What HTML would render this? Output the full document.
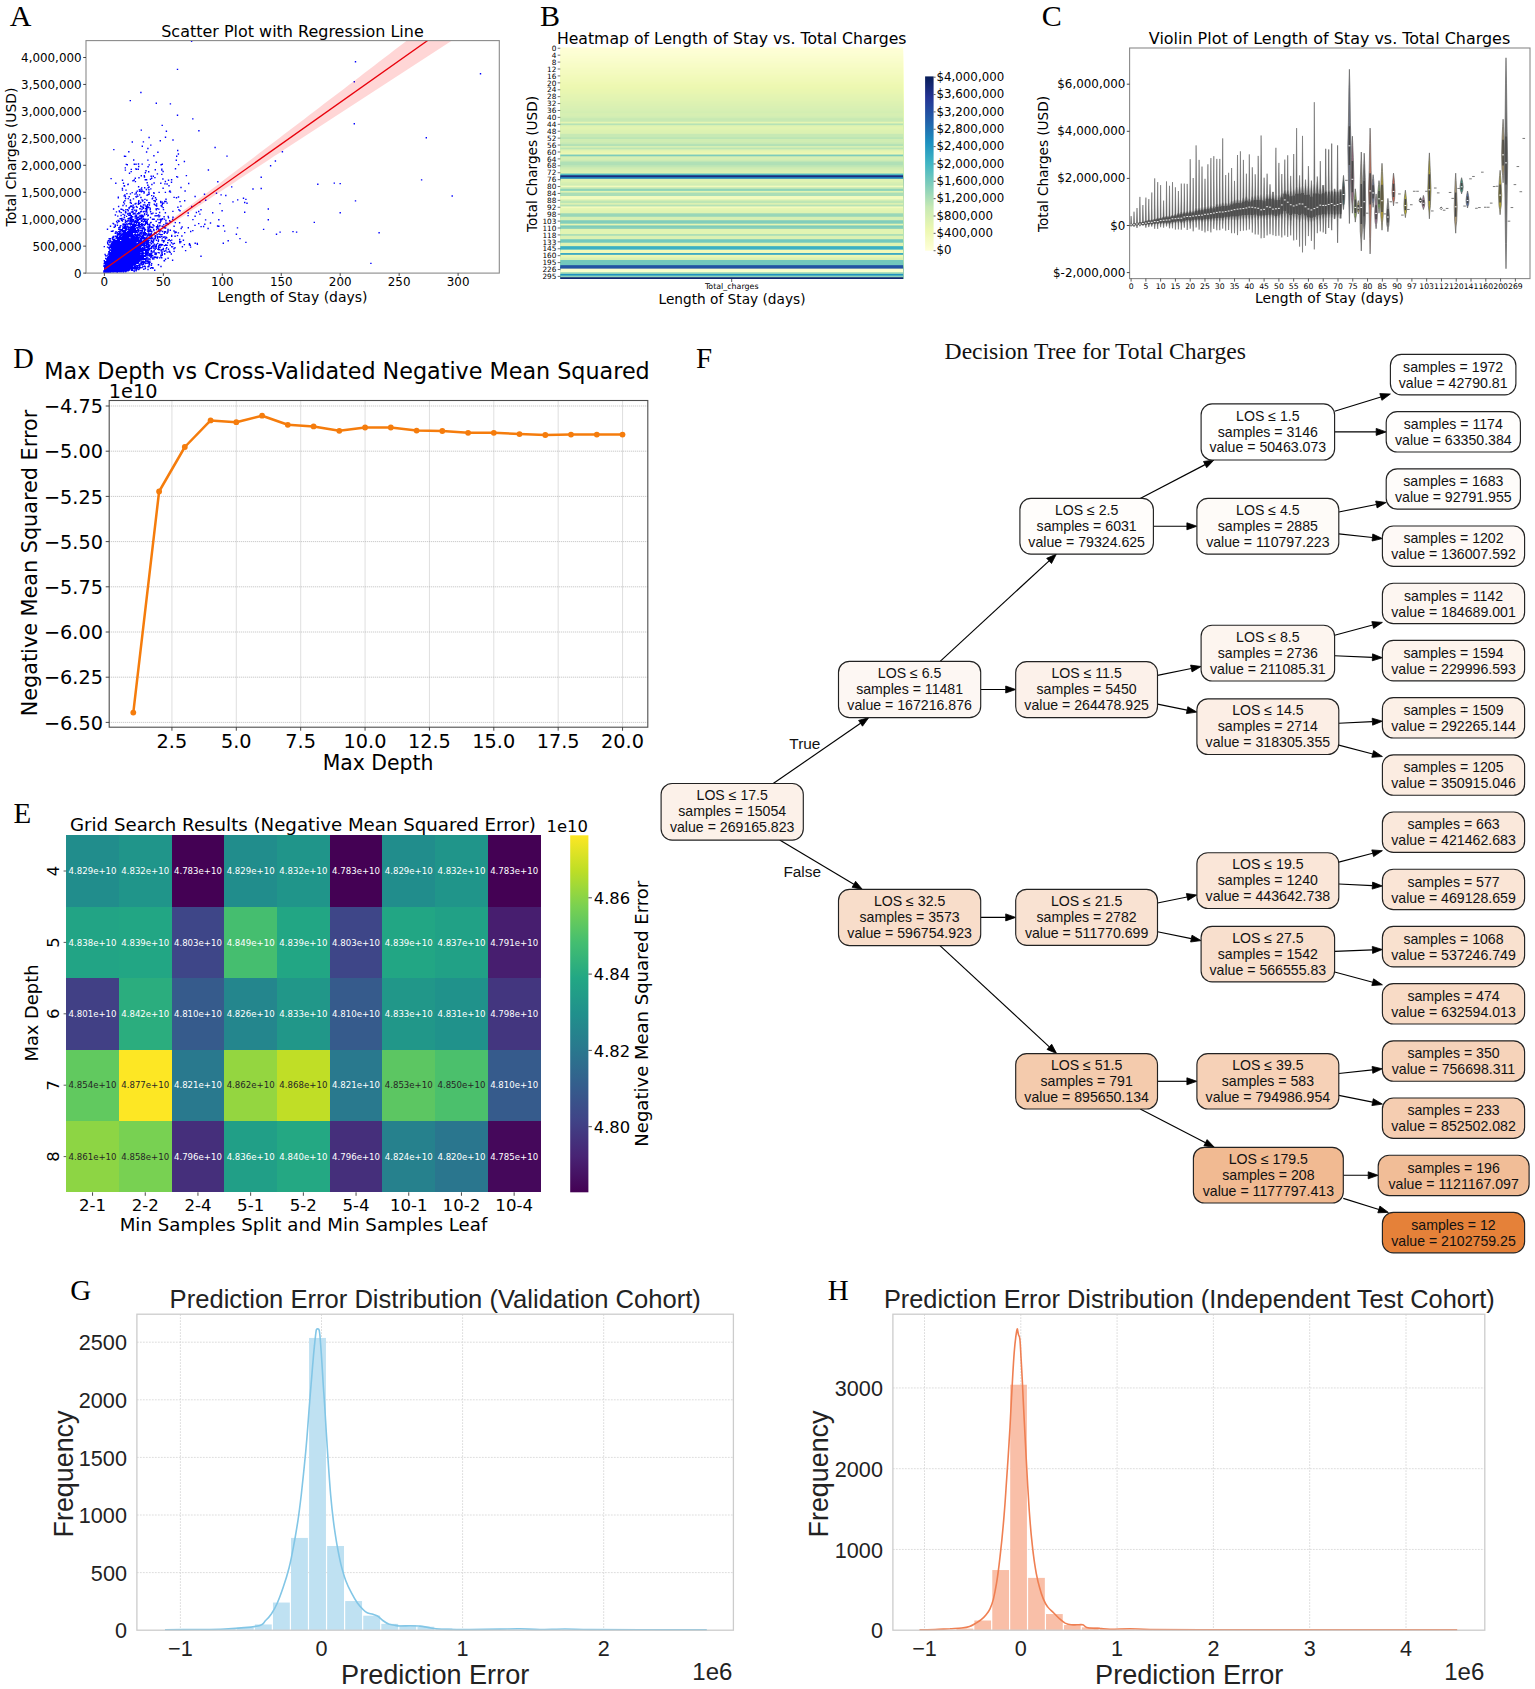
<!DOCTYPE html>
<html lang="en"><head><meta charset="utf-8"><title>Figure</title>
<style>html,body{margin:0;padding:0;background:#fff}svg{display:block}text{white-space:pre}</style></head>
<body><svg width="1535" height="1689" viewBox="0 0 1535 1689">
<rect width="1535" height="1689" fill="#fff"/>
<clipPath id="ca"><rect x="86" y="40.6" width="413.3" height="232.5"/></clipPath>
<g clip-path="url(#ca)">
<path d="M130 219.5h1M130 220.5h2M144 220.5h1M130 221.5h1M135 221.5h2M135 222.5h3M138 223.5h2M146 223.5h1M133 224.5h3M139 224.5h2M132 225.5h4M139 225.5h1M124 226.5h2M131 226.5h5M123 227.5h3M130 227.5h5M124 228.5h2M130 228.5h5M121 229.5h2M129 229.5h7M121 230.5h4M129 230.5h9M122 231.5h4M129 231.5h8M123 232.5h14M143 232.5h2M118 233.5h1M123 233.5h10M143 233.5h3M118 234.5h2M123 234.5h10M138 234.5h1M143 234.5h2M148 234.5h2M123 235.5h11M138 235.5h1M142 235.5h2M149 235.5h2M122 236.5h13M142 236.5h2M116 237.5h13M131 237.5h8M141 237.5h4M117 238.5h12M131 238.5h8M140 238.5h6M117 239.5h22M140 239.5h2M144 239.5h2M113 240.5h7M122 240.5h20M144 240.5h2M113 241.5h33M112 242.5h24M138 242.5h7M112 243.5h24M140 243.5h5M111 244.5h27M140 244.5h5M111 245.5h35M148 245.5h1M110 246.5h31M147 246.5h2M110 247.5h31M147 247.5h2M111 248.5h33M112 249.5h35M112 250.5h35M111 251.5h28M145 251.5h2M109 252.5h30M145 252.5h2M109 253.5h30M145 253.5h2M109 254.5h31M142 254.5h1M145 254.5h2M150 254.5h1M109 255.5h37M108 256.5h38M151 256.5h1M107 257.5h37M107 258.5h38M107 259.5h39M107 260.5h33M105 261.5h33M105 262.5h33M142 262.5h1M144 262.5h1M105 263.5h32M141 263.5h1M105 264.5h28M105 265.5h28M104 266.5h29M104 267.5h33M104 268.5h33M104 269.5h25M132 269.5h1M104 270.5h24M104 271.5h8M116 271.5h3" stroke="#0000ff" stroke-width="1" fill="none" shape-rendering="crispEdges"/>
<path d="M169.9 221.6h1.4M117.6 197.7h1.4M133.5 222.6h1.4M168.3 185.7h1.4M147.6 227.0h1.4M171.9 260.2h1.4M124.7 225.1h1.4M103.3 272.0h1.4M154.0 270.3h1.4M104.1 272.3h1.4M115.0 271.7h1.4M149.7 238.1h1.4M144.7 268.5h1.4M104.6 272.1h1.4M122.5 210.1h1.4M104.7 272.3h1.4M104.7 272.4h1.4M130.5 206.0h1.4M147.6 266.5h1.4M164.9 223.1h1.4M150.5 176.2h1.4M133.5 266.2h1.4M140.0 202.5h1.4M148.3 235.9h1.4M103.5 272.7h1.4M124.8 220.2h1.4M103.3 271.5h1.4M141.6 264.6h1.4M121.8 234.0h1.4M138.7 268.9h1.4M137.0 263.2h1.4M118.7 271.1h1.4M137.1 267.2h1.4M120.5 212.6h1.4M148.8 264.8h1.4M104.9 272.2h1.4M154.4 253.0h1.4M113.3 271.1h1.4M104.1 272.2h1.4M154.3 246.3h1.4M147.0 224.6h1.4M128.5 196.7h1.4M145.9 179.7h1.4M108.4 272.1h1.4M134.6 234.0h1.4M164.2 183.9h1.4M148.2 255.4h1.4M124.6 230.5h1.4M121.8 221.0h1.4M147.1 185.3h1.4M137.0 213.9h1.4M103.4 272.6h1.4M139.0 261.1h1.4M149.5 209.8h1.4M139.3 233.4h1.4M160.0 201.5h1.4M112.4 223.4h1.4M149.7 262.1h1.4M146.5 220.2h1.4M163.1 224.8h1.4M138.0 201.9h1.4M155.7 209.9h1.4M103.4 272.5h1.4M156.6 226.9h1.4M128.1 230.3h1.4M138.6 268.5h1.4M113.0 271.2h1.4M111.8 241.9h1.4M116.5 235.9h1.4M104.1 272.7h1.4M145.2 219.2h1.4M133.4 234.7h1.4M128.0 223.7h1.4M151.0 178.2h1.4M156.9 238.3h1.4M108.3 272.0h1.4M147.4 235.6h1.4M134.4 204.0h1.4M131.2 219.8h1.4M120.4 234.1h1.4M154.4 236.2h1.4M134.6 178.3h1.4M137.7 225.6h1.4M103.4 272.3h1.4M106.3 272.1h1.4M103.4 272.8h1.4M104.7 272.2h1.4M136.9 236.7h1.4M104.6 272.2h1.4M141.5 230.5h1.4M103.5 263.9h1.4M155.7 205.9h1.4M107.1 242.6h1.4M154.8 197.7h1.4M140.2 211.8h1.4M118.7 271.9h1.4M144.3 221.4h1.4M138.9 215.9h1.4M144.0 229.1h1.4M116.5 272.2h1.4M139.5 226.5h1.4M153.5 244.2h1.4M103.9 272.3h1.4M111.8 271.4h1.4M133.5 271.1h1.4M121.0 240.9h1.4M150.1 145.1h1.4M122.9 272.0h1.4M152.0 252.1h1.4M108.4 247.8h1.4M163.8 260.9h1.4M150.4 239.1h1.4M144.7 262.1h1.4M137.7 263.0h1.4M165.3 237.1h1.4M107.5 272.2h1.4M139.1 267.4h1.4M109.5 240.8h1.4M105.9 272.0h1.4M111.8 237.7h1.4M145.8 241.2h1.4M155.6 245.3h1.4M155.4 209.0h1.4M141.4 267.6h1.4M142.7 240.8h1.4M133.6 164.3h1.4M139.4 264.4h1.4M103.4 272.6h1.4M111.5 271.1h1.4M129.6 223.0h1.4M148.2 228.7h1.4M134.5 228.9h1.4M104.0 272.0h1.4M127.2 226.5h1.4M141.1 264.3h1.4M143.9 219.8h1.4M157.7 264.9h1.4M159.0 231.9h1.4M136.2 225.6h1.4M139.2 253.0h1.4M104.9 272.5h1.4M148.9 245.7h1.4M129.7 193.9h1.4M103.7 272.7h1.4M141.7 216.8h1.4M109.4 272.3h1.4M118.7 236.0h1.4M103.6 260.7h1.4M138.3 251.5h1.4M147.4 250.7h1.4M111.8 231.3h1.4M140.2 197.5h1.4M162.6 237.3h1.4M103.5 272.4h1.4M129.6 213.4h1.4M120.4 234.8h1.4M103.9 272.6h1.4M120.9 220.4h1.4M132.9 207.9h1.4M133.5 271.5h1.4M104.8 272.3h1.4M130.6 269.7h1.4M124.8 212.6h1.4M139.3 215.9h1.4M129.3 215.3h1.4M144.2 235.6h1.4M138.1 200.6h1.4M103.5 272.0h1.4M105.0 272.3h1.4M141.2 223.6h1.4M150.1 257.5h1.4M136.9 229.9h1.4M104.0 272.3h1.4M143.5 247.1h1.4M103.8 272.7h1.4M150.9 231.1h1.4M107.2 272.1h1.4M161.8 203.6h1.4M125.2 209.6h1.4M181.2 236.0h1.4M161.0 257.7h1.4M161.2 253.3h1.4M136.6 221.7h1.4M104.8 272.1h1.4M124.2 200.7h1.4M103.2 272.6h1.4M130.6 218.1h1.4M103.5 272.6h1.4M149.9 222.7h1.4M148.8 245.6h1.4M122.5 225.0h1.4M144.6 232.7h1.4M104.1 272.3h1.4M103.2 270.9h1.4M103.9 272.5h1.4M109.9 244.9h1.4M150.6 213.8h1.4M119.8 271.9h1.4M113.3 271.2h1.4M104.5 272.3h1.4M114.7 271.5h1.4M118.8 271.0h1.4M142.7 211.7h1.4M161.4 252.5h1.4M137.1 196.4h1.4M105.0 272.1h1.4M104.5 272.1h1.4M116.9 272.0h1.4M120.0 236.2h1.4M145.9 152.0h1.4M130.0 206.3h1.4M135.3 203.5h1.4M112.3 271.0h1.4M123.6 217.3h1.4M111.2 249.2h1.4M135.7 206.5h1.4M149.3 245.3h1.4M105.0 272.1h1.4M112.1 237.1h1.4M120.1 236.5h1.4M155.6 162.2h1.4M150.8 227.1h1.4M111.5 271.6h1.4M149.0 225.9h1.4M130.6 215.7h1.4M103.7 272.3h1.4M123.3 223.9h1.4M142.7 205.0h1.4M142.8 254.1h1.4M115.5 238.6h1.4M144.2 248.0h1.4M146.5 182.8h1.4M104.0 272.7h1.4M144.5 224.5h1.4M147.3 269.5h1.4M145.1 258.4h1.4M142.7 208.2h1.4M133.0 264.1h1.4M103.3 272.3h1.4M151.2 213.9h1.4M142.4 226.9h1.4M141.7 247.7h1.4M164.2 232.2h1.4M146.5 206.0h1.4M126.4 226.2h1.4M117.4 220.4h1.4M118.6 211.0h1.4M119.4 218.7h1.4M150.7 267.6h1.4M142.6 261.7h1.4M130.5 171.6h1.4M125.9 216.4h1.4M129.9 224.3h1.4M121.6 235.0h1.4M120.1 236.9h1.4M113.5 239.6h1.4M126.1 229.1h1.4M115.3 236.9h1.4M134.2 213.7h1.4M103.9 272.8h1.4M137.8 164.0h1.4M144.1 248.3h1.4M129.4 213.9h1.4M142.2 191.4h1.4M138.8 244.4h1.4M146.9 249.4h1.4M120.4 218.8h1.4M103.8 272.3h1.4M123.8 217.6h1.4M103.9 272.6h1.4M125.3 221.4h1.4M138.8 235.3h1.4M109.8 226.2h1.4M146.4 212.9h1.4M110.9 243.3h1.4M119.8 236.1h1.4M116.5 232.4h1.4M147.0 250.4h1.4M163.5 260.8h1.4M138.7 244.3h1.4M142.4 229.0h1.4M137.7 222.5h1.4M157.1 215.8h1.4M133.6 180.0h1.4M127.6 229.2h1.4M128.9 223.3h1.4M140.3 230.5h1.4M126.8 231.7h1.4M134.3 194.1h1.4M136.7 243.8h1.4M136.8 268.8h1.4M134.8 220.4h1.4M104.0 272.1h1.4M150.6 243.5h1.4M147.3 258.1h1.4M148.9 224.5h1.4M134.2 264.8h1.4M139.3 228.2h1.4M129.8 200.8h1.4M149.2 253.6h1.4M114.6 226.5h1.4M135.8 210.2h1.4M114.6 236.3h1.4M103.6 272.5h1.4M110.6 250.1h1.4M109.3 250.6h1.4M162.7 227.2h1.4M164.7 192.4h1.4M144.2 199.4h1.4M103.9 272.9h1.4M142.4 261.3h1.4M150.4 255.5h1.4M103.3 272.4h1.4M136.0 235.1h1.4M147.3 244.3h1.4M165.4 248.9h1.4M146.2 237.5h1.4M117.0 235.2h1.4M106.3 272.1h1.4M135.8 197.1h1.4M150.5 251.1h1.4M139.9 267.7h1.4M124.7 230.5h1.4M157.5 252.6h1.4M104.9 272.0h1.4M104.4 272.4h1.4M151.0 253.6h1.4M133.0 160.0h1.4M126.4 224.5h1.4M138.3 251.2h1.4M111.8 271.7h1.4M126.6 164.8h1.4M135.9 235.7h1.4M103.4 272.5h1.4M103.3 271.7h1.4M104.6 272.3h1.4M148.1 187.4h1.4M148.2 266.6h1.4M104.6 272.4h1.4M148.5 238.2h1.4M125.3 190.1h1.4M148.4 265.0h1.4M114.7 215.0h1.4M137.6 230.1h1.4M134.3 269.7h1.4M103.7 272.7h1.4M114.1 271.3h1.4M128.0 229.0h1.4M103.3 272.4h1.4M128.6 221.1h1.4M137.6 217.1h1.4M103.5 273.0h1.4M157.2 219.5h1.4M103.3 271.5h1.4M133.9 222.2h1.4M153.5 257.2h1.4M141.3 199.9h1.4M121.2 234.4h1.4M104.1 261.9h1.4M177.2 207.2h1.4M121.6 235.0h1.4M169.7 240.7h1.4M113.0 271.8h1.4M156.9 257.2h1.4M104.8 272.1h1.4M125.6 205.9h1.4M110.9 243.2h1.4M162.8 209.6h1.4M162.4 188.3h1.4M133.6 266.6h1.4M105.0 255.9h1.4M145.3 211.0h1.4M115.3 231.7h1.4M161.9 218.7h1.4M140.4 215.2h1.4M104.9 272.0h1.4M132.3 270.1h1.4M147.4 244.8h1.4M141.0 223.7h1.4M146.0 244.4h1.4M142.2 215.5h1.4M138.9 244.0h1.4M119.3 233.8h1.4M103.7 272.5h1.4M144.9 221.5h1.4M103.3 272.3h1.4M118.9 211.7h1.4M103.5 272.6h1.4M103.3 270.9h1.4M104.2 272.2h1.4M131.0 217.6h1.4M113.3 271.4h1.4M145.8 207.3h1.4M145.2 211.8h1.4M109.2 250.5h1.4M157.0 243.5h1.4M112.4 230.9h1.4M128.1 151.8h1.4M145.4 241.8h1.4M127.7 227.2h1.4M113.9 239.5h1.4M139.0 203.6h1.4M103.8 272.6h1.4M129.8 226.1h1.4M103.8 272.2h1.4M105.1 272.2h1.4M143.8 228.2h1.4M125.9 230.0h1.4M164.7 181.5h1.4M146.3 223.0h1.4M143.5 248.7h1.4M136.4 236.6h1.4M125.3 227.0h1.4M134.7 181.6h1.4M118.7 231.9h1.4M141.2 228.3h1.4M107.6 272.3h1.4M103.9 272.3h1.4M134.1 264.1h1.4M124.6 230.6h1.4M155.4 213.4h1.4M165.3 225.2h1.4M144.8 208.8h1.4M127.4 218.8h1.4M105.2 272.1h1.4M104.0 272.0h1.4M117.9 231.6h1.4M129.3 218.8h1.4M138.1 229.9h1.4M111.9 271.5h1.4M104.7 272.0h1.4M138.9 251.1h1.4M148.7 246.5h1.4M140.3 232.7h1.4M103.5 272.4h1.4M145.7 233.6h1.4M128.6 220.9h1.4M147.7 253.0h1.4M138.9 218.1h1.4M149.9 268.4h1.4M103.5 272.4h1.4M139.1 219.4h1.4M130.8 212.0h1.4M135.3 215.2h1.4M141.9 215.9h1.4M141.9 201.0h1.4M155.5 215.8h1.4M138.0 212.8h1.4M104.5 272.3h1.4M148.1 244.4h1.4M121.8 271.1h1.4M142.8 247.0h1.4M157.1 249.4h1.4M133.4 223.4h1.4M135.1 168.9h1.4M130.1 224.5h1.4M103.8 272.1h1.4M128.5 227.5h1.4M142.5 253.4h1.4M149.6 255.7h1.4M124.5 224.7h1.4M114.2 271.8h1.4M126.4 226.4h1.4M120.6 271.2h1.4M155.6 257.5h1.4M108.3 252.9h1.4M161.0 236.6h1.4M138.3 177.7h1.4M109.9 238.7h1.4M115.6 236.5h1.4M106.5 272.4h1.4M145.7 238.9h1.4M111.7 271.8h1.4M121.0 234.6h1.4M139.0 253.0h1.4M128.4 269.8h1.4M106.1 272.3h1.4M104.1 272.2h1.4M103.9 272.2h1.4M146.6 223.2h1.4M140.7 217.2h1.4M153.3 230.5h1.4M143.9 213.6h1.4M103.8 272.3h1.4M124.6 196.5h1.4M146.0 211.4h1.4M152.4 246.9h1.4M142.6 263.3h1.4M145.8 240.7h1.4M157.8 264.8h1.4M142.3 266.4h1.4M136.8 267.2h1.4M119.8 235.6h1.4M117.9 206.5h1.4M135.8 215.5h1.4M134.5 218.0h1.4M137.2 236.4h1.4M144.2 230.0h1.4M135.3 164.2h1.4M144.0 266.3h1.4M128.9 269.4h1.4M140.3 197.6h1.4M134.8 264.4h1.4M104.0 272.5h1.4M103.5 272.1h1.4M135.8 210.8h1.4M105.1 272.5h1.4M138.3 226.3h1.4M141.0 221.4h1.4M137.1 266.4h1.4M136.5 232.2h1.4M103.3 272.6h1.4M144.9 223.3h1.4M109.2 240.5h1.4M177.7 232.9h1.4M104.0 272.6h1.4M156.0 203.9h1.4M116.9 272.1h1.4M148.9 202.7h1.4M147.5 194.5h1.4M112.9 209.0h1.4M135.5 270.8h1.4M135.6 227.9h1.4M104.9 272.4h1.4M163.1 203.1h1.4M147.0 204.6h1.4M135.4 211.5h1.4M136.5 217.8h1.4M138.1 265.2h1.4M121.7 188.5h1.4M113.3 271.9h1.4M122.8 183.3h1.4M135.9 269.5h1.4M128.3 228.8h1.4M126.2 193.6h1.4M137.9 261.1h1.4M161.5 226.3h1.4M110.4 178.6h1.4M128.5 218.1h1.4M138.9 219.2h1.4M104.6 272.4h1.4M116.7 236.3h1.4M107.2 255.5h1.4M134.4 236.0h1.4M168.9 220.7h1.4M148.3 254.6h1.4M118.1 229.4h1.4M103.5 272.6h1.4M103.7 272.5h1.4M145.2 206.1h1.4M105.2 272.3h1.4M154.1 238.8h1.4M146.0 214.4h1.4M143.5 253.2h1.4M105.3 272.6h1.4M140.2 206.5h1.4M129.8 215.1h1.4M118.7 221.1h1.4M136.9 221.2h1.4M142.6 253.0h1.4M124.7 222.6h1.4M104.5 272.1h1.4M116.7 225.3h1.4M135.5 265.7h1.4M158.4 192.4h1.4M105.3 272.6h1.4M129.6 202.6h1.4M114.6 233.3h1.4M136.4 227.6h1.4M105.3 272.0h1.4M146.0 241.1h1.4M151.0 227.3h1.4M146.2 200.2h1.4M137.6 230.8h1.4M150.5 252.1h1.4M150.4 236.6h1.4M167.8 249.3h1.4M157.9 215.0h1.4M132.8 198.9h1.4M137.9 225.3h1.4M152.1 227.5h1.4M133.6 266.6h1.4M108.5 238.8h1.4M173.7 243.4h1.4M113.4 271.7h1.4M128.6 227.6h1.4M105.2 272.1h1.4M137.6 230.9h1.4M123.9 215.2h1.4M135.1 266.4h1.4M143.5 192.0h1.4M154.6 169.8h1.4M139.1 226.6h1.4M138.1 243.0h1.4M103.6 272.5h1.4M123.7 203.9h1.4M103.4 272.4h1.4M137.8 231.7h1.4M124.0 271.1h1.4M127.4 213.4h1.4M121.3 235.7h1.4M110.9 250.8h1.4M128.2 229.9h1.4M132.3 212.3h1.4M103.9 272.3h1.4M124.9 156.4h1.4M149.3 242.6h1.4M107.6 254.1h1.4M144.8 224.2h1.4M143.1 269.3h1.4M144.9 260.5h1.4M142.7 216.8h1.4M124.7 222.1h1.4M105.3 272.5h1.4M165.3 199.3h1.4M132.8 265.0h1.4M113.3 271.6h1.4M157.2 228.4h1.4M127.5 198.6h1.4M144.0 187.8h1.4M147.6 215.3h1.4M134.3 264.3h1.4M128.4 208.6h1.4M135.3 215.4h1.4M105.7 258.9h1.4M121.1 271.8h1.4M149.4 234.3h1.4M146.2 242.7h1.4M162.9 240.8h1.4M118.7 271.3h1.4M106.3 272.1h1.4M104.7 272.2h1.4M141.8 216.2h1.4M127.2 184.6h1.4M159.1 215.9h1.4M161.8 244.7h1.4M104.5 272.1h1.4M159.1 249.5h1.4M112.9 223.9h1.4M164.7 238.7h1.4M143.9 221.0h1.4M105.7 272.2h1.4M149.0 245.5h1.4M122.5 271.1h1.4M130.9 219.0h1.4M133.6 221.5h1.4M155.8 205.5h1.4M146.6 241.9h1.4M130.7 222.9h1.4M128.5 224.1h1.4M137.5 219.9h1.4M161.9 231.5h1.4M104.1 272.2h1.4M139.9 202.5h1.4M157.8 247.5h1.4M108.7 251.9h1.4M148.6 258.9h1.4M121.2 209.4h1.4M104.1 265.7h1.4M155.7 199.5h1.4M150.4 257.3h1.4M122.4 214.4h1.4M137.7 204.3h1.4M138.0 166.5h1.4M141.6 207.0h1.4M135.8 216.8h1.4M145.8 246.3h1.4M139.1 208.8h1.4M106.2 272.7h1.4M104.7 272.1h1.4M156.0 206.0h1.4M141.6 225.5h1.4M135.8 223.8h1.4M119.4 226.3h1.4M103.7 272.2h1.4M122.3 205.5h1.4M164.0 254.1h1.4M104.7 272.1h1.4M134.7 266.8h1.4M126.3 221.8h1.4M141.7 251.7h1.4M156.5 234.8h1.4M135.2 220.9h1.4M158.1 209.1h1.4M148.4 137.5h1.4M147.6 245.0h1.4M136.7 227.9h1.4M116.7 222.9h1.4M144.7 243.0h1.4M147.3 240.3h1.4M152.3 213.1h1.4M103.3 272.9h1.4M150.7 265.2h1.4M148.7 205.0h1.4M142.5 264.2h1.4M131.1 224.2h1.4M144.2 261.7h1.4M142.8 263.7h1.4M103.8 272.2h1.4M103.7 272.1h1.4M104.4 272.4h1.4M153.0 219.2h1.4M140.6 220.1h1.4M148.5 225.1h1.4M128.1 215.2h1.4M156.6 258.0h1.4M147.3 207.0h1.4M113.3 271.4h1.4M136.8 234.6h1.4M109.5 245.9h1.4M130.9 270.3h1.4M106.9 247.1h1.4M133.2 207.3h1.4M152.5 242.5h1.4M153.4 193.4h1.4M143.5 211.5h1.4M142.5 240.5h1.4M103.7 272.2h1.4M131.6 270.3h1.4M107.7 272.1h1.4M160.2 256.9h1.4M151.6 238.1h1.4M125.9 227.9h1.4M141.3 232.7h1.4M139.4 230.8h1.4M104.6 272.0h1.4M141.5 252.0h1.4M104.7 272.2h1.4M157.7 236.9h1.4M137.8 229.6h1.4M106.2 260.8h1.4M138.7 253.3h1.4M103.3 271.4h1.4M135.6 236.3h1.4M137.5 224.9h1.4M143.3 193.1h1.4M109.3 241.8h1.4M111.0 250.8h1.4M137.5 230.5h1.4M140.4 236.3h1.4M150.9 248.2h1.4M135.6 192.5h1.4M132.0 212.0h1.4M107.2 256.1h1.4M146.9 227.1h1.4M131.8 221.3h1.4M146.6 252.9h1.4M160.5 250.7h1.4M145.4 244.3h1.4M108.3 272.1h1.4M140.3 236.6h1.4M175.8 197.7h1.4M138.9 264.2h1.4M143.1 218.7h1.4M152.0 255.8h1.4M159.4 247.4h1.4M108.1 251.8h1.4M114.5 225.0h1.4M109.9 272.1h1.4M146.5 253.8h1.4M108.6 272.1h1.4M165.1 250.8h1.4M151.0 246.8h1.4M119.4 227.2h1.4M160.5 205.7h1.4M158.1 226.9h1.4M140.6 175.7h1.4M122.3 224.1h1.4M109.3 240.9h1.4M150.1 257.8h1.4M128.6 269.2h1.4M141.1 224.3h1.4M104.1 272.7h1.4M103.5 272.6h1.4M154.8 232.6h1.4M104.0 272.6h1.4M123.0 219.4h1.4M127.2 220.8h1.4M136.8 236.0h1.4M156.4 227.7h1.4M123.5 225.1h1.4M108.1 244.8h1.4M142.2 266.6h1.4M129.3 238.5h1.4M148.6 254.5h1.4M140.7 230.9h1.4M138.9 194.9h1.4M139.1 237.3h1.4M155.8 226.8h1.4M128.3 219.1h1.4M115.8 211.9h1.4M157.0 225.3h1.4M142.2 234.1h1.4M115.5 236.9h1.4M120.2 234.7h1.4M143.0 227.4h1.4M171.0 236.3h1.4M131.5 192.6h1.4M137.8 203.2h1.4M104.1 272.8h1.4M140.0 206.0h1.4M103.4 265.7h1.4M129.7 200.0h1.4M106.4 272.9h1.4M136.9 234.0h1.4M138.6 234.6h1.4M131.2 222.5h1.4M135.6 225.5h1.4M145.9 238.5h1.4M161.3 206.6h1.4M144.8 237.9h1.4M141.7 228.4h1.4M103.7 272.3h1.4M128.9 213.2h1.4M120.4 232.0h1.4M106.3 272.1h1.4M144.6 263.6h1.4M104.4 272.1h1.4M158.8 252.9h1.4M107.0 243.8h1.4M136.7 232.2h1.4M129.8 217.2h1.4M104.4 272.3h1.4M154.8 235.7h1.4M142.3 261.3h1.4M157.2 152.2h1.4M145.7 189.5h1.4M129.9 217.4h1.4M132.4 205.2h1.4M109.5 241.3h1.4M139.9 211.8h1.4M154.8 257.3h1.4M140.1 226.1h1.4M160.2 220.0h1.4M145.9 240.8h1.4M136.8 265.7h1.4M151.2 231.9h1.4M119.4 229.3h1.4M130.6 203.3h1.4M119.1 236.8h1.4M167.2 232.1h1.4M146.6 252.0h1.4M143.4 248.8h1.4M146.3 253.0h1.4M159.5 222.7h1.4M139.1 239.0h1.4M158.3 222.8h1.4M141.0 187.9h1.4M144.7 219.5h1.4M142.5 227.7h1.4M135.6 193.1h1.4M154.3 254.4h1.4M104.1 272.3h1.4M139.0 213.1h1.4M151.8 219.2h1.4M139.2 222.5h1.4M141.3 209.3h1.4M147.4 219.2h1.4M113.1 271.6h1.4M120.4 209.3h1.4M113.3 271.4h1.4M112.9 237.6h1.4M165.7 131.3h1.4M115.1 183.2h1.4M104.9 272.5h1.4M103.2 272.3h1.4M141.5 231.9h1.4M161.2 249.8h1.4M119.0 231.7h1.4M103.4 272.2h1.4M103.9 272.4h1.4M138.9 216.1h1.4M134.0 222.2h1.4M148.3 187.0h1.4M161.1 169.1h1.4M131.0 221.0h1.4M105.3 272.1h1.4M136.3 219.8h1.4M150.1 231.3h1.4M109.1 247.2h1.4M153.4 219.3h1.4M142.7 262.8h1.4M136.4 234.7h1.4M104.1 272.9h1.4M150.5 241.1h1.4M151.6 198.7h1.4M148.4 248.5h1.4M114.8 271.9h1.4M105.3 272.3h1.4M128.0 229.4h1.4M105.1 272.1h1.4M136.6 234.7h1.4M137.7 231.6h1.4M147.0 244.3h1.4M103.4 272.1h1.4M146.6 238.4h1.4M132.4 214.1h1.4M111.5 271.5h1.4M147.7 241.8h1.4M104.8 272.3h1.4M160.2 255.2h1.4M152.1 267.7h1.4M142.7 221.8h1.4M104.0 272.3h1.4M152.1 241.3h1.4M109.3 249.1h1.4M158.3 231.1h1.4M148.7 256.0h1.4M123.4 195.9h1.4M128.6 238.9h1.4M140.3 251.6h1.4M138.1 227.1h1.4M153.6 204.3h1.4M152.3 268.2h1.4M110.7 231.4h1.4M131.8 207.0h1.4M143.6 175.7h1.4M141.2 190.0h1.4M144.9 243.1h1.4M112.8 236.5h1.4M132.9 213.8h1.4M131.5 219.4h1.4M154.6 237.3h1.4M132.9 221.0h1.4M105.3 272.0h1.4M147.2 148.5h1.4M114.7 271.2h1.4M147.2 229.0h1.4M130.7 216.4h1.4M136.4 237.0h1.4M167.8 217.8h1.4M146.4 234.5h1.4M135.9 218.5h1.4M138.1 224.2h1.4M140.5 254.3h1.4M135.8 169.2h1.4M146.5 222.5h1.4M164.0 253.6h1.4M127.4 270.8h1.4M148.5 261.8h1.4M138.2 213.7h1.4M148.1 250.6h1.4M149.5 208.3h1.4M125.6 223.9h1.4M103.4 272.5h1.4M146.1 255.3h1.4M132.3 180.7h1.4M105.3 272.3h1.4M154.5 238.3h1.4M127.0 214.1h1.4M125.0 212.7h1.4M118.2 227.7h1.4M103.6 272.1h1.4M104.9 272.3h1.4M105.3 272.4h1.4M137.6 225.0h1.4M104.9 272.2h1.4M126.2 221.5h1.4M144.2 204.9h1.4M113.1 149.6h1.4M103.4 272.1h1.4M151.8 235.3h1.4M128.4 239.0h1.4M130.7 206.3h1.4M122.3 226.8h1.4M162.7 248.5h1.4M164.0 201.5h1.4M134.3 235.0h1.4M149.7 236.4h1.4M112.4 271.2h1.4M140.2 226.7h1.4M103.9 272.4h1.4M111.5 271.2h1.4M128.6 215.2h1.4M110.1 272.1h1.4M152.2 242.2h1.4M139.0 236.9h1.4M113.9 271.4h1.4M162.8 242.1h1.4M105.6 255.9h1.4M149.9 227.0h1.4M103.7 263.2h1.4M146.4 195.2h1.4M125.2 271.1h1.4M146.0 233.8h1.4M163.4 216.7h1.4M153.0 229.5h1.4M129.5 238.0h1.4M177.9 164.6h1.4M160.1 202.5h1.4M125.1 212.5h1.4M112.1 271.3h1.4M132.1 224.4h1.4M140.1 263.1h1.4M122.3 232.9h1.4M125.6 164.4h1.4M150.8 237.9h1.4M141.5 220.0h1.4M138.6 234.3h1.4M129.2 207.1h1.4M136.4 194.9h1.4M112.4 272.0h1.4M147.4 187.9h1.4M159.4 237.3h1.4M138.3 252.6h1.4M161.1 170.1h1.4M103.3 271.8h1.4M127.4 270.4h1.4M121.3 218.4h1.4M119.1 271.5h1.4M141.3 264.8h1.4M142.7 219.6h1.4M147.3 255.1h1.4M113.5 227.3h1.4M105.0 258.5h1.4M141.6 230.3h1.4M150.0 234.2h1.4M149.3 259.7h1.4M148.1 233.2h1.4M146.9 231.1h1.4M103.7 272.7h1.4M123.9 271.1h1.4M122.7 228.1h1.4M168.8 251.2h1.4M155.5 244.8h1.4M146.2 209.6h1.4M116.3 233.5h1.4M149.9 229.5h1.4M143.9 214.8h1.4M173.3 231.0h1.4M134.7 228.4h1.4M153.3 251.9h1.4M146.0 208.6h1.4M105.1 272.0h1.4M124.9 198.5h1.4M127.0 226.6h1.4M151.0 251.5h1.4M138.3 267.8h1.4M125.8 271.0h1.4M108.4 272.0h1.4M119.0 236.2h1.4M141.1 236.4h1.4M142.2 200.4h1.4M149.3 230.2h1.4M105.0 272.1h1.4M141.0 225.4h1.4M142.2 251.8h1.4M104.7 272.2h1.4M137.8 243.1h1.4M124.8 229.4h1.4M120.1 225.6h1.4M126.9 209.6h1.4M147.7 241.4h1.4M103.6 272.1h1.4M136.3 243.5h1.4M106.9 242.2h1.4M109.7 272.1h1.4M137.6 220.4h1.4M104.9 272.1h1.4M117.6 197.2h1.4M106.2 272.0h1.4M136.9 266.8h1.4M118.9 236.5h1.4M145.1 222.5h1.4M144.8 223.8h1.4M121.8 180.3h1.4M109.7 272.0h1.4M140.7 211.2h1.4M158.8 245.3h1.4M144.7 266.9h1.4M103.5 272.6h1.4M152.2 238.3h1.4M148.2 192.3h1.4M105.0 272.5h1.4M103.4 272.4h1.4M120.0 233.8h1.4M109.1 242.5h1.4M147.5 263.0h1.4M103.9 272.0h1.4M104.5 272.2h1.4M123.0 210.6h1.4M104.1 272.2h1.4M141.1 225.3h1.4M105.0 272.2h1.4M151.0 263.6h1.4M145.7 247.5h1.4M147.0 215.9h1.4M148.0 202.7h1.4M103.3 272.6h1.4M135.6 243.0h1.4M147.3 266.7h1.4M166.5 252.1h1.4M124.9 211.4h1.4M140.5 236.5h1.4M141.0 232.9h1.4M134.5 234.3h1.4M123.0 202.2h1.4M119.4 230.6h1.4M147.4 238.5h1.4M150.4 222.4h1.4M152.3 224.8h1.4M103.7 272.7h1.4M105.0 272.1h1.4M140.7 191.7h1.4M138.3 243.6h1.4M120.4 215.5h1.4M104.4 272.1h1.4M103.6 272.2h1.4M106.8 229.2h1.4M139.5 208.9h1.4M145.1 238.0h1.4M155.9 229.5h1.4M167.0 242.8h1.4M117.9 221.6h1.4M112.7 239.7h1.4M140.7 232.6h1.4M141.2 218.3h1.4M134.4 213.1h1.4M166.4 203.1h1.4M151.2 184.5h1.4M170.6 254.0h1.4M137.9 244.0h1.4M137.5 219.3h1.4M154.6 205.1h1.4M107.1 272.0h1.4M160.3 266.5h1.4M129.5 238.8h1.4M136.3 227.9h1.4M106.2 260.3h1.4M115.9 221.5h1.4M150.5 233.5h1.4M121.4 219.8h1.4M153.3 200.6h1.4M104.9 272.1h1.4M103.9 272.7h1.4M128.2 231.5h1.4M133.5 264.8h1.4M119.2 227.4h1.4M137.6 169.3h1.4M147.4 166.7h1.4M139.4 235.4h1.4M138.6 252.9h1.4M141.0 236.3h1.4M104.9 272.4h1.4M129.4 213.6h1.4M119.9 229.7h1.4M104.5 272.1h1.4M103.2 272.5h1.4M138.7 189.6h1.4M158.3 216.9h1.4M137.9 269.6h1.4M117.1 216.1h1.4M103.5 272.9h1.4M105.3 272.5h1.4M132.1 209.1h1.4M103.7 272.2h1.4M141.3 261.5h1.4M108.4 248.5h1.4M143.5 253.4h1.4M151.0 195.6h1.4M146.5 236.0h1.4M141.6 146.2h1.4M103.9 272.8h1.4M147.7 261.8h1.4M135.3 196.6h1.4M134.4 216.2h1.4M149.4 248.1h1.4M147.3 248.3h1.4M127.4 223.9h1.4M131.3 209.6h1.4M177.8 197.0h1.4M104.8 272.0h1.4M149.6 238.3h1.4M150.8 241.6h1.4M140.3 216.3h1.4M103.6 272.0h1.4M134.7 235.2h1.4M144.1 229.7h1.4M136.7 213.8h1.4M132.0 216.8h1.4M145.9 210.0h1.4M141.5 252.2h1.4M104.5 272.5h1.4M106.0 272.4h1.4M112.1 271.0h1.4M140.7 262.6h1.4M146.1 257.5h1.4M154.5 247.0h1.4M115.3 231.9h1.4M104.4 254.5h1.4M155.5 221.3h1.4M142.7 141.9h1.4M162.4 171.5h1.4M104.1 272.9h1.4M103.4 272.3h1.4M124.7 225.7h1.4M103.3 271.5h1.4M140.3 215.7h1.4M118.8 233.2h1.4M103.9 272.2h1.4M141.1 215.2h1.4M112.1 271.2h1.4M147.6 259.9h1.4M127.5 210.8h1.4M133.5 264.1h1.4M104.1 272.2h1.4M128.2 230.3h1.4M104.6 272.1h1.4M103.4 272.1h1.4M111.2 241.5h1.4M125.7 228.0h1.4M132.2 211.1h1.4M148.8 245.1h1.4M165.3 201.5h1.4M125.0 271.7h1.4M143.7 231.3h1.4M119.1 271.3h1.4M161.1 219.5h1.4M148.2 207.4h1.4M107.6 240.8h1.4M122.1 228.5h1.4M153.4 250.5h1.4M103.3 266.2h1.4M132.8 219.7h1.4M154.2 177.6h1.4M148.4 240.3h1.4M103.3 272.4h1.4M104.8 272.4h1.4M155.5 233.1h1.4M103.3 272.8h1.4M121.2 271.8h1.4M104.0 272.7h1.4M128.4 207.7h1.4M140.1 218.3h1.4M161.1 174.4h1.4M104.9 272.2h1.4M140.6 130.1h1.4M104.0 263.9h1.4M137.8 217.4h1.4M153.2 225.7h1.4M112.1 239.2h1.4M146.0 221.8h1.4M140.4 234.3h1.4M147.3 260.0h1.4M164.7 212.8h1.4M116.8 234.0h1.4M138.9 266.1h1.4M136.5 207.4h1.4M103.5 272.3h1.4M128.3 270.2h1.4M108.3 247.7h1.4M103.6 272.4h1.4M134.1 210.3h1.4M111.5 271.4h1.4M131.6 142.0h1.4M153.3 258.9h1.4M145.8 244.0h1.4M103.4 272.2h1.4M147.3 249.0h1.4M124.7 170.1h1.4M137.2 228.3h1.4M150.4 253.9h1.4M146.2 240.3h1.4M138.2 261.5h1.4M112.9 271.6h1.4M103.6 246.6h1.4M120.0 271.4h1.4M103.6 272.1h1.4M146.3 221.8h1.4M127.0 226.8h1.4M147.7 231.6h1.4M142.7 240.9h1.4M130.6 169.4h1.4M188.0 183.5h1.4M169.8 192.1h1.4M127.5 184.1h1.4M123.8 156.3h1.4M180.3 187.5h1.4M169.2 191.0h1.4M167.8 180.2h1.4M149.8 179.2h1.4M128.8 173.3h1.4M164.8 137.3h1.4M136.6 191.1h1.4M168.8 191.6h1.4M152.6 176.3h1.4M141.5 164.1h1.4M121.8 190.1h1.4M174.8 168.8h1.4M153.1 192.8h1.4M124.6 167.9h1.4M166.4 184.0h1.4M137.9 186.7h1.4M148.5 164.9h1.4M139.7 191.0h1.4M159.6 140.7h1.4M175.6 160.3h1.4M177.7 154.0h1.4M144.7 172.8h1.4M123.5 185.8h1.4M138.8 191.3h1.4M161.6 164.3h1.4M176.0 176.6h1.4M124.2 194.9h1.4M145.3 170.7h1.4M160.4 164.7h1.4M143.8 177.0h1.4M170.9 179.8h1.4M176.0 156.2h1.4M123.8 186.0h1.4M184.4 191.0h1.4M144.6 179.7h1.4M147.2 160.1h1.4M153.4 183.0h1.4M148.2 189.8h1.4M176.9 177.1h1.4M153.2 155.7h1.4M148.0 171.8h1.4M150.1 188.9h1.4M172.3 140.0h1.4M162.2 179.0h1.4M185.7 175.6h1.4M214.4 147.5h1.4M162.5 249.5h1.4M150.7 250.4h1.4M146.0 246.8h1.4M142.8 262.1h1.4M161.5 234.6h1.4M163.6 251.3h1.4M150.7 235.5h1.4M148.7 263.2h1.4M216.9 226.0h1.4M161.6 202.1h1.4M180.5 228.5h1.4M155.6 253.3h1.4M161.3 253.2h1.4M163.7 245.6h1.4M140.2 232.7h1.4M161.3 252.6h1.4M192.2 219.6h1.4M158.1 233.9h1.4M196.6 243.5h1.4M146.0 245.3h1.4M169.5 252.4h1.4M166.0 237.7h1.4M221.4 210.8h1.4M180.1 241.8h1.4M164.9 231.7h1.4M147.3 252.2h1.4M170.8 242.7h1.4M153.0 196.3h1.4M147.5 243.2h1.4M179.3 201.6h1.4M161.4 252.0h1.4M172.2 211.4h1.4M146.3 261.3h1.4M154.6 254.3h1.4M173.4 251.4h1.4M174.6 222.6h1.4M159.1 236.7h1.4M237.0 199.9h1.4M204.1 224.3h1.4M139.3 233.0h1.4M146.1 257.8h1.4M159.1 244.4h1.4M184.0 200.7h1.4M143.9 202.5h1.4M215.8 193.2h1.4M155.7 244.4h1.4M148.6 227.1h1.4M142.4 266.5h1.4M163.9 236.9h1.4M179.0 239.4h1.4M181.4 227.0h1.4M147.5 230.5h1.4M200.3 256.3h1.4M154.3 215.9h1.4M245.2 199.4h1.4M159.3 247.1h1.4M188.7 244.7h1.4M144.9 258.5h1.4M147.4 252.6h1.4M158.1 229.2h1.4M166.2 223.2h1.4M139.3 251.4h1.4M148.5 231.3h1.4M161.5 238.9h1.4M191.0 206.5h1.4M173.4 226.3h1.4M139.2 252.4h1.4M149.7 248.6h1.4M138.9 253.8h1.4M148.5 194.0h1.4M209.8 223.0h1.4M158.0 231.2h1.4M160.2 234.7h1.4M182.7 240.3h1.4M142.4 262.3h1.4M160.4 244.4h1.4M246.3 203.2h1.4M159.1 225.5h1.4M151.9 246.0h1.4M200.3 209.7h1.4M169.7 222.1h1.4M188.8 243.8h1.4M138.9 253.3h1.4M174.5 232.0h1.4M165.1 245.4h1.4M164.9 228.0h1.4M158.2 249.8h1.4M175.5 232.3h1.4M146.1 263.3h1.4M150.7 240.8h1.4M157.9 246.0h1.4M159.2 230.1h1.4M150.9 243.4h1.4M160.4 245.5h1.4M147.4 243.7h1.4M153.2 245.6h1.4M180.2 206.1h1.4M136.8 234.7h1.4M141.3 236.1h1.4M187.5 213.0h1.4M171.0 235.5h1.4M167.3 229.5h1.4M163.8 237.1h1.4M173.3 248.7h1.4M151.0 255.2h1.4M153.2 248.2h1.4M148.5 224.1h1.4M156.7 173.9h1.4M170.8 182.3h1.4M169.6 245.1h1.4M168.4 251.7h1.4M152.0 198.1h1.4M160.4 219.2h1.4M161.6 204.8h1.4M167.5 224.2h1.4M217.1 181.7h1.4M160.2 230.8h1.4M147.2 207.9h1.4M172.0 246.9h1.4M198.0 211.5h1.4M161.3 255.3h1.4M157.9 248.9h1.4M141.3 252.1h1.4M184.9 250.6h1.4M179.3 210.8h1.4M146.3 256.9h1.4M205.0 200.3h1.4M144.8 229.8h1.4M167.4 223.9h1.4M153.3 234.2h1.4M146.0 241.4h1.4M142.4 240.0h1.4M203.8 194.3h1.4M165.1 244.6h1.4M207.4 228.5h1.4M189.9 247.1h1.4M181.7 246.7h1.4M178.2 209.8h1.4M163.8 219.1h1.4M187.4 215.6h1.4M177.0 150.5h1.4M155.4 254.6h1.4M174.3 232.8h1.4M222.6 243.3h1.4M189.6 245.2h1.4M164.8 259.3h1.4M174.4 236.3h1.4M139.3 265.6h1.4M162.7 226.9h1.4M200.4 226.6h1.4M146.3 241.4h1.4M142.8 207.1h1.4M144.0 246.8h1.4M154.6 201.6h1.4M166.4 245.4h1.4M174.3 247.7h1.4M173.4 197.4h1.4M140.3 260.7h1.4M171.0 246.7h1.4M184.0 232.6h1.4M194.3 225.4h1.4M154.2 232.8h1.4M144.8 234.7h1.4M159.3 225.8h1.4M144.0 248.3h1.4M162.5 207.6h1.4M165.2 220.5h1.4M154.2 256.9h1.4M172.3 217.3h1.4M160.1 183.2h1.4M137.9 261.5h1.4M218.1 219.7h1.4M167.4 240.4h1.4M149.8 217.5h1.4M148.6 227.5h1.4M163.7 241.0h1.4M163.6 227.7h1.4M146.2 261.0h1.4M167.4 258.3h1.4M157.8 239.9h1.4M199.2 214.1h1.4M161.4 240.6h1.4M152.2 238.7h1.4M167.5 216.4h1.4M154.5 201.0h1.4M202.9 226.5h1.4M152.0 257.9h1.4M172.3 244.0h1.4M163.9 231.6h1.4M190.0 231.5h1.4M207.7 170.0h1.4M157.7 241.2h1.4M159.3 219.5h1.4M155.6 246.8h1.4M179.0 241.3h1.4M179.2 242.8h1.4M150.9 243.9h1.4M199.0 202.4h1.4M145.9 244.3h1.4M232.3 201.9h1.4M151.0 236.5h1.4M155.8 240.3h1.4M194.5 243.2h1.4M143.6 225.3h1.4M140.3 189.1h1.4M198.2 130.7h1.4M198.0 223.6h1.4M195.7 212.5h1.4M139.0 252.1h1.4M141.3 253.4h1.4M154.5 249.3h1.4M136.7 243.8h1.4M161.6 254.6h1.4M150.7 233.9h1.4M166.4 233.2h1.4M172.0 219.2h1.4M187.6 227.8h1.4M153.0 239.9h1.4M194.4 196.5h1.4M148.6 249.2h1.4M167.3 230.7h1.4M176.8 235.6h1.4M180.2 241.9h1.4M165.2 220.7h1.4M163.6 233.3h1.4M158.9 212.5h1.4M171.0 240.1h1.4M159.0 257.9h1.4M155.5 248.4h1.4M140.3 246.6h1.4M183.7 244.6h1.4M236.8 227.9h1.4M183.7 161.5h1.4M168.6 239.8h1.4M146.0 259.0h1.4M156.8 208.6h1.4M152.1 259.1h1.4M212.0 212.7h1.4M156.6 236.8h1.4M196.7 244.4h1.4M178.9 222.8h1.4M140.4 236.2h1.4M142.5 224.5h1.4M149.9 211.7h1.4M148.7 230.9h1.4M204.9 219.9h1.4M156.9 226.6h1.4M153.0 240.7h1.4M192.1 230.6h1.4M169.6 230.2h1.4M159.2 234.4h1.4M140.4 253.7h1.4M160.1 221.3h1.4M219.3 203.6h1.4M166.0 247.6h1.4M194.4 216.2h1.4M151.9 246.5h1.4M153.3 251.5h1.4M176.8 69.4h1.4M140.2 92.5h1.4M129.6 100.6h1.4M155.6 103.3h1.4M169.7 103.9h1.4M176.8 115.2h1.4M192.1 118.9h1.4M161.5 125.4h1.4M354.8 61.8h1.4M353.6 81.8h1.4M479.8 73.7h1.4M353.6 123.8h1.4M425.6 137.8h1.4M226.3 156.1h1.4M281.7 151.8h1.4M274.7 161.0h1.4M269.9 165.8h1.4M420.9 179.9h1.4M317.1 184.2h1.4M333.6 183.1h1.4M339.5 183.6h1.4M451.5 196.0h1.4M354.8 200.9h1.4M260.5 177.2h1.4M260.5 188.5h1.4M252.3 189.0h1.4M242.8 198.2h1.4M244.0 202.5h1.4M267.6 209.0h1.4M244.0 212.2h1.4M339.5 212.7h1.4M267.6 219.7h1.4M313.6 222.4h1.4M262.9 229.4h1.4M279.4 232.1h1.4M275.8 234.3h1.4M292.3 231.6h1.4M295.9 232.1h1.4M378.4 232.7h1.4M370.2 263.4h1.4M235.7 234.3h1.4M239.3 238.6h1.4M245.2 242.4h1.4M227.5 240.8h1.4M218.1 226.2h1.4M222.8 225.7h1.4M224.0 231.1h1.4M231.0 186.9h1.4M220.4 194.9h1.4M225.1 195.5h1.4M190.9 41.3h1.4" stroke="#0000ff" stroke-width="1.4" fill="none"/>
<polygon points="104.4,268.2 109.4,264.9 114.4,261.5 119.4,258.1 124.4,254.5 129.4,250.8 134.4,247.1 139.4,243.4 144.4,239.7 149.4,236.0 154.4,232.2 159.4,228.5 164.4,224.8 169.4,221.0 174.4,217.3 179.4,213.5 184.4,209.8 189.4,206.0 194.4,202.3 199.4,198.5 204.4,194.7 209.4,190.9 214.4,187.2 219.4,183.4 224.4,179.6 229.4,175.8 234.4,172.1 239.4,168.3 244.4,164.5 249.4,160.7 254.4,156.9 259.4,153.1 264.4,149.3 269.4,145.5 274.4,141.7 279.4,137.9 284.4,134.1 289.4,130.3 294.4,126.5 299.4,122.7 304.4,118.9 309.4,115.1 314.4,111.3 319.4,107.4 324.4,103.6 329.4,99.8 334.4,96.0 339.4,92.2 344.4,88.4 349.4,84.5 354.4,80.7 359.4,76.9 364.4,73.1 369.4,69.2 374.4,65.4 379.4,61.6 384.4,57.8 389.4,53.9 394.4,50.1 399.4,46.3 404.4,42.4 409.4,38.6 414.4,34.8 419.4,30.9 424.4,27.1 429.4,23.2 434.4,19.4 439.4,15.6 444.4,11.7 449.4,7.9 454.4,4.0 459.4,0.2 464.4,-3.7 469.4,-7.5 474.4,-11.3 479.4,-15.2 484.4,-19.0 489.4,-22.9 494.4,-26.7 499.4,-30.6 499.4,10.1 494.4,13.3 489.4,16.5 484.4,19.7 479.4,23.0 474.4,26.2 469.4,29.4 464.4,32.7 459.4,35.9 454.4,39.1 449.4,42.3 444.4,45.6 439.4,48.8 434.4,52.0 429.4,55.3 424.4,58.5 419.4,61.8 414.4,65.0 409.4,68.2 404.4,71.5 399.4,74.7 394.4,78.0 389.4,81.2 384.4,84.4 379.4,87.7 374.4,90.9 369.4,94.2 364.4,97.4 359.4,100.7 354.4,103.9 349.4,107.2 344.4,110.4 339.4,113.7 334.4,117.0 329.4,120.2 324.4,123.5 319.4,126.7 314.4,130.0 309.4,133.3 304.4,136.5 299.4,139.8 294.4,143.1 289.4,146.3 284.4,149.6 279.4,152.9 274.4,156.1 269.4,159.4 264.4,162.7 259.4,166.0 254.4,169.3 249.4,172.5 244.4,175.8 239.4,179.1 234.4,182.4 229.4,185.7 224.4,189.0 219.4,192.3 214.4,195.6 209.4,198.9 204.4,202.2 199.4,205.5 194.4,208.8 189.4,212.1 184.4,215.4 179.4,218.7 174.4,222.1 169.4,225.4 164.4,228.7 159.4,232.1 154.4,235.4 149.4,238.8 144.4,242.1 139.4,245.5 134.4,248.8 129.4,252.2 124.4,255.6 119.4,259.1 114.4,262.8 109.4,266.5 104.4,270.2" fill="#ff0000" fill-opacity="0.16"/>
<line x1="104.4" y1="269.2" x2="434.4" y2="35.72" stroke="#e8000b" stroke-width="1.3"/>
</g>
<rect x="86" y="40.6" width="413.3" height="232.5" fill="none" stroke="#8a8a8a" stroke-width="1.1"/>
<line x1="83.2" y1="273.1" x2="86" y2="273.1" stroke="#333" stroke-width="0.9"/>
<text transform="translate(81.6 277.9)" font-family='"DejaVu Sans","Liberation Sans",sans-serif' font-size="11.9" text-anchor="end">0</text>
<line x1="83.2" y1="246.15" x2="86" y2="246.15" stroke="#333" stroke-width="0.9"/>
<text transform="translate(81.6 250.95)" font-family='"DejaVu Sans","Liberation Sans",sans-serif' font-size="11.9" text-anchor="end">500,000</text>
<line x1="83.2" y1="219.2" x2="86" y2="219.2" stroke="#333" stroke-width="0.9"/>
<text transform="translate(81.6 224)" font-family='"DejaVu Sans","Liberation Sans",sans-serif' font-size="11.9" text-anchor="end">1,000,000</text>
<line x1="83.2" y1="192.25" x2="86" y2="192.25" stroke="#333" stroke-width="0.9"/>
<text transform="translate(81.6 197.05)" font-family='"DejaVu Sans","Liberation Sans",sans-serif' font-size="11.9" text-anchor="end">1,500,000</text>
<line x1="83.2" y1="165.3" x2="86" y2="165.3" stroke="#333" stroke-width="0.9"/>
<text transform="translate(81.6 170.1)" font-family='"DejaVu Sans","Liberation Sans",sans-serif' font-size="11.9" text-anchor="end">2,000,000</text>
<line x1="83.2" y1="138.35" x2="86" y2="138.35" stroke="#333" stroke-width="0.9"/>
<text transform="translate(81.6 143.15)" font-family='"DejaVu Sans","Liberation Sans",sans-serif' font-size="11.9" text-anchor="end">2,500,000</text>
<line x1="83.2" y1="111.4" x2="86" y2="111.4" stroke="#333" stroke-width="0.9"/>
<text transform="translate(81.6 116.2)" font-family='"DejaVu Sans","Liberation Sans",sans-serif' font-size="11.9" text-anchor="end">3,000,000</text>
<line x1="83.2" y1="84.45" x2="86" y2="84.45" stroke="#333" stroke-width="0.9"/>
<text transform="translate(81.6 89.25)" font-family='"DejaVu Sans","Liberation Sans",sans-serif' font-size="11.9" text-anchor="end">3,500,000</text>
<line x1="83.2" y1="57.5" x2="86" y2="57.5" stroke="#333" stroke-width="0.9"/>
<text transform="translate(81.6 62.3)" font-family='"DejaVu Sans","Liberation Sans",sans-serif' font-size="11.9" text-anchor="end">4,000,000</text>
<line x1="104.4" y1="273.1" x2="104.4" y2="275.9" stroke="#333" stroke-width="0.9"/>
<text transform="translate(104.4 286.1)" font-family='"DejaVu Sans","Liberation Sans",sans-serif' font-size="11.9" text-anchor="middle">0</text>
<line x1="163.35" y1="273.1" x2="163.35" y2="275.9" stroke="#333" stroke-width="0.9"/>
<text transform="translate(163.35 286.1)" font-family='"DejaVu Sans","Liberation Sans",sans-serif' font-size="11.9" text-anchor="middle">50</text>
<line x1="222.3" y1="273.1" x2="222.3" y2="275.9" stroke="#333" stroke-width="0.9"/>
<text transform="translate(222.3 286.1)" font-family='"DejaVu Sans","Liberation Sans",sans-serif' font-size="11.9" text-anchor="middle">100</text>
<line x1="281.25" y1="273.1" x2="281.25" y2="275.9" stroke="#333" stroke-width="0.9"/>
<text transform="translate(281.25 286.1)" font-family='"DejaVu Sans","Liberation Sans",sans-serif' font-size="11.9" text-anchor="middle">150</text>
<line x1="340.2" y1="273.1" x2="340.2" y2="275.9" stroke="#333" stroke-width="0.9"/>
<text transform="translate(340.2 286.1)" font-family='"DejaVu Sans","Liberation Sans",sans-serif' font-size="11.9" text-anchor="middle">200</text>
<line x1="399.15" y1="273.1" x2="399.15" y2="275.9" stroke="#333" stroke-width="0.9"/>
<text transform="translate(399.15 286.1)" font-family='"DejaVu Sans","Liberation Sans",sans-serif' font-size="11.9" text-anchor="middle">250</text>
<line x1="458.1" y1="273.1" x2="458.1" y2="275.9" stroke="#333" stroke-width="0.9"/>
<text transform="translate(458.1 286.1)" font-family='"DejaVu Sans","Liberation Sans",sans-serif' font-size="11.9" text-anchor="middle">300</text>
<text transform="translate(292.5 36.9)" font-family='"DejaVu Sans","Liberation Sans",sans-serif' font-size="15.97" text-anchor="middle">Scatter Plot with Regression Line</text>
<text transform="translate(292.5 301.6)" font-family='"DejaVu Sans","Liberation Sans",sans-serif' font-size="13.97" text-anchor="middle">Length of Stay (days)</text>
<text transform="translate(16 157) rotate(-90)" font-family='"DejaVu Sans","Liberation Sans",sans-serif' font-size="13.9" text-anchor="middle">Total Charges (USD)</text>
<text transform="translate(9.8 25.9)" font-family='"Liberation Serif",serif' font-size="30">A</text>
<rect x="560.3" y="47.4" width="342.8" height="231.6" fill="#feffd8"/>
<rect x="560.3" y="49.13" width="342.8" height="229.87" fill="#fefed6"/>
<rect x="560.3" y="50.86" width="342.8" height="228.14" fill="#fdfed4"/>
<rect x="560.3" y="52.59" width="342.8" height="226.41" fill="#fcfed3"/>
<rect x="560.3" y="54.31" width="342.8" height="224.69" fill="#fbfed1"/>
<rect x="560.3" y="56.04" width="342.8" height="222.96" fill="#fbfdcf"/>
<rect x="560.3" y="57.77" width="342.8" height="221.23" fill="#fafdcd"/>
<rect x="560.3" y="59.5" width="342.8" height="219.5" fill="#f9fdcc"/>
<rect x="560.3" y="61.23" width="342.8" height="217.77" fill="#f8fcca"/>
<rect x="560.3" y="62.96" width="342.8" height="216.04" fill="#f7fcc8"/>
<rect x="560.3" y="64.68" width="342.8" height="214.32" fill="#f7fcc6"/>
<rect x="560.3" y="66.41" width="342.8" height="212.59" fill="#f6fbc5"/>
<rect x="560.3" y="68.14" width="342.8" height="210.86" fill="#f5fbc3"/>
<rect x="560.3" y="69.87" width="342.8" height="209.13" fill="#f4fbc1"/>
<rect x="560.3" y="71.6" width="342.8" height="207.4" fill="#f4fbc0"/>
<rect x="560.3" y="73.33" width="342.8" height="205.67" fill="#f3fabe"/>
<rect x="560.3" y="75.05" width="342.8" height="203.95" fill="#f2fabc"/>
<rect x="560.3" y="76.78" width="342.8" height="202.22" fill="#f1faba"/>
<rect x="560.3" y="78.51" width="342.8" height="200.49" fill="#f0f9b9"/>
<rect x="560.3" y="80.24" width="342.8" height="198.76" fill="#f0f9b7"/>
<rect x="560.3" y="81.97" width="342.8" height="197.03" fill="#eff9b5"/>
<rect x="560.3" y="83.7" width="342.8" height="195.3" fill="#eef8b3"/>
<rect x="560.3" y="85.42" width="342.8" height="193.58" fill="#edf8b2"/>
<rect x="560.3" y="87.15" width="342.8" height="191.85" fill="#ecf8b1"/>
<rect x="560.3" y="88.88" width="342.8" height="190.12" fill="#eaf7b1"/>
<rect x="560.3" y="90.61" width="342.8" height="188.39" fill="#e9f6b1"/>
<rect x="560.3" y="92.34" width="342.8" height="186.66" fill="#e7f6b1"/>
<rect x="560.3" y="94.07" width="342.8" height="184.93" fill="#e5f5b2"/>
<rect x="560.3" y="95.79" width="342.8" height="183.21" fill="#e4f4b2"/>
<rect x="560.3" y="97.52" width="342.8" height="181.48" fill="#e2f4b2"/>
<rect x="560.3" y="99.25" width="342.8" height="179.75" fill="#e1f3b2"/>
<rect x="560.3" y="100.98" width="342.8" height="178.02" fill="#dff2b2"/>
<rect x="560.3" y="102.71" width="342.8" height="176.29" fill="#ddf2b2"/>
<rect x="560.3" y="104.44" width="342.8" height="174.56" fill="#dcf1b2"/>
<rect x="560.3" y="106.16" width="342.8" height="172.84" fill="#daf0b3"/>
<rect x="560.3" y="107.89" width="342.8" height="171.11" fill="#d8f0b3"/>
<rect x="560.3" y="109.62" width="342.8" height="169.38" fill="#d6efb3"/>
<rect x="560.3" y="111.35" width="342.8" height="167.65" fill="#d3eeb3"/>
<rect x="560.3" y="113.08" width="342.8" height="165.92" fill="#d6efb3"/>
<rect x="560.3" y="114.81" width="342.8" height="164.19" fill="#d6efb3"/>
<rect x="560.3" y="116.53" width="342.8" height="162.47" fill="#d0edb3"/>
<rect x="560.3" y="118.26" width="342.8" height="160.74" fill="#c7e9b4"/>
<rect x="560.3" y="119.99" width="342.8" height="159.01" fill="#c7e9b4"/>
<rect x="560.3" y="121.72" width="342.8" height="157.28" fill="#e5f5b2"/>
<rect x="560.3" y="123.45" width="342.8" height="155.55" fill="#b6e2b6"/>
<rect x="560.3" y="125.18" width="342.8" height="153.82" fill="#dff3b2"/>
<rect x="560.3" y="126.9" width="342.8" height="152.1" fill="#e2f4b2"/>
<rect x="560.3" y="128.63" width="342.8" height="150.37" fill="#dff3b2"/>
<rect x="560.3" y="130.36" width="342.8" height="148.64" fill="#dcf1b2"/>
<rect x="560.3" y="132.09" width="342.8" height="146.91" fill="#dcf1b2"/>
<rect x="560.3" y="133.82" width="342.8" height="145.18" fill="#c7e9b4"/>
<rect x="560.3" y="135.55" width="342.8" height="143.45" fill="#c7e9b4"/>
<rect x="560.3" y="137.27" width="342.8" height="141.73" fill="#bbe5b5"/>
<rect x="560.3" y="139" width="342.8" height="140" fill="#d0edb3"/>
<rect x="560.3" y="140.73" width="342.8" height="138.27" fill="#d0edb3"/>
<rect x="560.3" y="142.46" width="342.8" height="136.54" fill="#c7e9b4"/>
<rect x="560.3" y="144.19" width="342.8" height="134.81" fill="#b0e0b6"/>
<rect x="560.3" y="145.92" width="342.8" height="133.08" fill="#d6efb3"/>
<rect x="560.3" y="147.64" width="342.8" height="131.36" fill="#bbe5b5"/>
<rect x="560.3" y="149.37" width="342.8" height="129.63" fill="#dff3b2"/>
<rect x="560.3" y="151.1" width="342.8" height="127.9" fill="#e8f6b1"/>
<rect x="560.3" y="152.83" width="342.8" height="126.17" fill="#eef8b3"/>
<rect x="560.3" y="154.56" width="342.8" height="124.44" fill="#7dccbb"/>
<rect x="560.3" y="156.29" width="342.8" height="122.71" fill="#d6efb3"/>
<rect x="560.3" y="158.01" width="342.8" height="120.99" fill="#d6efb3"/>
<rect x="560.3" y="159.74" width="342.8" height="119.26" fill="#cdebb4"/>
<rect x="560.3" y="161.47" width="342.8" height="117.53" fill="#b0e0b6"/>
<rect x="560.3" y="163.2" width="342.8" height="115.8" fill="#b0e0b6"/>
<rect x="560.3" y="164.93" width="342.8" height="114.07" fill="#bbe5b5"/>
<rect x="560.3" y="166.66" width="342.8" height="112.34" fill="#caeab4"/>
<rect x="560.3" y="168.39" width="342.8" height="110.61" fill="#d3eeb3"/>
<rect x="560.3" y="170.11" width="342.8" height="108.89" fill="#d9f0b3"/>
<rect x="560.3" y="171.84" width="342.8" height="107.16" fill="#dff3b2"/>
<rect x="560.3" y="173.57" width="342.8" height="105.43" fill="#50bcc2"/>
<rect x="560.3" y="175.3" width="342.8" height="103.7" fill="#1b2c7e"/>
<rect x="560.3" y="177.03" width="342.8" height="101.97" fill="#1e83b9"/>
<rect x="560.3" y="178.76" width="342.8" height="100.24" fill="#dff3b2"/>
<rect x="560.3" y="180.48" width="342.8" height="98.52" fill="#dff3b2"/>
<rect x="560.3" y="182.21" width="342.8" height="96.79" fill="#d6efb3"/>
<rect x="560.3" y="183.94" width="342.8" height="95.06" fill="#d0edb3"/>
<rect x="560.3" y="185.67" width="342.8" height="93.33" fill="#f2fabc"/>
<rect x="560.3" y="187.4" width="342.8" height="91.6" fill="#bbe5b5"/>
<rect x="560.3" y="189.13" width="342.8" height="89.87" fill="#88d0ba"/>
<rect x="560.3" y="190.85" width="342.8" height="88.15" fill="#dff3b2"/>
<rect x="560.3" y="192.58" width="342.8" height="86.42" fill="#aadeb7"/>
<rect x="560.3" y="194.31" width="342.8" height="84.69" fill="#aadeb7"/>
<rect x="560.3" y="196.04" width="342.8" height="82.96" fill="#f3fbbf"/>
<rect x="560.3" y="197.77" width="342.8" height="81.23" fill="#f3fbbf"/>
<rect x="560.3" y="199.5" width="342.8" height="79.5" fill="#d0edb3"/>
<rect x="560.3" y="201.22" width="342.8" height="77.78" fill="#bbe5b5"/>
<rect x="560.3" y="202.95" width="342.8" height="76.05" fill="#dcf1b2"/>
<rect x="560.3" y="204.68" width="342.8" height="74.32" fill="#b6e2b6"/>
<rect x="560.3" y="206.41" width="342.8" height="72.59" fill="#f2fabc"/>
<rect x="560.3" y="208.14" width="342.8" height="70.86" fill="#e5f5b2"/>
<rect x="560.3" y="209.87" width="342.8" height="69.13" fill="#e2f4b2"/>
<rect x="560.3" y="211.59" width="342.8" height="67.41" fill="#dff3b2"/>
<rect x="560.3" y="213.32" width="342.8" height="65.68" fill="#99d7b8"/>
<rect x="560.3" y="215.05" width="342.8" height="63.95" fill="#99d7b8"/>
<rect x="560.3" y="216.78" width="342.8" height="62.22" fill="#d6efb3"/>
<rect x="560.3" y="218.51" width="342.8" height="60.49" fill="#d6efb3"/>
<rect x="560.3" y="220.24" width="342.8" height="58.76" fill="#82cebb"/>
<rect x="560.3" y="221.96" width="342.8" height="57.04" fill="#82cebb"/>
<rect x="560.3" y="223.69" width="342.8" height="55.31" fill="#e5f5b2"/>
<rect x="560.3" y="225.42" width="342.8" height="53.58" fill="#7dccbb"/>
<rect x="560.3" y="227.15" width="342.8" height="51.85" fill="#88d0ba"/>
<rect x="560.3" y="228.88" width="342.8" height="50.12" fill="#e2f4b2"/>
<rect x="560.3" y="230.61" width="342.8" height="48.39" fill="#e2f4b2"/>
<rect x="560.3" y="232.33" width="342.8" height="46.67" fill="#e2f4b2"/>
<rect x="560.3" y="234.06" width="342.8" height="44.94" fill="#aadeb7"/>
<rect x="560.3" y="235.79" width="342.8" height="43.21" fill="#dcf1b2"/>
<rect x="560.3" y="237.52" width="342.8" height="41.48" fill="#dcf1b2"/>
<rect x="560.3" y="239.25" width="342.8" height="39.75" fill="#73c8bd"/>
<rect x="560.3" y="240.98" width="342.8" height="38.02" fill="#73c8bd"/>
<rect x="560.3" y="242.7" width="342.8" height="36.3" fill="#dff3b2"/>
<rect x="560.3" y="244.43" width="342.8" height="34.57" fill="#dff3b2"/>
<rect x="560.3" y="246.16" width="342.8" height="32.84" fill="#3bb0c3"/>
<rect x="560.3" y="247.89" width="342.8" height="31.11" fill="#3bb0c3"/>
<rect x="560.3" y="249.62" width="342.8" height="29.38" fill="#f1f9b9"/>
<rect x="560.3" y="251.35" width="342.8" height="27.65" fill="#f1f9b9"/>
<rect x="560.3" y="253.07" width="342.8" height="25.93" fill="#30a4c2"/>
<rect x="560.3" y="254.8" width="342.8" height="24.2" fill="#eef8b3"/>
<rect x="560.3" y="256.53" width="342.8" height="22.47" fill="#e2f4b2"/>
<rect x="560.3" y="258.26" width="342.8" height="20.74" fill="#d6efb3"/>
<rect x="560.3" y="259.99" width="342.8" height="19.01" fill="#73c8bd"/>
<rect x="560.3" y="261.72" width="342.8" height="17.28" fill="#73c8bd"/>
<rect x="560.3" y="263.44" width="342.8" height="15.56" fill="#73c8bd"/>
<rect x="560.3" y="265.17" width="342.8" height="13.83" fill="#2354a3"/>
<rect x="560.3" y="266.9" width="342.8" height="12.1" fill="#2354a3"/>
<rect x="560.3" y="268.63" width="342.8" height="10.37" fill="#f9fdcc"/>
<rect x="560.3" y="270.36" width="342.8" height="8.64" fill="#f9fdcc"/>
<rect x="560.3" y="272.09" width="342.8" height="6.91" fill="#aadeb7"/>
<rect x="560.3" y="273.81" width="342.8" height="5.19" fill="#1e92c0"/>
<rect x="560.3" y="275.54" width="342.8" height="3.46" fill="#8dd3ba"/>
<rect x="560.3" y="277.27" width="342.8" height="1.73" fill="#142670"/>
<line x1="557.7" y1="48.26" x2="560.3" y2="48.26" stroke="#333" stroke-width="0.7"/>
<text transform="translate(556.4 50.96)" font-family='"DejaVu Sans","Liberation Sans",sans-serif' font-size="7.3" text-anchor="end">0</text>
<line x1="557.7" y1="55.18" x2="560.3" y2="55.18" stroke="#333" stroke-width="0.7"/>
<text transform="translate(556.4 57.88)" font-family='"DejaVu Sans","Liberation Sans",sans-serif' font-size="7.3" text-anchor="end">4</text>
<line x1="557.7" y1="62.09" x2="560.3" y2="62.09" stroke="#333" stroke-width="0.7"/>
<text transform="translate(556.4 64.79)" font-family='"DejaVu Sans","Liberation Sans",sans-serif' font-size="7.3" text-anchor="end">8</text>
<line x1="557.7" y1="69" x2="560.3" y2="69" stroke="#333" stroke-width="0.7"/>
<text transform="translate(556.4 71.7)" font-family='"DejaVu Sans","Liberation Sans",sans-serif' font-size="7.3" text-anchor="end">12</text>
<line x1="557.7" y1="75.92" x2="560.3" y2="75.92" stroke="#333" stroke-width="0.7"/>
<text transform="translate(556.4 78.62)" font-family='"DejaVu Sans","Liberation Sans",sans-serif' font-size="7.3" text-anchor="end">16</text>
<line x1="557.7" y1="82.83" x2="560.3" y2="82.83" stroke="#333" stroke-width="0.7"/>
<text transform="translate(556.4 85.53)" font-family='"DejaVu Sans","Liberation Sans",sans-serif' font-size="7.3" text-anchor="end">20</text>
<line x1="557.7" y1="89.74" x2="560.3" y2="89.74" stroke="#333" stroke-width="0.7"/>
<text transform="translate(556.4 92.44)" font-family='"DejaVu Sans","Liberation Sans",sans-serif' font-size="7.3" text-anchor="end">24</text>
<line x1="557.7" y1="96.66" x2="560.3" y2="96.66" stroke="#333" stroke-width="0.7"/>
<text transform="translate(556.4 99.36)" font-family='"DejaVu Sans","Liberation Sans",sans-serif' font-size="7.3" text-anchor="end">28</text>
<line x1="557.7" y1="103.57" x2="560.3" y2="103.57" stroke="#333" stroke-width="0.7"/>
<text transform="translate(556.4 106.27)" font-family='"DejaVu Sans","Liberation Sans",sans-serif' font-size="7.3" text-anchor="end">32</text>
<line x1="557.7" y1="110.49" x2="560.3" y2="110.49" stroke="#333" stroke-width="0.7"/>
<text transform="translate(556.4 113.19)" font-family='"DejaVu Sans","Liberation Sans",sans-serif' font-size="7.3" text-anchor="end">36</text>
<line x1="557.7" y1="117.4" x2="560.3" y2="117.4" stroke="#333" stroke-width="0.7"/>
<text transform="translate(556.4 120.1)" font-family='"DejaVu Sans","Liberation Sans",sans-serif' font-size="7.3" text-anchor="end">40</text>
<line x1="557.7" y1="124.31" x2="560.3" y2="124.31" stroke="#333" stroke-width="0.7"/>
<text transform="translate(556.4 127.01)" font-family='"DejaVu Sans","Liberation Sans",sans-serif' font-size="7.3" text-anchor="end">44</text>
<line x1="557.7" y1="131.23" x2="560.3" y2="131.23" stroke="#333" stroke-width="0.7"/>
<text transform="translate(556.4 133.93)" font-family='"DejaVu Sans","Liberation Sans",sans-serif' font-size="7.3" text-anchor="end">48</text>
<line x1="557.7" y1="138.14" x2="560.3" y2="138.14" stroke="#333" stroke-width="0.7"/>
<text transform="translate(556.4 140.84)" font-family='"DejaVu Sans","Liberation Sans",sans-serif' font-size="7.3" text-anchor="end">52</text>
<line x1="557.7" y1="145.05" x2="560.3" y2="145.05" stroke="#333" stroke-width="0.7"/>
<text transform="translate(556.4 147.75)" font-family='"DejaVu Sans","Liberation Sans",sans-serif' font-size="7.3" text-anchor="end">56</text>
<line x1="557.7" y1="151.97" x2="560.3" y2="151.97" stroke="#333" stroke-width="0.7"/>
<text transform="translate(556.4 154.67)" font-family='"DejaVu Sans","Liberation Sans",sans-serif' font-size="7.3" text-anchor="end">60</text>
<line x1="557.7" y1="158.88" x2="560.3" y2="158.88" stroke="#333" stroke-width="0.7"/>
<text transform="translate(556.4 161.58)" font-family='"DejaVu Sans","Liberation Sans",sans-serif' font-size="7.3" text-anchor="end">64</text>
<line x1="557.7" y1="165.79" x2="560.3" y2="165.79" stroke="#333" stroke-width="0.7"/>
<text transform="translate(556.4 168.49)" font-family='"DejaVu Sans","Liberation Sans",sans-serif' font-size="7.3" text-anchor="end">68</text>
<line x1="557.7" y1="172.71" x2="560.3" y2="172.71" stroke="#333" stroke-width="0.7"/>
<text transform="translate(556.4 175.41)" font-family='"DejaVu Sans","Liberation Sans",sans-serif' font-size="7.3" text-anchor="end">72</text>
<line x1="557.7" y1="179.62" x2="560.3" y2="179.62" stroke="#333" stroke-width="0.7"/>
<text transform="translate(556.4 182.32)" font-family='"DejaVu Sans","Liberation Sans",sans-serif' font-size="7.3" text-anchor="end">76</text>
<line x1="557.7" y1="186.53" x2="560.3" y2="186.53" stroke="#333" stroke-width="0.7"/>
<text transform="translate(556.4 189.23)" font-family='"DejaVu Sans","Liberation Sans",sans-serif' font-size="7.3" text-anchor="end">80</text>
<line x1="557.7" y1="193.45" x2="560.3" y2="193.45" stroke="#333" stroke-width="0.7"/>
<text transform="translate(556.4 196.15)" font-family='"DejaVu Sans","Liberation Sans",sans-serif' font-size="7.3" text-anchor="end">84</text>
<line x1="557.7" y1="200.36" x2="560.3" y2="200.36" stroke="#333" stroke-width="0.7"/>
<text transform="translate(556.4 203.06)" font-family='"DejaVu Sans","Liberation Sans",sans-serif' font-size="7.3" text-anchor="end">88</text>
<line x1="557.7" y1="207.27" x2="560.3" y2="207.27" stroke="#333" stroke-width="0.7"/>
<text transform="translate(556.4 209.97)" font-family='"DejaVu Sans","Liberation Sans",sans-serif' font-size="7.3" text-anchor="end">92</text>
<line x1="557.7" y1="214.19" x2="560.3" y2="214.19" stroke="#333" stroke-width="0.7"/>
<text transform="translate(556.4 216.89)" font-family='"DejaVu Sans","Liberation Sans",sans-serif' font-size="7.3" text-anchor="end">98</text>
<line x1="557.7" y1="221.1" x2="560.3" y2="221.1" stroke="#333" stroke-width="0.7"/>
<text transform="translate(556.4 223.8)" font-family='"DejaVu Sans","Liberation Sans",sans-serif' font-size="7.3" text-anchor="end">103</text>
<line x1="557.7" y1="228.01" x2="560.3" y2="228.01" stroke="#333" stroke-width="0.7"/>
<text transform="translate(556.4 230.71)" font-family='"DejaVu Sans","Liberation Sans",sans-serif' font-size="7.3" text-anchor="end">110</text>
<line x1="557.7" y1="234.93" x2="560.3" y2="234.93" stroke="#333" stroke-width="0.7"/>
<text transform="translate(556.4 237.63)" font-family='"DejaVu Sans","Liberation Sans",sans-serif' font-size="7.3" text-anchor="end">118</text>
<line x1="557.7" y1="241.84" x2="560.3" y2="241.84" stroke="#333" stroke-width="0.7"/>
<text transform="translate(556.4 244.54)" font-family='"DejaVu Sans","Liberation Sans",sans-serif' font-size="7.3" text-anchor="end">133</text>
<line x1="557.7" y1="248.75" x2="560.3" y2="248.75" stroke="#333" stroke-width="0.7"/>
<text transform="translate(556.4 251.45)" font-family='"DejaVu Sans","Liberation Sans",sans-serif' font-size="7.3" text-anchor="end">145</text>
<line x1="557.7" y1="255.67" x2="560.3" y2="255.67" stroke="#333" stroke-width="0.7"/>
<text transform="translate(556.4 258.37)" font-family='"DejaVu Sans","Liberation Sans",sans-serif' font-size="7.3" text-anchor="end">160</text>
<line x1="557.7" y1="262.58" x2="560.3" y2="262.58" stroke="#333" stroke-width="0.7"/>
<text transform="translate(556.4 265.28)" font-family='"DejaVu Sans","Liberation Sans",sans-serif' font-size="7.3" text-anchor="end">195</text>
<line x1="557.7" y1="269.49" x2="560.3" y2="269.49" stroke="#333" stroke-width="0.7"/>
<text transform="translate(556.4 272.19)" font-family='"DejaVu Sans","Liberation Sans",sans-serif' font-size="7.3" text-anchor="end">226</text>
<line x1="557.7" y1="276.41" x2="560.3" y2="276.41" stroke="#333" stroke-width="0.7"/>
<text transform="translate(556.4 279.11)" font-family='"DejaVu Sans","Liberation Sans",sans-serif' font-size="7.3" text-anchor="end">295</text>
<text transform="translate(731.7 43.7)" font-family='"DejaVu Sans","Liberation Sans",sans-serif' font-size="15.68" text-anchor="middle">Heatmap of Length of Stay vs. Total Charges</text>
<text transform="translate(537 164) rotate(-90)" font-family='"DejaVu Sans","Liberation Sans",sans-serif' font-size="13.6" text-anchor="middle">Total Charges (USD)</text>
<line x1="731.7" y1="279" x2="731.7" y2="282" stroke="#333" stroke-width="0.8"/>
<text transform="translate(731.7 288.8)" font-family='"DejaVu Sans","Liberation Sans",sans-serif' font-size="7.9" text-anchor="middle">Total_charges</text>
<text transform="translate(732 303.6)" font-family='"DejaVu Sans","Liberation Sans",sans-serif' font-size="13.69" text-anchor="middle">Length of Stay (days)</text>
<linearGradient id="gb" x1="0" y1="1" x2="0" y2="0"><stop offset="0" stop-color="#ffffd9"/><stop offset="0.12" stop-color="#edf8b1"/><stop offset="0.25" stop-color="#c7e9b4"/><stop offset="0.38" stop-color="#7fcdbb"/><stop offset="0.5" stop-color="#41b6c4"/><stop offset="0.62" stop-color="#1d91c0"/><stop offset="0.75" stop-color="#225ea8"/><stop offset="0.88" stop-color="#253494"/><stop offset="1" stop-color="#081d58"/></linearGradient>
<rect x="925.1" y="76.4" width="8.5" height="174.3" fill="url(#gb)"/>
<line x1="933.6" y1="250.7" x2="935.6" y2="250.7" stroke="#333" stroke-width="0.8"/>
<text transform="translate(936.6 254.3)" font-family='"DejaVu Sans","Liberation Sans",sans-serif' font-size="11.8">$0</text>
<line x1="933.6" y1="233.35" x2="935.6" y2="233.35" stroke="#333" stroke-width="0.8"/>
<text transform="translate(936.6 236.95)" font-family='"DejaVu Sans","Liberation Sans",sans-serif' font-size="11.8">$400,000</text>
<line x1="933.6" y1="216" x2="935.6" y2="216" stroke="#333" stroke-width="0.8"/>
<text transform="translate(936.6 219.6)" font-family='"DejaVu Sans","Liberation Sans",sans-serif' font-size="11.8">$800,000</text>
<line x1="933.6" y1="198.65" x2="935.6" y2="198.65" stroke="#333" stroke-width="0.8"/>
<text transform="translate(936.6 202.25)" font-family='"DejaVu Sans","Liberation Sans",sans-serif' font-size="11.8">$1,200,000</text>
<line x1="933.6" y1="181.3" x2="935.6" y2="181.3" stroke="#333" stroke-width="0.8"/>
<text transform="translate(936.6 184.9)" font-family='"DejaVu Sans","Liberation Sans",sans-serif' font-size="11.8">$1,600,000</text>
<line x1="933.6" y1="163.95" x2="935.6" y2="163.95" stroke="#333" stroke-width="0.8"/>
<text transform="translate(936.6 167.55)" font-family='"DejaVu Sans","Liberation Sans",sans-serif' font-size="11.8">$2,000,000</text>
<line x1="933.6" y1="146.6" x2="935.6" y2="146.6" stroke="#333" stroke-width="0.8"/>
<text transform="translate(936.6 150.2)" font-family='"DejaVu Sans","Liberation Sans",sans-serif' font-size="11.8">$2,400,000</text>
<line x1="933.6" y1="129.25" x2="935.6" y2="129.25" stroke="#333" stroke-width="0.8"/>
<text transform="translate(936.6 132.85)" font-family='"DejaVu Sans","Liberation Sans",sans-serif' font-size="11.8">$2,800,000</text>
<line x1="933.6" y1="111.9" x2="935.6" y2="111.9" stroke="#333" stroke-width="0.8"/>
<text transform="translate(936.6 115.5)" font-family='"DejaVu Sans","Liberation Sans",sans-serif' font-size="11.8">$3,200,000</text>
<line x1="933.6" y1="94.55" x2="935.6" y2="94.55" stroke="#333" stroke-width="0.8"/>
<text transform="translate(936.6 98.15)" font-family='"DejaVu Sans","Liberation Sans",sans-serif' font-size="11.8">$3,600,000</text>
<line x1="933.6" y1="77.2" x2="935.6" y2="77.2" stroke="#333" stroke-width="0.8"/>
<text transform="translate(936.6 80.8)" font-family='"DejaVu Sans","Liberation Sans",sans-serif' font-size="11.8">$4,000,000</text>
<text transform="translate(540.1 25.9)" font-family='"Liberation Serif",serif' font-size="30">B</text>
<rect x="1129.6" y="48" width="400.4" height="230.6" fill="#fff"/>
<clipPath id="cc"><rect x="1129.6" y="48" width="400.4" height="230.6"/></clipPath><g clip-path="url(#cc)">
<polygon points="1131.1,216.1 1131.6,224.0 1132.3,224.4 1132.7,224.8 1132.2,225.4 1131.5,226.1 1131.1,226.5 1131.1,226.5 1130.6,226.1 1130.0,225.4 1129.5,224.8 1129.9,224.4 1130.6,224.0 1131.1,216.1" fill="#565656" stroke="#5f5f5f" stroke-width="0.55"/>
<line x1="1131.08" y1="224.31" x2="1131.08" y2="225.55" stroke="#4e4e4e" stroke-width="2.6"/>
<polygon points="1134.0,211.7 1134.5,223.2 1135.2,224.1 1135.6,224.7 1135.1,225.3 1134.5,225.9 1134.0,226.8 1134.0,226.8 1133.6,225.9 1132.9,225.3 1132.4,224.7 1132.8,224.1 1133.6,223.2 1134.0,211.7" fill="#565656" stroke="#5f5f5f" stroke-width="0.55"/>
<line x1="1134.03" y1="223.83" x2="1134.03" y2="225.4" stroke="#4e4e4e" stroke-width="2.6"/>
<polygon points="1137.0,208.0 1137.5,222.5 1138.2,223.3 1138.6,224.0 1138.1,224.9 1137.4,225.8 1137.0,228.0 1137.0,228.0 1136.5,225.8 1135.9,224.9 1135.4,224.0 1135.8,223.3 1136.5,222.5 1137.0,208.0" fill="#565656" stroke="#5f5f5f" stroke-width="0.55"/>
<line x1="1136.99" y1="223.1" x2="1136.99" y2="225.05" stroke="#4e4e4e" stroke-width="2.6"/>
<polygon points="1139.9,196.9 1140.4,221.8 1141.1,223.1 1141.5,224.1 1141.0,224.8 1140.4,225.5 1139.9,226.3 1139.9,226.3 1139.5,225.5 1138.9,224.8 1138.3,224.1 1138.7,223.1 1139.5,221.8 1139.9,196.9" fill="#565656" stroke="#5f5f5f" stroke-width="0.55"/>
<line x1="1139.95" y1="222.74" x2="1139.95" y2="224.96" stroke="#4e4e4e" stroke-width="2.6"/>
<polygon points="1142.9,205.0 1143.4,221.3 1144.1,222.5 1144.5,223.5 1144.0,224.4 1143.4,225.4 1142.9,224.8 1142.9,224.8 1142.4,225.4 1141.8,224.4 1141.3,223.5 1141.7,222.5 1142.4,221.3 1142.9,205.0" fill="#565656" stroke="#5f5f5f" stroke-width="0.55"/>
<line x1="1142.9" y1="222.16" x2="1142.9" y2="224.6" stroke="#4e4e4e" stroke-width="2.6"/>
<polygon points="1145.9,197.6 1146.3,220.2 1147.1,221.8 1147.5,223.1 1146.9,224.2 1146.3,225.2 1145.9,227.7 1145.9,227.7 1145.4,225.2 1144.8,224.2 1144.3,223.1 1144.7,221.8 1145.4,220.2 1145.9,197.6" fill="#565656" stroke="#5f5f5f" stroke-width="0.55"/>
<line x1="1145.86" y1="221.38" x2="1145.86" y2="224.39" stroke="#4e4e4e" stroke-width="2.6"/>
<polygon points="1148.8,199.1 1149.3,219.5 1150.0,221.1 1150.4,222.4 1149.9,223.7 1149.3,225.1 1148.8,227.1 1148.8,227.1 1148.4,225.1 1147.7,223.7 1147.2,222.4 1147.6,221.1 1148.3,219.5 1148.8,199.1" fill="#565656" stroke="#5f5f5f" stroke-width="0.55"/>
<line x1="1148.81" y1="220.63" x2="1148.81" y2="224.02" stroke="#4e4e4e" stroke-width="2.6"/>
<polygon points="1151.8,192.5 1152.2,219.2 1153.0,220.9 1153.4,222.3 1152.9,223.6 1152.2,224.9 1151.8,226.6 1151.8,226.6 1151.3,224.9 1150.7,223.6 1150.2,222.3 1150.6,220.9 1151.3,219.2 1151.8,192.5" fill="#565656" stroke="#5f5f5f" stroke-width="0.55"/>
<line x1="1151.77" y1="220.47" x2="1151.77" y2="223.87" stroke="#4e4e4e" stroke-width="2.6"/>
<polygon points="1154.7,178.4 1155.2,218.5 1155.9,220.2 1156.3,221.6 1155.8,223.1 1155.2,224.6 1154.7,228.8 1154.7,228.8 1154.3,224.6 1153.6,223.1 1153.1,221.6 1153.5,220.2 1154.2,218.5 1154.7,178.4" fill="#565656" stroke="#5f5f5f" stroke-width="0.55"/>
<line x1="1154.73" y1="219.75" x2="1154.73" y2="223.41" stroke="#4e4e4e" stroke-width="2.6"/>
<polygon points="1157.7,182.1 1158.2,217.3 1158.9,219.7 1159.3,221.6 1158.8,222.9 1158.1,224.3 1157.7,228.9 1157.7,228.9 1157.2,224.3 1156.6,222.9 1156.1,221.6 1156.5,219.7 1157.2,217.3 1157.7,182.1" fill="#565656" stroke="#5f5f5f" stroke-width="0.55"/>
<line x1="1157.68" y1="219.01" x2="1157.68" y2="223.21" stroke="#4e4e4e" stroke-width="2.6"/>
<polygon points="1160.6,185.1 1161.1,217.3 1161.8,219.1 1162.2,220.6 1161.7,222.4 1161.1,224.2 1160.6,227.2 1160.6,227.2 1160.2,224.2 1159.6,222.4 1159.0,220.6 1159.4,219.1 1160.2,217.3 1160.6,185.1" fill="#565656" stroke="#5f5f5f" stroke-width="0.55"/>
<line x1="1160.64" y1="218.63" x2="1160.64" y2="222.8" stroke="#4e4e4e" stroke-width="2.6"/>
<polygon points="1163.6,200.6 1164.1,216.2 1164.8,218.4 1165.2,220.3 1164.7,222.2 1164.1,224.1 1163.6,227.7 1163.6,227.7 1163.1,224.1 1162.5,222.2 1162.0,220.3 1162.4,218.4 1163.1,216.2 1163.6,200.6" fill="#565656" stroke="#5f5f5f" stroke-width="0.55"/>
<line x1="1163.59" y1="217.83" x2="1163.59" y2="222.54" stroke="#4e4e4e" stroke-width="2.6"/>
<polygon points="1166.5,181.4 1167.0,215.6 1167.8,218.1 1168.1,220.1 1167.6,222.2 1167.0,224.3 1166.5,226.5 1166.5,226.5 1166.1,224.3 1165.5,222.2 1165.0,220.1 1165.3,218.1 1166.1,215.6 1166.5,181.4" fill="#565656" stroke="#5f5f5f" stroke-width="0.55"/>
<line x1="1166.55" y1="217.41" x2="1166.55" y2="222.59" stroke="#4e4e4e" stroke-width="2.6"/>
<polygon points="1169.5,185.8 1170.0,215.3 1170.7,217.8 1171.1,219.9 1170.6,222.1 1170.0,224.2 1169.5,228.3 1169.5,228.3 1169.0,224.2 1168.4,222.1 1167.9,219.9 1168.3,217.8 1169.0,215.3 1169.5,185.8" fill="#565656" stroke="#5f5f5f" stroke-width="0.55"/>
<line x1="1169.51" y1="217.15" x2="1169.51" y2="222.5" stroke="#4e4e4e" stroke-width="2.6"/>
<polygon points="1172.5,182.1 1172.9,214.7 1173.7,216.9 1174.1,218.8 1173.5,221.4 1172.9,224.1 1172.5,228.3 1172.5,228.3 1172.0,224.1 1171.4,221.4 1170.9,218.8 1171.3,216.9 1172.0,214.7 1172.5,182.1" fill="#565656" stroke="#5f5f5f" stroke-width="0.55"/>
<line x1="1172.46" y1="216.32" x2="1172.46" y2="221.96" stroke="#4e4e4e" stroke-width="2.6"/>
<polygon points="1175.4,187.3 1175.9,213.8 1176.6,216.5 1177.0,218.7 1176.5,221.0 1175.9,223.3 1175.4,229.6 1175.4,229.6 1175.0,223.3 1174.3,221.0 1173.8,218.7 1174.2,216.5 1174.9,213.8 1175.4,187.3" fill="#565656" stroke="#5f5f5f" stroke-width="0.55"/>
<line x1="1175.42" y1="215.79" x2="1175.42" y2="221.46" stroke="#4e4e4e" stroke-width="2.6"/>
<polygon points="1178.4,191.0 1178.9,212.6 1179.6,215.7 1180.0,218.3 1179.5,220.6 1178.8,223.0 1178.4,229.4 1178.4,229.4 1177.9,223.0 1177.3,220.6 1176.8,218.3 1177.2,215.7 1177.9,212.6 1178.4,191.0" fill="#565656" stroke="#5f5f5f" stroke-width="0.55"/>
<line x1="1178.37" y1="214.86" x2="1178.37" y2="221.1" stroke="#4e4e4e" stroke-width="2.6"/>
<polygon points="1181.3,183.6 1181.8,211.6 1182.5,215.2 1182.9,218.2 1182.4,220.9 1181.8,223.5 1181.3,229.7 1181.3,229.7 1180.9,223.5 1180.2,220.9 1179.7,218.2 1180.1,215.2 1180.8,211.6 1181.3,183.6" fill="#565656" stroke="#5f5f5f" stroke-width="0.55"/>
<line x1="1181.33" y1="214.24" x2="1181.33" y2="221.41" stroke="#4e4e4e" stroke-width="2.6"/>
<polygon points="1184.3,183.6 1184.8,211.2 1185.5,214.4 1185.9,217.0 1185.4,220.2 1184.7,223.4 1184.3,227.7 1184.3,227.7 1183.8,223.4 1183.2,220.2 1182.7,217.0 1183.1,214.4 1183.8,211.2 1184.3,183.6" fill="#565656" stroke="#5f5f5f" stroke-width="0.55"/>
<line x1="1184.29" y1="213.54" x2="1184.29" y2="220.84" stroke="#4e4e4e" stroke-width="2.6"/>
<polygon points="1187.2,183.9 1187.7,211.1 1188.4,214.0 1188.8,216.5 1188.3,219.5 1187.7,222.4 1187.2,230.0 1187.2,230.0 1186.8,222.4 1186.2,219.5 1185.6,216.5 1186.0,214.0 1186.8,211.1 1187.2,183.9" fill="#565656" stroke="#5f5f5f" stroke-width="0.55"/>
<line x1="1187.24" y1="213.24" x2="1187.24" y2="220.05" stroke="#4e4e4e" stroke-width="2.6"/>
<polygon points="1190.2,159.2 1190.7,209.9 1191.4,213.6 1191.8,216.6 1191.3,219.9 1190.7,223.3 1190.2,228.7 1190.2,228.7 1189.7,223.3 1189.1,219.9 1188.6,216.6 1189.0,213.6 1189.7,209.9 1190.2,159.2" fill="#565656" stroke="#5f5f5f" stroke-width="0.55"/>
<line x1="1190.2" y1="212.6" x2="1190.2" y2="220.6" stroke="#4e4e4e" stroke-width="2.6"/>
<polygon points="1193.2,178.0 1193.6,210.4 1194.4,213.5 1194.8,216.0 1194.2,219.2 1193.6,222.4 1193.2,231.3 1193.2,231.3 1192.7,222.4 1192.1,219.2 1191.6,216.0 1192.0,213.5 1192.7,210.4 1193.2,178.0" fill="#565656" stroke="#5f5f5f" stroke-width="0.55"/>
<line x1="1193.15" y1="212.66" x2="1193.15" y2="219.87" stroke="#4e4e4e" stroke-width="2.6"/>
<polygon points="1196.1,145.4 1196.6,207.8 1197.3,212.2 1197.7,215.7 1197.2,218.9 1196.6,222.1 1196.1,227.5 1196.1,227.5 1195.7,222.1 1195.0,218.9 1194.5,215.7 1194.9,212.2 1195.6,207.8 1196.1,145.4" fill="#565656" stroke="#5f5f5f" stroke-width="0.55"/>
<line x1="1196.11" y1="210.98" x2="1196.11" y2="219.56" stroke="#4e4e4e" stroke-width="2.6"/>
<polygon points="1199.1,159.9 1199.5,207.3 1200.3,211.7 1200.7,215.3 1200.2,218.5 1199.5,221.7 1199.1,229.7 1199.1,229.7 1198.6,221.7 1198.0,218.5 1197.5,215.3 1197.9,211.7 1198.6,207.3 1199.1,159.9" fill="#565656" stroke="#5f5f5f" stroke-width="0.55"/>
<line x1="1199.07" y1="210.51" x2="1199.07" y2="219.17" stroke="#4e4e4e" stroke-width="2.6"/>
<polygon points="1202.0,166.6 1202.5,206.9 1203.2,211.4 1203.6,215.2 1203.1,219.0 1202.5,222.9 1202.0,230.9 1202.0,230.9 1201.6,222.9 1200.9,219.0 1200.4,215.2 1200.8,211.4 1201.5,206.9 1202.0,166.6" fill="#565656" stroke="#5f5f5f" stroke-width="0.55"/>
<line x1="1202.02" y1="210.18" x2="1202.02" y2="219.78" stroke="#4e4e4e" stroke-width="2.6"/>
<polygon points="1205.0,178.8 1205.5,206.4 1206.2,210.8 1206.6,214.3 1206.1,218.2 1205.4,222.1 1205.0,232.4 1205.0,232.4 1204.5,222.1 1203.9,218.2 1203.4,214.3 1203.8,210.8 1204.5,206.4 1205.0,178.8" fill="#565656" stroke="#5f5f5f" stroke-width="0.55"/>
<line x1="1204.98" y1="209.59" x2="1204.98" y2="218.99" stroke="#4e4e4e" stroke-width="2.6"/>
<polygon points="1207.9,164.3 1208.4,205.9 1209.1,210.4 1209.5,214.1 1209.0,218.1 1208.4,222.1 1207.9,231.1 1207.9,231.1 1207.5,222.1 1206.8,218.1 1206.3,214.1 1206.7,210.4 1207.5,205.9 1207.9,164.3" fill="#565656" stroke="#5f5f5f" stroke-width="0.55"/>
<line x1="1207.93" y1="209.2" x2="1207.93" y2="218.91" stroke="#4e4e4e" stroke-width="2.6"/>
<polygon points="1210.9,158.1 1211.4,204.9 1212.1,209.7 1212.5,213.6 1212.0,217.9 1211.3,222.1 1210.9,232.4 1210.9,232.4 1210.4,222.1 1209.8,217.9 1209.3,213.6 1209.7,209.7 1210.4,204.9 1210.9,158.1" fill="#565656" stroke="#5f5f5f" stroke-width="0.55"/>
<line x1="1210.89" y1="208.38" x2="1210.89" y2="218.73" stroke="#4e4e4e" stroke-width="2.6"/>
<polygon points="1213.8,156.2 1214.3,205.5 1215.0,209.7 1215.4,213.1 1214.9,217.4 1214.3,221.7 1213.8,228.9 1213.8,228.9 1213.4,221.7 1212.8,217.4 1212.2,213.1 1212.6,209.7 1213.4,205.5 1213.8,156.2" fill="#565656" stroke="#5f5f5f" stroke-width="0.55"/>
<line x1="1213.85" y1="208.52" x2="1213.85" y2="218.22" stroke="#4e4e4e" stroke-width="2.6"/>
<polygon points="1216.8,158.9 1217.3,203.3 1218.0,208.3 1218.4,212.4 1217.9,217.0 1217.3,221.6 1216.8,230.3 1216.8,230.3 1216.3,221.6 1215.7,217.0 1215.2,212.4 1215.6,208.3 1216.3,203.3 1216.8,158.9" fill="#565656" stroke="#5f5f5f" stroke-width="0.55"/>
<line x1="1216.8" y1="206.97" x2="1216.8" y2="217.93" stroke="#4e4e4e" stroke-width="2.6"/>
<polygon points="1219.8,158.9 1220.2,203.1 1221.0,208.0 1221.4,212.0 1220.8,216.8 1220.2,221.6 1219.8,230.2 1219.8,230.2 1219.3,221.6 1218.7,216.8 1218.2,212.0 1218.6,208.0 1219.3,203.1 1219.8,158.9" fill="#565656" stroke="#5f5f5f" stroke-width="0.55"/>
<line x1="1219.76" y1="206.68" x2="1219.76" y2="217.74" stroke="#4e4e4e" stroke-width="2.6"/>
<polygon points="1222.7,138.4 1223.2,202.1 1223.9,207.6 1224.3,212.0 1223.8,216.8 1223.2,221.5 1222.7,228.6 1222.7,228.6 1222.3,221.5 1221.6,216.8 1221.1,212.0 1221.5,207.6 1222.2,202.1 1222.7,138.4" fill="#565656" stroke="#5f5f5f" stroke-width="0.55"/>
<line x1="1222.71" y1="206.09" x2="1222.71" y2="217.71" stroke="#4e4e4e" stroke-width="2.6"/>
<polygon points="1225.7,175.0 1226.1,202.3 1226.9,207.4 1227.3,211.6 1226.8,215.9 1226.1,220.1 1225.7,230.7 1225.7,230.7 1225.2,220.1 1224.6,215.9 1224.1,211.6 1224.5,207.4 1225.2,202.3 1225.7,175.0" fill="#565656" stroke="#5f5f5f" stroke-width="0.55"/>
<line x1="1225.67" y1="206.02" x2="1225.67" y2="216.71" stroke="#4e4e4e" stroke-width="2.6"/>
<polygon points="1228.6,172.8 1229.1,202.4 1229.8,207.2 1230.2,211.0 1229.7,215.7 1229.1,220.4 1228.6,230.0 1228.6,230.0 1228.2,220.4 1227.5,215.7 1227.0,211.0 1227.4,207.2 1228.1,202.4 1228.6,172.8" fill="#565656" stroke="#5f5f5f" stroke-width="0.55"/>
<line x1="1228.63" y1="205.86" x2="1228.63" y2="216.65" stroke="#4e4e4e" stroke-width="2.6"/>
<polygon points="1231.6,168.0 1232.1,200.7 1232.8,206.0 1233.2,210.3 1232.7,215.3 1232.0,220.4 1231.6,233.2 1231.6,233.2 1231.1,220.4 1230.5,215.3 1230.0,210.3 1230.4,206.0 1231.1,200.7 1231.6,168.0" fill="#565656" stroke="#5f5f5f" stroke-width="0.55"/>
<line x1="1231.58" y1="204.57" x2="1231.58" y2="216.35" stroke="#4e4e4e" stroke-width="2.6"/>
<polygon points="1234.5,180.9 1235.0,199.5 1235.7,205.1 1236.1,209.7 1235.6,215.2 1235.0,220.8 1234.5,233.2 1234.5,233.2 1234.1,220.8 1233.5,215.2 1232.9,209.7 1233.3,205.1 1234.1,199.5 1234.5,180.9" fill="#565656" stroke="#5f5f5f" stroke-width="0.55"/>
<line x1="1234.54" y1="203.54" x2="1234.54" y2="216.34" stroke="#4e4e4e" stroke-width="2.6"/>
<polygon points="1237.5,155.0 1238.0,198.9 1238.7,204.5 1239.1,209.2 1238.6,215.1 1238.0,221.0 1237.5,235.1 1237.5,235.1 1237.0,221.0 1236.4,215.1 1235.9,209.2 1236.3,204.5 1237.0,198.9 1237.5,155.0" fill="#565656" stroke="#5f5f5f" stroke-width="0.55"/>
<line x1="1237.49" y1="202.99" x2="1237.49" y2="216.27" stroke="#4e4e4e" stroke-width="2.6"/>
<polygon points="1240.4,151.3 1240.9,199.4 1241.6,204.6 1242.0,208.9 1241.5,214.4 1240.9,219.9 1240.4,231.1 1240.4,231.1 1240.0,219.9 1239.4,214.4 1238.8,208.9 1239.2,204.6 1240.0,199.4 1240.4,151.3" fill="#565656" stroke="#5f5f5f" stroke-width="0.55"/>
<line x1="1240.45" y1="203.22" x2="1240.45" y2="215.47" stroke="#4e4e4e" stroke-width="2.6"/>
<polygon points="1243.4,159.9 1243.9,197.2 1244.6,203.5 1245.0,208.6 1244.5,214.0 1243.9,219.4 1243.4,230.7 1243.4,230.7 1242.9,219.4 1242.3,214.0 1241.8,208.6 1242.2,203.5 1242.9,197.2 1243.4,159.9" fill="#565656" stroke="#5f5f5f" stroke-width="0.55"/>
<line x1="1243.41" y1="201.75" x2="1243.41" y2="215.09" stroke="#4e4e4e" stroke-width="2.6"/>
<polygon points="1246.4,173.7 1246.8,196.1 1247.6,202.6 1248.0,208.0 1247.4,213.8 1246.8,219.6 1246.4,230.3 1246.4,230.3 1245.9,219.6 1245.3,213.8 1244.8,208.0 1245.2,202.6 1245.9,196.1 1246.4,173.7" fill="#565656" stroke="#5f5f5f" stroke-width="0.55"/>
<line x1="1246.36" y1="200.85" x2="1246.36" y2="214.93" stroke="#4e4e4e" stroke-width="2.6"/>
<polygon points="1249.3,154.4 1249.8,198.1 1250.5,203.0 1250.9,207.1 1250.4,213.4 1249.8,219.7 1249.3,229.5 1249.3,229.5 1248.9,219.7 1248.2,213.4 1247.7,207.1 1248.1,203.0 1248.8,198.1 1249.3,154.4" fill="#565656" stroke="#5f5f5f" stroke-width="0.55"/>
<line x1="1249.32" y1="201.69" x2="1249.32" y2="214.66" stroke="#4e4e4e" stroke-width="2.6"/>
<polygon points="1252.3,167.3 1252.8,195.9 1253.5,202.1 1253.9,207.3 1253.4,213.7 1252.7,220.2 1252.3,232.6 1252.3,232.6 1251.8,220.2 1251.2,213.7 1250.7,207.3 1251.1,202.1 1251.8,195.9 1252.3,167.3" fill="#565656" stroke="#5f5f5f" stroke-width="0.55"/>
<line x1="1252.27" y1="200.42" x2="1252.27" y2="215" stroke="#4e4e4e" stroke-width="2.6"/>
<polygon points="1255.2,174.3 1255.7,195.0 1256.4,202.0 1256.8,207.8 1256.3,213.3 1255.7,218.8 1255.2,234.4 1255.2,234.4 1254.8,218.8 1254.1,213.3 1253.6,207.8 1254.0,202.0 1254.8,195.0 1255.2,174.3" fill="#565656" stroke="#5f5f5f" stroke-width="0.55"/>
<line x1="1255.23" y1="200.11" x2="1255.23" y2="214.41" stroke="#4e4e4e" stroke-width="2.6"/>
<polygon points="1258.2,155.9 1258.7,194.4 1259.4,202.0 1259.8,208.3 1259.3,214.4 1258.6,220.5 1258.2,234.6 1258.2,234.6 1257.7,220.5 1257.1,214.4 1256.6,208.3 1257.0,202.0 1257.7,194.4 1258.2,155.9" fill="#565656" stroke="#5f5f5f" stroke-width="0.55"/>
<line x1="1258.19" y1="199.94" x2="1258.19" y2="215.6" stroke="#4e4e4e" stroke-width="2.6"/>
<polygon points="1261.1,135.5 1261.6,193.9 1262.3,202.7 1262.7,209.8 1262.2,214.5 1261.6,219.1 1261.1,238.3 1261.1,238.3 1260.7,219.1 1260.1,214.5 1259.5,209.8 1259.9,202.7 1260.7,193.9 1261.1,135.5" fill="#565656" stroke="#5f5f5f" stroke-width="0.55"/>
<line x1="1261.14" y1="200.27" x2="1261.14" y2="215.39" stroke="#4e4e4e" stroke-width="2.6"/>
<polygon points="1264.1,177.7 1264.6,195.9 1265.3,203.3 1265.7,209.3 1265.2,214.3 1264.6,219.2 1264.1,238.0 1264.1,238.0 1263.6,219.2 1263.0,214.3 1262.5,209.3 1262.9,203.3 1263.6,195.9 1264.1,177.7" fill="#565656" stroke="#5f5f5f" stroke-width="0.55"/>
<line x1="1264.1" y1="201.27" x2="1264.1" y2="215.25" stroke="#4e4e4e" stroke-width="2.6"/>
<polygon points="1267.1,173.7 1267.5,193.4 1268.3,200.7 1268.7,206.8 1268.1,213.6 1267.5,220.4 1267.1,235.4 1267.1,235.4 1266.6,220.4 1266.0,213.6 1265.5,206.8 1265.9,200.7 1266.6,193.4 1267.1,173.7" fill="#565656" stroke="#5f5f5f" stroke-width="0.55"/>
<line x1="1267.05" y1="198.73" x2="1267.05" y2="214.93" stroke="#4e4e4e" stroke-width="2.6"/>
<polygon points="1270.0,184.3 1270.5,193.4 1271.2,201.0 1271.6,207.2 1271.1,213.3 1270.5,219.3 1270.0,234.2 1270.0,234.2 1269.6,219.3 1268.9,213.3 1268.4,207.2 1268.8,201.0 1269.5,193.4 1270.0,184.3" fill="#565656" stroke="#5f5f5f" stroke-width="0.55"/>
<line x1="1270.01" y1="198.95" x2="1270.01" y2="214.47" stroke="#4e4e4e" stroke-width="2.6"/>
<polygon points="1273.0,192.5 1273.4,191.9 1274.2,201.4 1274.6,209.1 1274.1,213.6 1273.4,218.1 1273.0,235.2 1273.0,235.2 1272.5,218.1 1271.9,213.6 1271.4,209.1 1271.8,201.4 1272.5,191.9 1273.0,192.5" fill="#565656" stroke="#5f5f5f" stroke-width="0.55"/>
<line x1="1272.97" y1="198.79" x2="1272.97" y2="214.51" stroke="#4e4e4e" stroke-width="2.6"/>
<polygon points="1275.9,147.8 1276.4,194.6 1277.1,202.4 1277.5,208.8 1277.0,214.8 1276.4,220.9 1275.9,236.1 1275.9,236.1 1275.5,220.9 1274.8,214.8 1274.3,208.8 1274.7,202.4 1275.4,194.6 1275.9,147.8" fill="#565656" stroke="#5f5f5f" stroke-width="0.55"/>
<line x1="1275.92" y1="200.25" x2="1275.92" y2="216.03" stroke="#4e4e4e" stroke-width="2.6"/>
<polygon points="1278.9,162.9 1279.4,194.4 1280.1,202.1 1280.5,208.4 1280.0,213.5 1279.3,218.6 1278.9,235.7 1278.9,235.7 1278.4,218.6 1277.8,213.5 1277.3,208.4 1277.7,202.1 1278.4,194.4 1278.9,162.9" fill="#565656" stroke="#5f5f5f" stroke-width="0.55"/>
<line x1="1278.88" y1="199.97" x2="1278.88" y2="214.5" stroke="#4e4e4e" stroke-width="2.6"/>
<polygon points="1281.8,174.0 1282.3,192.5 1283.0,199.3 1283.4,205.0 1282.9,212.3 1282.3,219.7 1281.8,237.4 1281.8,237.4 1281.4,219.7 1280.7,212.3 1280.2,205.0 1280.6,199.3 1281.4,192.5 1281.8,174.0" fill="#565656" stroke="#5f5f5f" stroke-width="0.55"/>
<line x1="1281.83" y1="197.45" x2="1281.83" y2="213.8" stroke="#4e4e4e" stroke-width="2.6"/>
<polygon points="1284.8,159.6 1285.3,189.7 1286.0,195.3 1286.4,199.9 1285.9,209.2 1285.2,218.5 1284.8,235.4 1284.8,235.4 1284.3,218.5 1283.7,209.2 1283.2,199.9 1283.6,195.3 1284.3,189.7 1284.8,159.6" fill="#565656" stroke="#5f5f5f" stroke-width="0.55"/>
<line x1="1284.79" y1="193.81" x2="1284.79" y2="211.1" stroke="#4e4e4e" stroke-width="2.6"/>
<polygon points="1287.7,155.3 1288.2,189.2 1288.9,196.4 1289.3,202.2 1288.8,211.6 1288.2,221.1 1287.7,236.9 1287.7,236.9 1287.3,221.1 1286.7,211.6 1286.1,202.2 1286.5,196.4 1287.3,189.2 1287.7,155.3" fill="#565656" stroke="#5f5f5f" stroke-width="0.55"/>
<line x1="1287.75" y1="194.42" x2="1287.75" y2="213.53" stroke="#4e4e4e" stroke-width="2.6"/>
<polygon points="1290.7,175.9 1291.2,190.4 1291.9,198.3 1292.3,204.7 1291.8,213.2 1291.2,221.7 1290.7,235.4 1290.7,235.4 1290.2,221.7 1289.6,213.2 1289.1,204.7 1289.5,198.3 1290.2,190.4 1290.7,175.9" fill="#565656" stroke="#5f5f5f" stroke-width="0.55"/>
<line x1="1290.7" y1="196.15" x2="1290.7" y2="214.91" stroke="#4e4e4e" stroke-width="2.6"/>
<polygon points="1293.7,154.0 1294.1,189.1 1294.9,198.4 1295.3,206.0 1294.7,212.5 1294.1,219.0 1293.7,240.4 1293.7,240.4 1293.2,219.0 1292.6,212.5 1292.1,206.0 1292.5,198.4 1293.2,189.1 1293.7,154.0" fill="#565656" stroke="#5f5f5f" stroke-width="0.55"/>
<line x1="1293.66" y1="195.86" x2="1293.66" y2="213.78" stroke="#4e4e4e" stroke-width="2.6"/>
<polygon points="1296.6,128.1 1297.1,186.4 1297.8,196.7 1298.2,205.1 1297.7,212.6 1297.1,220.2 1296.6,239.8 1296.6,239.8 1296.2,220.2 1295.5,212.6 1295.0,205.1 1295.4,196.7 1296.1,186.4 1296.6,128.1" fill="#565656" stroke="#5f5f5f" stroke-width="0.55"/>
<line x1="1296.61" y1="193.86" x2="1296.61" y2="214.12" stroke="#4e4e4e" stroke-width="2.6"/>
<polygon points="1299.6,175.4 1300.0,186.8 1300.8,196.2 1301.2,203.9 1300.7,213.2 1300.0,222.5 1299.6,246.6 1299.6,246.6 1299.1,222.5 1298.5,213.2 1298.0,203.9 1298.4,196.2 1299.1,186.8 1299.6,175.4" fill="#565656" stroke="#5f5f5f" stroke-width="0.55"/>
<line x1="1299.57" y1="193.67" x2="1299.57" y2="215.08" stroke="#4e4e4e" stroke-width="2.6"/>
<polygon points="1302.5,135.9 1303.0,185.7 1303.7,195.8 1304.1,204.0 1303.6,212.2 1303.0,220.4 1302.5,252.4 1302.5,252.4 1302.1,220.4 1301.4,212.2 1300.9,204.0 1301.3,195.8 1302.0,185.7 1302.5,135.9" fill="#565656" stroke="#5f5f5f" stroke-width="0.55"/>
<line x1="1302.53" y1="193.04" x2="1302.53" y2="213.87" stroke="#4e4e4e" stroke-width="2.6"/>
<polygon points="1305.5,179.6 1306.0,187.3 1306.7,198.0 1307.1,206.8 1306.6,213.9 1305.9,221.0 1305.5,245.7 1305.5,245.7 1305.0,221.0 1304.4,213.9 1303.9,206.8 1304.3,198.0 1305.0,187.3 1305.5,179.6" fill="#565656" stroke="#5f5f5f" stroke-width="0.55"/>
<line x1="1305.48" y1="195.08" x2="1305.48" y2="215.32" stroke="#4e4e4e" stroke-width="2.6"/>
<polygon points="1308.4,166.1 1308.9,185.2 1309.6,198.3 1310.0,209.0 1309.5,215.9 1308.9,222.9 1308.4,236.1 1308.4,236.1 1308.0,222.9 1307.4,215.9 1306.8,209.0 1307.2,198.3 1308.0,185.2 1308.4,166.1" fill="#565656" stroke="#5f5f5f" stroke-width="0.55"/>
<line x1="1308.44" y1="194.73" x2="1308.44" y2="217.32" stroke="#4e4e4e" stroke-width="2.6"/>
<polygon points="1311.4,180.6 1311.9,187.9 1312.6,200.0 1313.0,209.9 1312.5,216.4 1311.9,222.8 1311.4,240.9 1311.4,240.9 1310.9,222.8 1310.3,216.4 1309.8,209.9 1310.2,200.0 1310.9,187.9 1311.4,180.6" fill="#565656" stroke="#5f5f5f" stroke-width="0.55"/>
<line x1="1311.39" y1="196.74" x2="1311.39" y2="217.65" stroke="#4e4e4e" stroke-width="2.6"/>
<polygon points="1314.3,102.2 1314.8,183.5 1315.5,197.3 1315.9,208.6 1315.4,215.3 1314.8,222.1 1314.3,249.4 1314.3,249.4 1313.9,222.1 1313.3,215.3 1312.8,208.6 1313.1,197.3 1313.9,183.5 1314.3,102.2" fill="#565656" stroke="#5f5f5f" stroke-width="0.55"/>
<line x1="1314.35" y1="193.56" x2="1314.35" y2="216.68" stroke="#4e4e4e" stroke-width="2.6"/>
<polygon points="1317.3,176.5 1317.8,184.3 1318.5,196.9 1318.9,207.3 1318.4,214.0 1317.8,220.6 1317.3,233.2 1317.3,233.2 1316.8,220.6 1316.2,214.0 1315.7,207.3 1316.1,196.9 1316.8,184.3 1317.3,176.5" fill="#565656" stroke="#5f5f5f" stroke-width="0.55"/>
<line x1="1317.31" y1="193.5" x2="1317.31" y2="215.3" stroke="#4e4e4e" stroke-width="2.6"/>
<polygon points="1320.3,161.1 1320.7,187.0 1321.5,197.0 1321.9,205.2 1321.3,213.2 1320.7,221.3 1320.3,231.4 1320.3,231.4 1319.8,221.3 1319.2,213.2 1318.7,205.2 1319.1,197.0 1319.8,187.0 1320.3,161.1" fill="#565656" stroke="#5f5f5f" stroke-width="0.55"/>
<line x1="1320.26" y1="194.25" x2="1320.26" y2="214.84" stroke="#4e4e4e" stroke-width="2.6"/>
<polygon points="1323.2,188.0 1323.7,185.1 1324.4,196.3 1324.8,205.4 1324.3,212.5 1323.7,219.6 1323.2,232.4 1323.2,232.4 1322.8,219.6 1322.1,212.5 1321.6,205.4 1322.0,196.3 1322.7,185.1 1323.2,188.0" fill="#565656" stroke="#5f5f5f" stroke-width="0.55"/>
<line x1="1323.22" y1="193.26" x2="1323.22" y2="213.94" stroke="#4e4e4e" stroke-width="2.6"/>
<polygon points="1325.7,148.8 1326.2,189.5 1326.9,198.2 1327.2,205.3 1326.8,211.8 1326.2,218.4 1325.7,233.9 1325.7,233.9 1325.3,218.4 1324.7,211.8 1324.2,205.3 1324.6,198.2 1325.3,189.5 1325.7,148.8" fill="#5a5a5a" stroke="#636363" stroke-width="0.7"/>
<line x1="1325.74" y1="191.87" x2="1325.74" y2="214.45" stroke="#474747" stroke-width="1.5"/>
<polygon points="1328.7,149.5 1329.2,189.5 1329.8,197.7 1330.2,204.4 1329.7,211.4 1329.1,218.4 1328.7,228.0 1328.7,228.0 1328.3,218.4 1327.7,211.4 1327.2,204.4 1327.6,197.7 1328.3,189.5 1328.7,149.5" fill="#5a5a5a" stroke="#636363" stroke-width="0.7"/>
<line x1="1328.7" y1="191.74" x2="1328.7" y2="214.19" stroke="#474747" stroke-width="1.5"/>
<polygon points="1331.7,143.6 1332.1,189.5 1332.8,197.2 1333.2,203.6 1332.7,211.0 1332.1,218.4 1331.7,230.2 1331.7,230.2 1331.2,218.4 1330.6,211.0 1330.2,203.6 1330.5,197.2 1331.2,189.5 1331.7,143.6" fill="#5a5a5a" stroke="#636363" stroke-width="0.7"/>
<line x1="1331.66" y1="191.61" x2="1331.66" y2="213.92" stroke="#474747" stroke-width="1.5"/>
<polygon points="1334.6,188.8 1335.0,189.5 1335.7,198.2 1336.0,205.3 1335.6,211.8 1335.0,218.4 1334.6,219.1 1334.6,219.1 1334.2,218.4 1333.7,211.8 1333.2,205.3 1333.6,198.2 1334.2,189.5 1334.6,188.8" fill="#5a5a5a" stroke="#636363" stroke-width="0.7"/>
<line x1="1334.62" y1="191.87" x2="1334.62" y2="214.45" stroke="#474747" stroke-width="1.5"/>
<polygon points="1337.6,145.4 1338.0,189.5 1338.7,197.7 1339.1,204.4 1338.6,211.4 1338.0,218.4 1337.6,242.8 1337.6,242.8 1337.2,218.4 1336.6,211.4 1336.1,204.4 1336.5,197.7 1337.1,189.5 1337.6,145.4" fill="#5a5a5a" stroke="#636363" stroke-width="0.7"/>
<line x1="1337.58" y1="191.74" x2="1337.58" y2="214.19" stroke="#474747" stroke-width="1.5"/>
<polygon points="1340.5,196.2 1341.0,189.5 1341.6,197.2 1341.9,203.6 1341.5,211.0 1340.9,218.4 1340.5,215.4 1340.5,215.4 1340.1,218.4 1339.6,211.0 1339.1,203.6 1339.5,197.2 1340.1,189.5 1340.5,196.2" fill="#5a5a5a" stroke="#636363" stroke-width="0.7"/>
<line x1="1340.54" y1="191.61" x2="1340.54" y2="213.92" stroke="#474747" stroke-width="1.5"/>
<polygon points="1343.5,175.4 1343.9,179.5 1344.4,185.0 1344.9,194.5 1344.5,202.7 1343.9,205.4 1343.5,209.5 1343.5,209.5 1343.1,205.4 1342.6,202.7 1342.1,194.5 1342.6,185.0 1343.1,179.5 1343.5,175.4" fill="#3f5a5c" stroke="#636363" stroke-width="0.7"/>
<line x1="1343.5" y1="186.4" x2="1343.5" y2="200.22" stroke="#474747" stroke-width="1.5"/>
<polygon points="1349.4,69.3 1349.9,87.8 1350.4,122.9 1351.0,145.8 1350.5,173.2 1349.9,205.0 1349.4,223.5 1349.4,223.5 1348.9,205.0 1348.3,173.2 1347.8,145.8 1348.4,122.9 1348.9,87.8 1349.4,69.3" fill="#6b7182" stroke="#636363" stroke-width="0.7"/>
<line x1="1349.42" y1="126.33" x2="1349.42" y2="165" stroke="#474747" stroke-width="1.5"/>
<polygon points="1352.4,136.2 1352.8,145.4 1353.3,157.8 1353.9,179.3 1353.4,197.8 1352.8,203.9 1352.4,213.2 1352.4,213.2 1351.9,203.9 1351.4,197.8 1350.9,179.3 1351.5,157.8 1351.9,145.4 1352.4,136.2" fill="#8a6377" stroke="#636363" stroke-width="0.7"/>
<line x1="1352.38" y1="160.99" x2="1352.38" y2="192.24" stroke="#474747" stroke-width="1.5"/>
<polygon points="1355.3,188.8 1355.8,192.8 1356.2,198.1 1356.7,207.4 1356.3,215.4 1355.8,218.1 1355.3,222.1 1355.3,222.1 1354.9,218.1 1354.4,215.4 1353.9,207.4 1354.5,198.1 1354.9,192.8 1355.3,188.8" fill="#7d9a4a" stroke="#636363" stroke-width="0.7"/>
<line x1="1355.34" y1="199.48" x2="1355.34" y2="213" stroke="#474747" stroke-width="1.5"/>
<polygon points="1358.3,200.6 1358.7,202.2 1359.1,204.3 1359.6,208.1 1359.2,211.3 1358.7,212.3 1358.3,213.9 1358.3,213.9 1357.9,212.3 1357.4,211.3 1357.0,208.1 1357.5,204.3 1357.9,202.2 1358.3,200.6" fill="#b0a060" stroke="#636363" stroke-width="0.7"/>
<line x1="1358.3" y1="204.89" x2="1358.3" y2="210.3" stroke="#474747" stroke-width="1.5"/>
<polygon points="1361.3,152.0 1361.7,163.9 1362.2,179.7 1362.8,207.4 1362.3,231.1 1361.7,239.1 1361.3,250.9 1361.3,250.9 1360.8,239.1 1360.2,231.1 1359.8,207.4 1360.3,179.7 1360.8,163.9 1361.3,152.0" fill="#8b8577" stroke="#636363" stroke-width="0.7"/>
<line x1="1361.26" y1="183.89" x2="1361.26" y2="224.03" stroke="#474747" stroke-width="1.5"/>
<polygon points="1364.2,153.2 1364.7,163.6 1365.2,177.5 1365.7,201.7 1365.2,222.5 1364.7,229.4 1364.2,239.8 1364.2,239.8 1363.8,229.4 1363.2,222.5 1362.7,201.7 1363.3,177.5 1363.8,163.6 1364.2,153.2" fill="#5f5f5f" stroke="#636363" stroke-width="0.7"/>
<line x1="1364.22" y1="181.11" x2="1364.22" y2="216.27" stroke="#474747" stroke-width="1.5"/>
<polygon points="1370.1,128.1 1370.6,143.2 1371.1,170.3 1371.7,191.0 1371.2,210.2 1370.6,238.8 1370.1,253.9 1370.1,253.9 1369.7,238.8 1369.1,210.2 1368.5,191.0 1369.2,170.3 1369.7,143.2 1370.1,128.1" fill="#c9735a" stroke="#636363" stroke-width="0.7"/>
<line x1="1370.15" y1="173.36" x2="1370.15" y2="204.45" stroke="#474747" stroke-width="1.5"/>
<polygon points="1373.1,174.7 1373.6,178.6 1374.0,183.8 1374.6,192.9 1374.1,200.7 1373.6,203.4 1373.1,207.3 1373.1,207.3 1372.7,203.4 1372.1,200.7 1371.6,192.9 1372.2,183.8 1372.7,178.6 1373.1,174.7" fill="#6a7590" stroke="#636363" stroke-width="0.7"/>
<line x1="1373.11" y1="185.18" x2="1373.11" y2="198.4" stroke="#474747" stroke-width="1.5"/>
<polygon points="1376.1,193.9 1376.5,198.1 1376.9,203.7 1377.5,213.4 1377.0,221.8 1376.5,224.5 1376.1,228.7 1376.1,228.7 1375.6,224.5 1375.1,221.8 1374.7,213.4 1375.2,203.7 1375.6,198.1 1376.1,193.9" fill="#9a7290" stroke="#636363" stroke-width="0.7"/>
<line x1="1376.07" y1="205.14" x2="1376.07" y2="219.26" stroke="#474747" stroke-width="1.5"/>
<polygon points="1379.0,180.6 1379.5,184.5 1380.0,189.7 1380.5,198.9 1380.0,206.7 1379.5,209.3 1379.0,213.2 1379.0,213.2 1378.6,209.3 1378.0,206.7 1377.5,198.9 1378.1,189.7 1378.6,184.5 1379.0,180.6" fill="#6f9a55" stroke="#636363" stroke-width="0.7"/>
<line x1="1379.03" y1="191.1" x2="1379.03" y2="204.32" stroke="#474747" stroke-width="1.5"/>
<polygon points="1382.0,163.3 1382.5,171.3 1383.0,182.0 1383.6,200.8 1383.1,216.8 1382.5,222.2 1382.0,230.2 1382.0,230.2 1381.5,222.2 1380.9,216.8 1380.4,200.8 1381.0,182.0 1381.5,171.3 1382.0,163.3" fill="#b5a030" stroke="#636363" stroke-width="0.7"/>
<line x1="1381.99" y1="184.84" x2="1381.99" y2="212" stroke="#474747" stroke-width="1.5"/>
<polygon points="1387.9,198.4 1388.4,202.4 1388.8,207.7 1389.4,217.0 1388.9,225.0 1388.4,227.7 1387.9,231.7 1387.9,231.7 1387.5,227.7 1386.9,225.0 1386.4,217.0 1387.0,207.7 1387.5,202.4 1387.9,198.4" fill="#777" stroke="#636363" stroke-width="0.7"/>
<line x1="1387.91" y1="209.1" x2="1387.91" y2="222.62" stroke="#474747" stroke-width="1.5"/>
<polygon points="1393.5,173.2 1394.0,177.1 1394.5,182.3 1395.0,191.5 1394.6,199.3 1394.0,201.9 1393.5,205.8 1393.5,205.8 1393.1,201.9 1392.5,199.3 1392.0,191.5 1392.6,182.3 1393.1,177.1 1393.5,173.2" fill="#c4614f" stroke="#636363" stroke-width="0.7"/>
<line x1="1393.53" y1="183.7" x2="1393.53" y2="196.92" stroke="#474747" stroke-width="1.5"/>
<polygon points="1405.4,190.2 1405.8,193.5 1406.3,197.9 1406.9,205.6 1406.4,212.1 1405.8,214.3 1405.4,217.6 1405.4,217.6 1404.9,214.3 1404.4,212.1 1403.9,205.6 1404.4,197.9 1404.9,193.5 1405.4,190.2" fill="#bdb32a" stroke="#636363" stroke-width="0.7"/>
<line x1="1405.37" y1="199.05" x2="1405.37" y2="210.17" stroke="#474747" stroke-width="1.5"/>
<polygon points="1420.5,197.6 1420.9,198.3 1421.3,199.1 1421.9,200.5 1421.4,201.8 1420.9,202.2 1420.5,202.8 1420.5,202.8 1420.1,202.2 1419.5,201.8 1419.1,200.5 1419.6,199.1 1420.1,198.3 1420.5,197.6" fill="#444" stroke="#636363" stroke-width="0.7"/>
<line x1="1420.47" y1="199.31" x2="1420.47" y2="201.41" stroke="#474747" stroke-width="1.5"/>
<polygon points="1423.4,195.4 1423.9,197.1 1424.3,199.4 1424.8,203.3 1424.4,206.7 1423.9,207.8 1423.4,209.5 1423.4,209.5 1423.0,207.8 1422.5,206.7 1422.0,203.3 1422.6,199.4 1423.0,197.1 1423.4,195.4" fill="#a97a98" stroke="#636363" stroke-width="0.7"/>
<line x1="1423.43" y1="199.95" x2="1423.43" y2="205.65" stroke="#474747" stroke-width="1.5"/>
<polygon points="1429.4,152.9 1429.8,160.8 1430.3,171.4 1431.0,189.8 1430.4,205.6 1429.8,210.9 1429.4,218.8 1429.4,218.8 1428.9,210.9 1428.3,205.6 1427.8,189.8 1428.4,171.4 1428.9,160.8 1429.4,152.9" fill="#a89c2c" stroke="#636363" stroke-width="0.7"/>
<line x1="1429.35" y1="174.15" x2="1429.35" y2="200.89" stroke="#474747" stroke-width="1.5"/>
<polygon points="1441.2,207.0 1441.6,207.3 1441.9,207.7 1442.4,208.5 1442.0,209.1 1441.6,209.3 1441.2,209.6 1441.2,209.6 1440.8,209.3 1440.4,209.1 1440.0,208.5 1440.4,207.7 1440.8,207.3 1441.2,207.0" fill="#444" stroke="#636363" stroke-width="0.7"/>
<line x1="1441.19" y1="207.82" x2="1441.19" y2="208.9" stroke="#474747" stroke-width="1.5"/>
<polygon points="1455.7,173.2 1456.1,180.4 1456.6,190.0 1457.2,206.8 1456.7,221.2 1456.1,226.0 1455.7,233.2 1455.7,233.2 1455.2,226.0 1454.7,221.2 1454.2,206.8 1454.8,190.0 1455.2,180.4 1455.7,173.2" fill="#b09a72" stroke="#636363" stroke-width="0.7"/>
<line x1="1455.7" y1="192.52" x2="1455.7" y2="216.86" stroke="#474747" stroke-width="1.5"/>
<polygon points="1461.6,177.7 1462.1,179.6 1462.6,182.2 1463.2,186.8 1462.7,190.7 1462.1,192.0 1461.6,193.9 1461.6,193.9 1461.1,192.0 1460.5,190.7 1460.0,186.8 1460.6,182.2 1461.1,179.6 1461.6,177.7" fill="#3f8a7a" stroke="#636363" stroke-width="0.7"/>
<line x1="1461.62" y1="182.9" x2="1461.62" y2="189.51" stroke="#474747" stroke-width="1.5"/>
<polygon points="1467.5,191.0 1468.0,193.0 1468.5,195.7 1469.0,200.5 1468.6,204.6 1468.0,206.0 1467.5,208.0 1467.5,208.0 1467.1,206.0 1466.5,204.6 1466.0,200.5 1466.6,195.7 1467.1,193.0 1467.5,191.0" fill="#4f6aa0" stroke="#636363" stroke-width="0.7"/>
<line x1="1467.54" y1="196.46" x2="1467.54" y2="203.37" stroke="#474747" stroke-width="1.5"/>
<polygon points="1500.1,170.3 1500.6,175.6 1501.1,182.7 1501.7,195.1 1501.2,205.8 1500.6,209.3 1500.1,214.7 1500.1,214.7 1499.6,209.3 1499.0,205.8 1498.5,195.1 1499.1,182.7 1499.6,175.6 1500.1,170.3" fill="#b8a828" stroke="#636363" stroke-width="0.7"/>
<line x1="1500.1" y1="184.55" x2="1500.1" y2="202.58" stroke="#474747" stroke-width="1.5"/>
<polygon points="1503.1,119.2 1503.5,126.8 1504.0,137.0 1504.6,154.8 1504.1,170.1 1503.5,175.2 1503.1,182.8 1503.1,182.8 1502.6,175.2 1502.0,170.1 1501.6,154.8 1502.1,137.0 1502.6,126.8 1503.1,119.2" fill="#a89468" stroke="#636363" stroke-width="0.7"/>
<line x1="1503.06" y1="139.68" x2="1503.06" y2="165.52" stroke="#474747" stroke-width="1.5"/>
<polygon points="1506.0,57.8 1506.5,83.1 1507.1,131.8 1507.7,162.9 1507.2,193.9 1506.5,243.4 1506.0,268.7 1506.0,268.7 1505.5,243.4 1504.9,193.9 1504.3,162.9 1505.0,131.8 1505.5,83.1 1506.0,57.8" fill="#6e6e6e" stroke="#636363" stroke-width="0.7"/>
<line x1="1506.02" y1="136.43" x2="1506.02" y2="184.61" stroke="#474747" stroke-width="1.5"/>
<line x1="1345.16" y1="180.32" x2="1347.76" y2="180.32" stroke="#6a6a6a" stroke-width="0.9"/>
<line x1="1365.88" y1="213.18" x2="1368.48" y2="213.18" stroke="#6a6a6a" stroke-width="0.9"/>
<line x1="1383.65" y1="213.92" x2="1386.25" y2="213.92" stroke="#6a6a6a" stroke-width="0.9"/>
<line x1="1389.57" y1="201.78" x2="1392.17" y2="201.78" stroke="#6a6a6a" stroke-width="0.9"/>
<line x1="1395.49" y1="202.82" x2="1398.09" y2="202.82" stroke="#6a6a6a" stroke-width="0.9"/>
<line x1="1398.15" y1="193.94" x2="1400.75" y2="193.94" stroke="#6a6a6a" stroke-width="0.9"/>
<line x1="1401.11" y1="215.1" x2="1403.71" y2="215.1" stroke="#6a6a6a" stroke-width="0.9"/>
<line x1="1407.03" y1="209.48" x2="1409.63" y2="209.48" stroke="#6a6a6a" stroke-width="0.9"/>
<line x1="1409.99" y1="204.74" x2="1412.59" y2="204.74" stroke="#6a6a6a" stroke-width="0.9"/>
<line x1="1412.95" y1="191.27" x2="1415.55" y2="191.27" stroke="#6a6a6a" stroke-width="0.9"/>
<line x1="1416.21" y1="191.27" x2="1418.81" y2="191.27" stroke="#6a6a6a" stroke-width="0.9"/>
<line x1="1425.09" y1="191.27" x2="1427.69" y2="191.27" stroke="#6a6a6a" stroke-width="0.9"/>
<line x1="1431.01" y1="210.96" x2="1433.61" y2="210.96" stroke="#6a6a6a" stroke-width="0.9"/>
<line x1="1433.97" y1="188.02" x2="1436.57" y2="188.02" stroke="#6a6a6a" stroke-width="0.9"/>
<line x1="1436.93" y1="192.9" x2="1439.53" y2="192.9" stroke="#6a6a6a" stroke-width="0.9"/>
<line x1="1442.85" y1="210.22" x2="1445.45" y2="210.22" stroke="#6a6a6a" stroke-width="0.9"/>
<line x1="1445.81" y1="208.44" x2="1448.41" y2="208.44" stroke="#6a6a6a" stroke-width="0.9"/>
<line x1="1448.77" y1="192.46" x2="1451.37" y2="192.46" stroke="#6a6a6a" stroke-width="0.9"/>
<line x1="1451.44" y1="198.38" x2="1454.04" y2="198.38" stroke="#6a6a6a" stroke-width="0.9"/>
<line x1="1457.36" y1="188.46" x2="1459.96" y2="188.46" stroke="#6a6a6a" stroke-width="0.9"/>
<line x1="1463.28" y1="206.07" x2="1465.88" y2="206.07" stroke="#6a6a6a" stroke-width="0.9"/>
<line x1="1469.2" y1="178.84" x2="1471.8" y2="178.84" stroke="#6a6a6a" stroke-width="0.9"/>
<line x1="1472.16" y1="176.47" x2="1474.76" y2="176.47" stroke="#6a6a6a" stroke-width="0.9"/>
<line x1="1475.12" y1="208.29" x2="1477.72" y2="208.29" stroke="#6a6a6a" stroke-width="0.9"/>
<line x1="1478.08" y1="207.55" x2="1480.68" y2="207.55" stroke="#6a6a6a" stroke-width="0.9"/>
<line x1="1481.04" y1="172.18" x2="1483.64" y2="172.18" stroke="#6a6a6a" stroke-width="0.9"/>
<line x1="1484" y1="207.26" x2="1486.6" y2="207.26" stroke="#6a6a6a" stroke-width="0.9"/>
<line x1="1486.96" y1="207.26" x2="1489.56" y2="207.26" stroke="#6a6a6a" stroke-width="0.9"/>
<line x1="1489.92" y1="203.11" x2="1492.52" y2="203.11" stroke="#6a6a6a" stroke-width="0.9"/>
<line x1="1492.88" y1="186.54" x2="1495.48" y2="186.54" stroke="#6a6a6a" stroke-width="0.9"/>
<line x1="1495.84" y1="186.24" x2="1498.44" y2="186.24" stroke="#6a6a6a" stroke-width="0.9"/>
<line x1="1507.68" y1="221.17" x2="1510.28" y2="221.17" stroke="#6a6a6a" stroke-width="0.9"/>
<line x1="1510.64" y1="207.55" x2="1513.24" y2="207.55" stroke="#6a6a6a" stroke-width="0.9"/>
<line x1="1513.61" y1="184.61" x2="1516.21" y2="184.61" stroke="#6a6a6a" stroke-width="0.9"/>
<line x1="1516.57" y1="166.55" x2="1519.17" y2="166.55" stroke="#6a6a6a" stroke-width="0.9"/>
<line x1="1519.53" y1="191.72" x2="1522.13" y2="191.72" stroke="#6a6a6a" stroke-width="0.9"/>
<line x1="1522.49" y1="138.43" x2="1525.09" y2="138.43" stroke="#6a6a6a" stroke-width="0.9"/>
<line x1="1130.18" y1="224.79" x2="1131.98" y2="224.79" stroke="#f2f2f2" stroke-width="1"/>
<line x1="1133.13" y1="224.72" x2="1134.93" y2="224.72" stroke="#f2f2f2" stroke-width="1"/>
<line x1="1136.09" y1="223.98" x2="1137.89" y2="223.98" stroke="#f2f2f2" stroke-width="1"/>
<line x1="1139.05" y1="224.08" x2="1140.85" y2="224.08" stroke="#f2f2f2" stroke-width="1"/>
<line x1="1142" y1="223.48" x2="1143.8" y2="223.48" stroke="#f2f2f2" stroke-width="1"/>
<line x1="1144.96" y1="223.1" x2="1146.76" y2="223.1" stroke="#f2f2f2" stroke-width="1"/>
<line x1="1147.91" y1="222.36" x2="1149.71" y2="222.36" stroke="#f2f2f2" stroke-width="1"/>
<line x1="1150.87" y1="222.31" x2="1152.67" y2="222.31" stroke="#f2f2f2" stroke-width="1"/>
<line x1="1153.83" y1="221.61" x2="1155.63" y2="221.61" stroke="#f2f2f2" stroke-width="1"/>
<line x1="1156.78" y1="221.63" x2="1158.58" y2="221.63" stroke="#f2f2f2" stroke-width="1"/>
<line x1="1159.74" y1="220.62" x2="1161.54" y2="220.62" stroke="#f2f2f2" stroke-width="1"/>
<line x1="1162.69" y1="220.26" x2="1164.49" y2="220.26" stroke="#f2f2f2" stroke-width="1"/>
<line x1="1165.65" y1="220.06" x2="1167.45" y2="220.06" stroke="#f2f2f2" stroke-width="1"/>
<line x1="1168.61" y1="219.93" x2="1170.41" y2="219.93" stroke="#f2f2f2" stroke-width="1"/>
<line x1="1171.56" y1="218.8" x2="1173.36" y2="218.8" stroke="#f2f2f2" stroke-width="1"/>
<line x1="1174.52" y1="218.72" x2="1176.32" y2="218.72" stroke="#f2f2f2" stroke-width="1"/>
<line x1="1177.47" y1="218.28" x2="1179.27" y2="218.28" stroke="#f2f2f2" stroke-width="1"/>
<line x1="1180.43" y1="218.2" x2="1182.23" y2="218.2" stroke="#f2f2f2" stroke-width="1"/>
<line x1="1183.39" y1="217.01" x2="1185.19" y2="217.01" stroke="#f2f2f2" stroke-width="1"/>
<line x1="1186.34" y1="216.48" x2="1188.14" y2="216.48" stroke="#f2f2f2" stroke-width="1"/>
<line x1="1189.3" y1="216.63" x2="1191.1" y2="216.63" stroke="#f2f2f2" stroke-width="1"/>
<line x1="1192.25" y1="216.04" x2="1194.05" y2="216.04" stroke="#f2f2f2" stroke-width="1"/>
<line x1="1195.21" y1="215.73" x2="1197.01" y2="215.73" stroke="#f2f2f2" stroke-width="1"/>
<line x1="1198.17" y1="215.33" x2="1199.97" y2="215.33" stroke="#f2f2f2" stroke-width="1"/>
<line x1="1201.12" y1="215.16" x2="1202.92" y2="215.16" stroke="#f2f2f2" stroke-width="1"/>
<line x1="1204.08" y1="214.33" x2="1205.88" y2="214.33" stroke="#f2f2f2" stroke-width="1"/>
<line x1="1207.03" y1="214.12" x2="1208.83" y2="214.12" stroke="#f2f2f2" stroke-width="1"/>
<line x1="1209.99" y1="213.64" x2="1211.79" y2="213.64" stroke="#f2f2f2" stroke-width="1"/>
<line x1="1212.95" y1="213.06" x2="1214.75" y2="213.06" stroke="#f2f2f2" stroke-width="1"/>
<line x1="1215.9" y1="212.41" x2="1217.7" y2="212.41" stroke="#f2f2f2" stroke-width="1"/>
<line x1="1218.86" y1="212.01" x2="1220.66" y2="212.01" stroke="#f2f2f2" stroke-width="1"/>
<line x1="1221.81" y1="212.03" x2="1223.61" y2="212.03" stroke="#f2f2f2" stroke-width="1"/>
<line x1="1224.77" y1="211.59" x2="1226.57" y2="211.59" stroke="#f2f2f2" stroke-width="1"/>
<line x1="1227.73" y1="211.04" x2="1229.53" y2="211.04" stroke="#f2f2f2" stroke-width="1"/>
<line x1="1230.68" y1="210.33" x2="1232.48" y2="210.33" stroke="#f2f2f2" stroke-width="1"/>
<line x1="1233.64" y1="209.68" x2="1235.44" y2="209.68" stroke="#f2f2f2" stroke-width="1"/>
<line x1="1236.59" y1="209.15" x2="1238.39" y2="209.15" stroke="#f2f2f2" stroke-width="1"/>
<line x1="1239.55" y1="208.87" x2="1241.35" y2="208.87" stroke="#f2f2f2" stroke-width="1"/>
<line x1="1242.51" y1="208.56" x2="1244.31" y2="208.56" stroke="#f2f2f2" stroke-width="1"/>
<line x1="1245.46" y1="207.95" x2="1247.26" y2="207.95" stroke="#f2f2f2" stroke-width="1"/>
<line x1="1248.42" y1="207.11" x2="1250.22" y2="207.11" stroke="#f2f2f2" stroke-width="1"/>
<line x1="1251.37" y1="207.26" x2="1253.17" y2="207.26" stroke="#f2f2f2" stroke-width="1"/>
<line x1="1254.33" y1="207.81" x2="1256.13" y2="207.81" stroke="#f2f2f2" stroke-width="1"/>
<line x1="1257.29" y1="208.27" x2="1259.09" y2="208.27" stroke="#f2f2f2" stroke-width="1"/>
<line x1="1260.24" y1="209.85" x2="1262.04" y2="209.85" stroke="#f2f2f2" stroke-width="1"/>
<line x1="1263.2" y1="209.33" x2="1265" y2="209.33" stroke="#f2f2f2" stroke-width="1"/>
<line x1="1266.15" y1="206.76" x2="1267.95" y2="206.76" stroke="#f2f2f2" stroke-width="1"/>
<line x1="1269.11" y1="207.21" x2="1270.91" y2="207.21" stroke="#f2f2f2" stroke-width="1"/>
<line x1="1272.07" y1="209.15" x2="1273.87" y2="209.15" stroke="#f2f2f2" stroke-width="1"/>
<line x1="1275.02" y1="208.8" x2="1276.82" y2="208.8" stroke="#f2f2f2" stroke-width="1"/>
<line x1="1277.98" y1="208.38" x2="1279.78" y2="208.38" stroke="#f2f2f2" stroke-width="1"/>
<line x1="1280.93" y1="204.95" x2="1282.73" y2="204.95" stroke="#f2f2f2" stroke-width="1"/>
<line x1="1283.89" y1="199.94" x2="1285.69" y2="199.94" stroke="#f2f2f2" stroke-width="1"/>
<line x1="1286.85" y1="202.2" x2="1288.65" y2="202.2" stroke="#f2f2f2" stroke-width="1"/>
<line x1="1289.8" y1="204.74" x2="1291.6" y2="204.74" stroke="#f2f2f2" stroke-width="1"/>
<line x1="1292.76" y1="205.95" x2="1294.56" y2="205.95" stroke="#f2f2f2" stroke-width="1"/>
<line x1="1295.71" y1="205.07" x2="1297.51" y2="205.07" stroke="#f2f2f2" stroke-width="1"/>
<line x1="1298.67" y1="203.91" x2="1300.47" y2="203.91" stroke="#f2f2f2" stroke-width="1"/>
<line x1="1301.63" y1="204.02" x2="1303.43" y2="204.02" stroke="#f2f2f2" stroke-width="1"/>
<line x1="1304.58" y1="206.79" x2="1306.38" y2="206.79" stroke="#f2f2f2" stroke-width="1"/>
<line x1="1307.54" y1="208.96" x2="1309.34" y2="208.96" stroke="#f2f2f2" stroke-width="1"/>
<line x1="1310.49" y1="209.95" x2="1312.29" y2="209.95" stroke="#f2f2f2" stroke-width="1"/>
<line x1="1313.45" y1="208.6" x2="1315.25" y2="208.6" stroke="#f2f2f2" stroke-width="1"/>
<line x1="1316.41" y1="207.28" x2="1318.21" y2="207.28" stroke="#f2f2f2" stroke-width="1"/>
<line x1="1319.36" y1="205.15" x2="1321.16" y2="205.15" stroke="#f2f2f2" stroke-width="1"/>
<line x1="1322.32" y1="205.44" x2="1324.12" y2="205.44" stroke="#f2f2f2" stroke-width="1"/>
<line x1="1324.84" y1="205.33" x2="1326.64" y2="205.33" stroke="#f2f2f2" stroke-width="1"/>
<line x1="1327.8" y1="204.45" x2="1329.6" y2="204.45" stroke="#f2f2f2" stroke-width="1"/>
<line x1="1330.76" y1="203.56" x2="1332.56" y2="203.56" stroke="#f2f2f2" stroke-width="1"/>
<line x1="1333.72" y1="205.33" x2="1335.52" y2="205.33" stroke="#f2f2f2" stroke-width="1"/>
<line x1="1336.68" y1="204.45" x2="1338.48" y2="204.45" stroke="#f2f2f2" stroke-width="1"/>
<line x1="1339.64" y1="203.56" x2="1341.44" y2="203.56" stroke="#f2f2f2" stroke-width="1"/>
<line x1="1342.6" y1="194.5" x2="1344.4" y2="194.5" stroke="#f2f2f2" stroke-width="1"/>
<line x1="1348.52" y1="145.83" x2="1350.32" y2="145.83" stroke="#f2f2f2" stroke-width="1"/>
<line x1="1351.48" y1="179.31" x2="1353.28" y2="179.31" stroke="#f2f2f2" stroke-width="1"/>
<line x1="1354.44" y1="207.41" x2="1356.24" y2="207.41" stroke="#f2f2f2" stroke-width="1"/>
<line x1="1357.4" y1="208.06" x2="1359.2" y2="208.06" stroke="#f2f2f2" stroke-width="1"/>
<line x1="1360.36" y1="207.42" x2="1362.16" y2="207.42" stroke="#f2f2f2" stroke-width="1"/>
<line x1="1363.32" y1="201.72" x2="1365.12" y2="201.72" stroke="#f2f2f2" stroke-width="1"/>
<line x1="1369.25" y1="190.98" x2="1371.05" y2="190.98" stroke="#f2f2f2" stroke-width="1"/>
<line x1="1372.21" y1="192.93" x2="1374.01" y2="192.93" stroke="#f2f2f2" stroke-width="1"/>
<line x1="1375.17" y1="213.42" x2="1376.97" y2="213.42" stroke="#f2f2f2" stroke-width="1"/>
<line x1="1378.13" y1="198.85" x2="1379.93" y2="198.85" stroke="#f2f2f2" stroke-width="1"/>
<line x1="1381.09" y1="200.76" x2="1382.89" y2="200.76" stroke="#f2f2f2" stroke-width="1"/>
<line x1="1387.01" y1="217.03" x2="1388.81" y2="217.03" stroke="#f2f2f2" stroke-width="1"/>
<line x1="1392.63" y1="191.45" x2="1394.43" y2="191.45" stroke="#f2f2f2" stroke-width="1"/>
<line x1="1404.47" y1="205.57" x2="1406.27" y2="205.57" stroke="#f2f2f2" stroke-width="1"/>
<line x1="1419.57" y1="200.54" x2="1421.37" y2="200.54" stroke="#f2f2f2" stroke-width="1"/>
<line x1="1422.53" y1="203.29" x2="1424.33" y2="203.29" stroke="#f2f2f2" stroke-width="1"/>
<line x1="1428.45" y1="189.82" x2="1430.25" y2="189.82" stroke="#f2f2f2" stroke-width="1"/>
<line x1="1440.29" y1="208.45" x2="1442.09" y2="208.45" stroke="#f2f2f2" stroke-width="1"/>
<line x1="1454.8" y1="206.79" x2="1456.6" y2="206.79" stroke="#f2f2f2" stroke-width="1"/>
<line x1="1460.72" y1="186.77" x2="1462.52" y2="186.77" stroke="#f2f2f2" stroke-width="1"/>
<line x1="1466.64" y1="200.51" x2="1468.44" y2="200.51" stroke="#f2f2f2" stroke-width="1"/>
<line x1="1499.2" y1="195.12" x2="1501" y2="195.12" stroke="#f2f2f2" stroke-width="1"/>
<line x1="1502.16" y1="154.83" x2="1503.96" y2="154.83" stroke="#f2f2f2" stroke-width="1"/>
<line x1="1505.12" y1="162.85" x2="1506.92" y2="162.85" stroke="#f2f2f2" stroke-width="1"/>
</g>
<rect x="1129.6" y="48" width="400.4" height="230.6" fill="none" stroke="#8a8a8a" stroke-width="1.1"/>
<line x1="1126.8" y1="272.6" x2="1129.6" y2="272.6" stroke="#333" stroke-width="0.9"/>
<text transform="translate(1125.4 276.6)" font-family='"DejaVu Sans","Liberation Sans",sans-serif' font-size="11.9" text-anchor="end">$-2,000,000</text>
<line x1="1126.8" y1="225.5" x2="1129.6" y2="225.5" stroke="#333" stroke-width="0.9"/>
<text transform="translate(1125.4 229.5)" font-family='"DejaVu Sans","Liberation Sans",sans-serif' font-size="11.9" text-anchor="end">$0</text>
<line x1="1126.8" y1="178.4" x2="1129.6" y2="178.4" stroke="#333" stroke-width="0.9"/>
<text transform="translate(1125.4 182.4)" font-family='"DejaVu Sans","Liberation Sans",sans-serif' font-size="11.9" text-anchor="end">$2,000,000</text>
<line x1="1126.8" y1="131.3" x2="1129.6" y2="131.3" stroke="#333" stroke-width="0.9"/>
<text transform="translate(1125.4 135.3)" font-family='"DejaVu Sans","Liberation Sans",sans-serif' font-size="11.9" text-anchor="end">$4,000,000</text>
<line x1="1126.8" y1="84.2" x2="1129.6" y2="84.2" stroke="#333" stroke-width="0.9"/>
<text transform="translate(1125.4 88.2)" font-family='"DejaVu Sans","Liberation Sans",sans-serif' font-size="11.9" text-anchor="end">$6,000,000</text>
<line x1="1131.08" y1="278.6" x2="1131.08" y2="281.6" stroke="#333" stroke-width="0.8"/>
<text transform="translate(1131.08 288.6)" font-family='"DejaVu Sans","Liberation Sans",sans-serif' font-size="7.7" text-anchor="middle">0</text>
<line x1="1145.86" y1="278.6" x2="1145.86" y2="281.6" stroke="#333" stroke-width="0.8"/>
<text transform="translate(1145.86 288.6)" font-family='"DejaVu Sans","Liberation Sans",sans-serif' font-size="7.7" text-anchor="middle">5</text>
<line x1="1160.64" y1="278.6" x2="1160.64" y2="281.6" stroke="#333" stroke-width="0.8"/>
<text transform="translate(1160.64 288.6)" font-family='"DejaVu Sans","Liberation Sans",sans-serif' font-size="7.7" text-anchor="middle">10</text>
<line x1="1175.42" y1="278.6" x2="1175.42" y2="281.6" stroke="#333" stroke-width="0.8"/>
<text transform="translate(1175.42 288.6)" font-family='"DejaVu Sans","Liberation Sans",sans-serif' font-size="7.7" text-anchor="middle">15</text>
<line x1="1190.2" y1="278.6" x2="1190.2" y2="281.6" stroke="#333" stroke-width="0.8"/>
<text transform="translate(1190.2 288.6)" font-family='"DejaVu Sans","Liberation Sans",sans-serif' font-size="7.7" text-anchor="middle">20</text>
<line x1="1204.98" y1="278.6" x2="1204.98" y2="281.6" stroke="#333" stroke-width="0.8"/>
<text transform="translate(1204.98 288.6)" font-family='"DejaVu Sans","Liberation Sans",sans-serif' font-size="7.7" text-anchor="middle">25</text>
<line x1="1219.76" y1="278.6" x2="1219.76" y2="281.6" stroke="#333" stroke-width="0.8"/>
<text transform="translate(1219.76 288.6)" font-family='"DejaVu Sans","Liberation Sans",sans-serif' font-size="7.7" text-anchor="middle">30</text>
<line x1="1234.54" y1="278.6" x2="1234.54" y2="281.6" stroke="#333" stroke-width="0.8"/>
<text transform="translate(1234.54 288.6)" font-family='"DejaVu Sans","Liberation Sans",sans-serif' font-size="7.7" text-anchor="middle">35</text>
<line x1="1249.32" y1="278.6" x2="1249.32" y2="281.6" stroke="#333" stroke-width="0.8"/>
<text transform="translate(1249.32 288.6)" font-family='"DejaVu Sans","Liberation Sans",sans-serif' font-size="7.7" text-anchor="middle">40</text>
<line x1="1264.1" y1="278.6" x2="1264.1" y2="281.6" stroke="#333" stroke-width="0.8"/>
<text transform="translate(1264.1 288.6)" font-family='"DejaVu Sans","Liberation Sans",sans-serif' font-size="7.7" text-anchor="middle">45</text>
<line x1="1278.88" y1="278.6" x2="1278.88" y2="281.6" stroke="#333" stroke-width="0.8"/>
<text transform="translate(1278.88 288.6)" font-family='"DejaVu Sans","Liberation Sans",sans-serif' font-size="7.7" text-anchor="middle">50</text>
<line x1="1293.66" y1="278.6" x2="1293.66" y2="281.6" stroke="#333" stroke-width="0.8"/>
<text transform="translate(1293.66 288.6)" font-family='"DejaVu Sans","Liberation Sans",sans-serif' font-size="7.7" text-anchor="middle">55</text>
<line x1="1308.44" y1="278.6" x2="1308.44" y2="281.6" stroke="#333" stroke-width="0.8"/>
<text transform="translate(1308.44 288.6)" font-family='"DejaVu Sans","Liberation Sans",sans-serif' font-size="7.7" text-anchor="middle">60</text>
<line x1="1323.22" y1="278.6" x2="1323.22" y2="281.6" stroke="#333" stroke-width="0.8"/>
<text transform="translate(1323.22 288.6)" font-family='"DejaVu Sans","Liberation Sans",sans-serif' font-size="7.7" text-anchor="middle">65</text>
<line x1="1338" y1="278.6" x2="1338" y2="281.6" stroke="#333" stroke-width="0.8"/>
<text transform="translate(1338 288.6)" font-family='"DejaVu Sans","Liberation Sans",sans-serif' font-size="7.7" text-anchor="middle">70</text>
<line x1="1352.78" y1="278.6" x2="1352.78" y2="281.6" stroke="#333" stroke-width="0.8"/>
<text transform="translate(1352.78 288.6)" font-family='"DejaVu Sans","Liberation Sans",sans-serif' font-size="7.7" text-anchor="middle">75</text>
<line x1="1367.56" y1="278.6" x2="1367.56" y2="281.6" stroke="#333" stroke-width="0.8"/>
<text transform="translate(1367.56 288.6)" font-family='"DejaVu Sans","Liberation Sans",sans-serif' font-size="7.7" text-anchor="middle">80</text>
<line x1="1382.34" y1="278.6" x2="1382.34" y2="281.6" stroke="#333" stroke-width="0.8"/>
<text transform="translate(1382.34 288.6)" font-family='"DejaVu Sans","Liberation Sans",sans-serif' font-size="7.7" text-anchor="middle">85</text>
<line x1="1397.12" y1="278.6" x2="1397.12" y2="281.6" stroke="#333" stroke-width="0.8"/>
<text transform="translate(1397.12 288.6)" font-family='"DejaVu Sans","Liberation Sans",sans-serif' font-size="7.7" text-anchor="middle">90</text>
<line x1="1411.9" y1="278.6" x2="1411.9" y2="281.6" stroke="#333" stroke-width="0.8"/>
<text transform="translate(1411.9 288.6)" font-family='"DejaVu Sans","Liberation Sans",sans-serif' font-size="7.7" text-anchor="middle">97</text>
<line x1="1426.68" y1="278.6" x2="1426.68" y2="281.6" stroke="#333" stroke-width="0.8"/>
<text transform="translate(1426.68 288.6)" font-family='"DejaVu Sans","Liberation Sans",sans-serif' font-size="7.7" text-anchor="middle">103</text>
<line x1="1441.46" y1="278.6" x2="1441.46" y2="281.6" stroke="#333" stroke-width="0.8"/>
<text transform="translate(1441.46 288.6)" font-family='"DejaVu Sans","Liberation Sans",sans-serif' font-size="7.7" text-anchor="middle">112</text>
<line x1="1456.24" y1="278.6" x2="1456.24" y2="281.6" stroke="#333" stroke-width="0.8"/>
<text transform="translate(1456.24 288.6)" font-family='"DejaVu Sans","Liberation Sans",sans-serif' font-size="7.7" text-anchor="middle">120</text>
<line x1="1471.02" y1="278.6" x2="1471.02" y2="281.6" stroke="#333" stroke-width="0.8"/>
<text transform="translate(1471.02 288.6)" font-family='"DejaVu Sans","Liberation Sans",sans-serif' font-size="7.7" text-anchor="middle">141</text>
<line x1="1485.8" y1="278.6" x2="1485.8" y2="281.6" stroke="#333" stroke-width="0.8"/>
<text transform="translate(1485.8 288.6)" font-family='"DejaVu Sans","Liberation Sans",sans-serif' font-size="7.7" text-anchor="middle">160</text>
<line x1="1500.58" y1="278.6" x2="1500.58" y2="281.6" stroke="#333" stroke-width="0.8"/>
<text transform="translate(1500.58 288.6)" font-family='"DejaVu Sans","Liberation Sans",sans-serif' font-size="7.7" text-anchor="middle">200</text>
<line x1="1515.36" y1="278.6" x2="1515.36" y2="281.6" stroke="#333" stroke-width="0.8"/>
<text transform="translate(1515.36 288.6)" font-family='"DejaVu Sans","Liberation Sans",sans-serif' font-size="7.7" text-anchor="middle">269</text>
<text transform="translate(1329.5 43.7)" font-family='"DejaVu Sans","Liberation Sans",sans-serif' font-size="15.96" text-anchor="middle">Violin Plot of Length of Stay vs. Total Charges</text>
<text transform="translate(1329.5 302.6)" font-family='"DejaVu Sans","Liberation Sans",sans-serif' font-size="13.87" text-anchor="middle">Length of Stay (days)</text>
<text transform="translate(1047.6 164) rotate(-90)" font-family='"DejaVu Sans","Liberation Sans",sans-serif' font-size="13.6" text-anchor="middle">Total Charges (USD)</text>
<text transform="translate(1041.7 25.9)" font-family='"Liberation Serif",serif' font-size="30">C</text>
<rect x="109.2" y="400.5" width="538.6" height="326.7" fill="#fff"/>
<line x1="109.2" y1="406" x2="647.8" y2="406" stroke="#b8b8b8" stroke-width="0.9" stroke-dasharray="1 1"/>
<line x1="109.2" y1="451.2" x2="647.8" y2="451.2" stroke="#b8b8b8" stroke-width="0.9" stroke-dasharray="1 1"/>
<line x1="109.2" y1="496.4" x2="647.8" y2="496.4" stroke="#b8b8b8" stroke-width="0.9" stroke-dasharray="1 1"/>
<line x1="109.2" y1="541.6" x2="647.8" y2="541.6" stroke="#b8b8b8" stroke-width="0.9" stroke-dasharray="1 1"/>
<line x1="109.2" y1="586.8" x2="647.8" y2="586.8" stroke="#b8b8b8" stroke-width="0.9" stroke-dasharray="1 1"/>
<line x1="109.2" y1="632" x2="647.8" y2="632" stroke="#b8b8b8" stroke-width="0.9" stroke-dasharray="1 1"/>
<line x1="109.2" y1="677.2" x2="647.8" y2="677.2" stroke="#b8b8b8" stroke-width="0.9" stroke-dasharray="1 1"/>
<line x1="109.2" y1="722.4" x2="647.8" y2="722.4" stroke="#b8b8b8" stroke-width="0.9" stroke-dasharray="1 1"/>
<line x1="171.93" y1="400.5" x2="171.93" y2="727.2" stroke="#b8b8b8" stroke-width="0.9" stroke-dasharray="1 1"/>
<line x1="236.3" y1="400.5" x2="236.3" y2="727.2" stroke="#b8b8b8" stroke-width="0.9" stroke-dasharray="1 1"/>
<line x1="300.68" y1="400.5" x2="300.68" y2="727.2" stroke="#b8b8b8" stroke-width="0.9" stroke-dasharray="1 1"/>
<line x1="365.05" y1="400.5" x2="365.05" y2="727.2" stroke="#b8b8b8" stroke-width="0.9" stroke-dasharray="1 1"/>
<line x1="429.43" y1="400.5" x2="429.43" y2="727.2" stroke="#b8b8b8" stroke-width="0.9" stroke-dasharray="1 1"/>
<line x1="493.8" y1="400.5" x2="493.8" y2="727.2" stroke="#b8b8b8" stroke-width="0.9" stroke-dasharray="1 1"/>
<line x1="558.17" y1="400.5" x2="558.17" y2="727.2" stroke="#b8b8b8" stroke-width="0.9" stroke-dasharray="1 1"/>
<line x1="622.55" y1="400.5" x2="622.55" y2="727.2" stroke="#b8b8b8" stroke-width="0.9" stroke-dasharray="1 1"/>
<polyline points="133.3,712.6 159.1,491.5 184.8,447.0 210.6,420.4 236.3,422.2 262.1,415.7 287.8,424.8 313.6,426.4 339.3,430.8 365.1,427.5 390.8,427.5 416.6,430.6 442.3,431.0 468.1,432.8 493.8,432.8 519.5,434.1 545.3,435.0 571.0,434.6 596.8,434.6 622.5,434.6" fill="none" stroke="#f57c0c" stroke-width="2.5" stroke-linejoin="round"/>
<circle cx="133.3" cy="712.6" r="2.9" fill="#f57c0c"/>
<circle cx="159.1" cy="491.5" r="2.9" fill="#f57c0c"/>
<circle cx="184.8" cy="447.0" r="2.9" fill="#f57c0c"/>
<circle cx="210.6" cy="420.4" r="2.9" fill="#f57c0c"/>
<circle cx="236.3" cy="422.2" r="2.9" fill="#f57c0c"/>
<circle cx="262.1" cy="415.7" r="2.9" fill="#f57c0c"/>
<circle cx="287.8" cy="424.8" r="2.9" fill="#f57c0c"/>
<circle cx="313.6" cy="426.4" r="2.9" fill="#f57c0c"/>
<circle cx="339.3" cy="430.8" r="2.9" fill="#f57c0c"/>
<circle cx="365.1" cy="427.5" r="2.9" fill="#f57c0c"/>
<circle cx="390.8" cy="427.5" r="2.9" fill="#f57c0c"/>
<circle cx="416.6" cy="430.6" r="2.9" fill="#f57c0c"/>
<circle cx="442.3" cy="431.0" r="2.9" fill="#f57c0c"/>
<circle cx="468.1" cy="432.8" r="2.9" fill="#f57c0c"/>
<circle cx="493.8" cy="432.8" r="2.9" fill="#f57c0c"/>
<circle cx="519.5" cy="434.1" r="2.9" fill="#f57c0c"/>
<circle cx="545.3" cy="435.0" r="2.9" fill="#f57c0c"/>
<circle cx="571.0" cy="434.6" r="2.9" fill="#f57c0c"/>
<circle cx="596.8" cy="434.6" r="2.9" fill="#f57c0c"/>
<circle cx="622.5" cy="434.6" r="2.9" fill="#f57c0c"/>
<rect x="109.2" y="400.5" width="538.6" height="326.7" fill="none" stroke="#4d4d4d" stroke-width="1.1"/>
<line x1="105.7" y1="406" x2="109.2" y2="406" stroke="#333" stroke-width="0.9"/>
<text transform="translate(103 413.2)" font-family='"DejaVu Sans","Liberation Sans",sans-serif' font-size="19.3" text-anchor="end">−4.75</text>
<line x1="105.7" y1="451.2" x2="109.2" y2="451.2" stroke="#333" stroke-width="0.9"/>
<text transform="translate(103 458.4)" font-family='"DejaVu Sans","Liberation Sans",sans-serif' font-size="19.3" text-anchor="end">−5.00</text>
<line x1="105.7" y1="496.4" x2="109.2" y2="496.4" stroke="#333" stroke-width="0.9"/>
<text transform="translate(103 503.6)" font-family='"DejaVu Sans","Liberation Sans",sans-serif' font-size="19.3" text-anchor="end">−5.25</text>
<line x1="105.7" y1="541.6" x2="109.2" y2="541.6" stroke="#333" stroke-width="0.9"/>
<text transform="translate(103 548.8)" font-family='"DejaVu Sans","Liberation Sans",sans-serif' font-size="19.3" text-anchor="end">−5.50</text>
<line x1="105.7" y1="586.8" x2="109.2" y2="586.8" stroke="#333" stroke-width="0.9"/>
<text transform="translate(103 594)" font-family='"DejaVu Sans","Liberation Sans",sans-serif' font-size="19.3" text-anchor="end">−5.75</text>
<line x1="105.7" y1="632" x2="109.2" y2="632" stroke="#333" stroke-width="0.9"/>
<text transform="translate(103 639.2)" font-family='"DejaVu Sans","Liberation Sans",sans-serif' font-size="19.3" text-anchor="end">−6.00</text>
<line x1="105.7" y1="677.2" x2="109.2" y2="677.2" stroke="#333" stroke-width="0.9"/>
<text transform="translate(103 684.4)" font-family='"DejaVu Sans","Liberation Sans",sans-serif' font-size="19.3" text-anchor="end">−6.25</text>
<line x1="105.7" y1="722.4" x2="109.2" y2="722.4" stroke="#333" stroke-width="0.9"/>
<text transform="translate(103 729.6)" font-family='"DejaVu Sans","Liberation Sans",sans-serif' font-size="19.3" text-anchor="end">−6.50</text>
<line x1="171.93" y1="727.2" x2="171.93" y2="730.7" stroke="#333" stroke-width="0.9"/>
<text transform="translate(171.93 747.6)" font-family='"DejaVu Sans","Liberation Sans",sans-serif' font-size="19.3" text-anchor="middle">2.5</text>
<line x1="236.3" y1="727.2" x2="236.3" y2="730.7" stroke="#333" stroke-width="0.9"/>
<text transform="translate(236.3 747.6)" font-family='"DejaVu Sans","Liberation Sans",sans-serif' font-size="19.3" text-anchor="middle">5.0</text>
<line x1="300.68" y1="727.2" x2="300.68" y2="730.7" stroke="#333" stroke-width="0.9"/>
<text transform="translate(300.68 747.6)" font-family='"DejaVu Sans","Liberation Sans",sans-serif' font-size="19.3" text-anchor="middle">7.5</text>
<line x1="365.05" y1="727.2" x2="365.05" y2="730.7" stroke="#333" stroke-width="0.9"/>
<text transform="translate(365.05 747.6)" font-family='"DejaVu Sans","Liberation Sans",sans-serif' font-size="19.3" text-anchor="middle">10.0</text>
<line x1="429.43" y1="727.2" x2="429.43" y2="730.7" stroke="#333" stroke-width="0.9"/>
<text transform="translate(429.43 747.6)" font-family='"DejaVu Sans","Liberation Sans",sans-serif' font-size="19.3" text-anchor="middle">12.5</text>
<line x1="493.8" y1="727.2" x2="493.8" y2="730.7" stroke="#333" stroke-width="0.9"/>
<text transform="translate(493.8 747.6)" font-family='"DejaVu Sans","Liberation Sans",sans-serif' font-size="19.3" text-anchor="middle">15.0</text>
<line x1="558.17" y1="727.2" x2="558.17" y2="730.7" stroke="#333" stroke-width="0.9"/>
<text transform="translate(558.17 747.6)" font-family='"DejaVu Sans","Liberation Sans",sans-serif' font-size="19.3" text-anchor="middle">17.5</text>
<line x1="622.55" y1="727.2" x2="622.55" y2="730.7" stroke="#333" stroke-width="0.9"/>
<text transform="translate(622.55 747.6)" font-family='"DejaVu Sans","Liberation Sans",sans-serif' font-size="19.3" text-anchor="middle">20.0</text>
<text transform="translate(108.8 398.2)" font-family='"DejaVu Sans","Liberation Sans",sans-serif' font-size="19.3">1e10</text>
<text transform="translate(44.3 379.3)" font-family='"DejaVu Sans","Liberation Sans",sans-serif' font-size="22.26">Max Depth vs Cross-Validated Negative Mean Squared</text>
<text transform="translate(378 770)" font-family='"DejaVu Sans","Liberation Sans",sans-serif' font-size="20.4" text-anchor="middle">Max Depth</text>
<text transform="translate(36.5 563) rotate(-90)" font-family='"DejaVu Sans","Liberation Sans",sans-serif' font-size="20.77" text-anchor="middle">Negative Mean Squared Error</text>
<text transform="translate(13.3 368.1)" font-family='"Liberation Serif",serif' font-size="28.5">D</text>
<rect x="66.2" y="835.3" width="474.3" height="357" fill="#218d8c" shape-rendering="crispEdges"/>
<rect x="118.9" y="835.3" width="421.6" height="357" fill="#20958a" shape-rendering="crispEdges"/>
<rect x="171.6" y="835.3" width="368.9" height="357" fill="#440154" shape-rendering="crispEdges"/>
<rect x="224.3" y="835.3" width="316.2" height="357" fill="#218d8c" shape-rendering="crispEdges"/>
<rect x="277" y="835.3" width="263.5" height="357" fill="#20958a" shape-rendering="crispEdges"/>
<rect x="329.7" y="835.3" width="210.8" height="357" fill="#440154" shape-rendering="crispEdges"/>
<rect x="382.4" y="835.3" width="158.1" height="357" fill="#218d8c" shape-rendering="crispEdges"/>
<rect x="435.1" y="835.3" width="105.4" height="357" fill="#20958a" shape-rendering="crispEdges"/>
<rect x="487.8" y="835.3" width="52.7" height="357" fill="#440154" shape-rendering="crispEdges"/>
<rect x="66.2" y="906.7" width="474.3" height="285.6" fill="#22a485" shape-rendering="crispEdges"/>
<rect x="118.9" y="906.7" width="421.6" height="285.6" fill="#22a684" shape-rendering="crispEdges"/>
<rect x="171.6" y="906.7" width="368.9" height="285.6" fill="#3e4688" shape-rendering="crispEdges"/>
<rect x="224.3" y="906.7" width="316.2" height="285.6" fill="#45be6f" shape-rendering="crispEdges"/>
<rect x="277" y="906.7" width="263.5" height="285.6" fill="#22a684" shape-rendering="crispEdges"/>
<rect x="329.7" y="906.7" width="210.8" height="285.6" fill="#3e4688" shape-rendering="crispEdges"/>
<rect x="382.4" y="906.7" width="158.1" height="285.6" fill="#22a684" shape-rendering="crispEdges"/>
<rect x="435.1" y="906.7" width="105.4" height="285.6" fill="#21a186" shape-rendering="crispEdges"/>
<rect x="487.8" y="906.7" width="52.7" height="285.6" fill="#471e6f" shape-rendering="crispEdges"/>
<rect x="66.2" y="978.1" width="474.3" height="214.2" fill="#414085" shape-rendering="crispEdges"/>
<rect x="118.9" y="978.1" width="421.6" height="214.2" fill="#2bad7e" shape-rendering="crispEdges"/>
<rect x="171.6" y="978.1" width="368.9" height="214.2" fill="#365b8c" shape-rendering="crispEdges"/>
<rect x="224.3" y="978.1" width="316.2" height="214.2" fill="#24868d" shape-rendering="crispEdges"/>
<rect x="277" y="978.1" width="263.5" height="214.2" fill="#219789" shape-rendering="crispEdges"/>
<rect x="329.7" y="978.1" width="210.8" height="214.2" fill="#365b8c" shape-rendering="crispEdges"/>
<rect x="382.4" y="978.1" width="158.1" height="214.2" fill="#219789" shape-rendering="crispEdges"/>
<rect x="435.1" y="978.1" width="105.4" height="214.2" fill="#20928b" shape-rendering="crispEdges"/>
<rect x="487.8" y="978.1" width="52.7" height="214.2" fill="#43367f" shape-rendering="crispEdges"/>
<rect x="66.2" y="1049.5" width="474.3" height="142.8" fill="#61c95f" shape-rendering="crispEdges"/>
<rect x="118.9" y="1049.5" width="421.6" height="142.8" fill="#fde724" shape-rendering="crispEdges"/>
<rect x="171.6" y="1049.5" width="368.9" height="142.8" fill="#29798e" shape-rendering="crispEdges"/>
<rect x="224.3" y="1049.5" width="316.2" height="142.8" fill="#94d640" shape-rendering="crispEdges"/>
<rect x="277" y="1049.5" width="263.5" height="142.8" fill="#c0de26" shape-rendering="crispEdges"/>
<rect x="329.7" y="1049.5" width="210.8" height="142.8" fill="#29798e" shape-rendering="crispEdges"/>
<rect x="382.4" y="1049.5" width="158.1" height="142.8" fill="#5cc662" shape-rendering="crispEdges"/>
<rect x="435.1" y="1049.5" width="105.4" height="142.8" fill="#4bc06c" shape-rendering="crispEdges"/>
<rect x="487.8" y="1049.5" width="52.7" height="142.8" fill="#365b8c" shape-rendering="crispEdges"/>
<rect x="66.2" y="1120.9" width="474.3" height="71.4" fill="#8dd544" shape-rendering="crispEdges"/>
<rect x="118.9" y="1120.9" width="421.6" height="71.4" fill="#78d152" shape-rendering="crispEdges"/>
<rect x="171.6" y="1120.9" width="368.9" height="71.4" fill="#452f7b" shape-rendering="crispEdges"/>
<rect x="224.3" y="1120.9" width="316.2" height="71.4" fill="#219f87" shape-rendering="crispEdges"/>
<rect x="277" y="1120.9" width="263.5" height="71.4" fill="#24a883" shape-rendering="crispEdges"/>
<rect x="329.7" y="1120.9" width="210.8" height="71.4" fill="#452f7b" shape-rendering="crispEdges"/>
<rect x="382.4" y="1120.9" width="158.1" height="71.4" fill="#26818d" shape-rendering="crispEdges"/>
<rect x="435.1" y="1120.9" width="105.4" height="71.4" fill="#2a768e" shape-rendering="crispEdges"/>
<rect x="487.8" y="1120.9" width="52.7" height="71.4" fill="#45085b" shape-rendering="crispEdges"/>
<text transform="translate(92.55 874.1)" font-family='"DejaVu Sans","Liberation Sans",sans-serif' font-size="8.6" text-anchor="middle" fill="#fff">4.829e+10</text>
<text transform="translate(145.25 874.1)" font-family='"DejaVu Sans","Liberation Sans",sans-serif' font-size="8.6" text-anchor="middle" fill="#fff">4.832e+10</text>
<text transform="translate(197.95 874.1)" font-family='"DejaVu Sans","Liberation Sans",sans-serif' font-size="8.6" text-anchor="middle" fill="#fff">4.783e+10</text>
<text transform="translate(250.65 874.1)" font-family='"DejaVu Sans","Liberation Sans",sans-serif' font-size="8.6" text-anchor="middle" fill="#fff">4.829e+10</text>
<text transform="translate(303.35 874.1)" font-family='"DejaVu Sans","Liberation Sans",sans-serif' font-size="8.6" text-anchor="middle" fill="#fff">4.832e+10</text>
<text transform="translate(356.05 874.1)" font-family='"DejaVu Sans","Liberation Sans",sans-serif' font-size="8.6" text-anchor="middle" fill="#fff">4.783e+10</text>
<text transform="translate(408.75 874.1)" font-family='"DejaVu Sans","Liberation Sans",sans-serif' font-size="8.6" text-anchor="middle" fill="#fff">4.829e+10</text>
<text transform="translate(461.45 874.1)" font-family='"DejaVu Sans","Liberation Sans",sans-serif' font-size="8.6" text-anchor="middle" fill="#fff">4.832e+10</text>
<text transform="translate(514.15 874.1)" font-family='"DejaVu Sans","Liberation Sans",sans-serif' font-size="8.6" text-anchor="middle" fill="#fff">4.783e+10</text>
<text transform="translate(92.55 945.5)" font-family='"DejaVu Sans","Liberation Sans",sans-serif' font-size="8.6" text-anchor="middle" fill="#fff">4.838e+10</text>
<text transform="translate(145.25 945.5)" font-family='"DejaVu Sans","Liberation Sans",sans-serif' font-size="8.6" text-anchor="middle" fill="#fff">4.839e+10</text>
<text transform="translate(197.95 945.5)" font-family='"DejaVu Sans","Liberation Sans",sans-serif' font-size="8.6" text-anchor="middle" fill="#fff">4.803e+10</text>
<text transform="translate(250.65 945.5)" font-family='"DejaVu Sans","Liberation Sans",sans-serif' font-size="8.6" text-anchor="middle" fill="#fff">4.849e+10</text>
<text transform="translate(303.35 945.5)" font-family='"DejaVu Sans","Liberation Sans",sans-serif' font-size="8.6" text-anchor="middle" fill="#fff">4.839e+10</text>
<text transform="translate(356.05 945.5)" font-family='"DejaVu Sans","Liberation Sans",sans-serif' font-size="8.6" text-anchor="middle" fill="#fff">4.803e+10</text>
<text transform="translate(408.75 945.5)" font-family='"DejaVu Sans","Liberation Sans",sans-serif' font-size="8.6" text-anchor="middle" fill="#fff">4.839e+10</text>
<text transform="translate(461.45 945.5)" font-family='"DejaVu Sans","Liberation Sans",sans-serif' font-size="8.6" text-anchor="middle" fill="#fff">4.837e+10</text>
<text transform="translate(514.15 945.5)" font-family='"DejaVu Sans","Liberation Sans",sans-serif' font-size="8.6" text-anchor="middle" fill="#fff">4.791e+10</text>
<text transform="translate(92.55 1016.9)" font-family='"DejaVu Sans","Liberation Sans",sans-serif' font-size="8.6" text-anchor="middle" fill="#fff">4.801e+10</text>
<text transform="translate(145.25 1016.9)" font-family='"DejaVu Sans","Liberation Sans",sans-serif' font-size="8.6" text-anchor="middle" fill="#fff">4.842e+10</text>
<text transform="translate(197.95 1016.9)" font-family='"DejaVu Sans","Liberation Sans",sans-serif' font-size="8.6" text-anchor="middle" fill="#fff">4.810e+10</text>
<text transform="translate(250.65 1016.9)" font-family='"DejaVu Sans","Liberation Sans",sans-serif' font-size="8.6" text-anchor="middle" fill="#fff">4.826e+10</text>
<text transform="translate(303.35 1016.9)" font-family='"DejaVu Sans","Liberation Sans",sans-serif' font-size="8.6" text-anchor="middle" fill="#fff">4.833e+10</text>
<text transform="translate(356.05 1016.9)" font-family='"DejaVu Sans","Liberation Sans",sans-serif' font-size="8.6" text-anchor="middle" fill="#fff">4.810e+10</text>
<text transform="translate(408.75 1016.9)" font-family='"DejaVu Sans","Liberation Sans",sans-serif' font-size="8.6" text-anchor="middle" fill="#fff">4.833e+10</text>
<text transform="translate(461.45 1016.9)" font-family='"DejaVu Sans","Liberation Sans",sans-serif' font-size="8.6" text-anchor="middle" fill="#fff">4.831e+10</text>
<text transform="translate(514.15 1016.9)" font-family='"DejaVu Sans","Liberation Sans",sans-serif' font-size="8.6" text-anchor="middle" fill="#fff">4.798e+10</text>
<text transform="translate(92.55 1088.3)" font-family='"DejaVu Sans","Liberation Sans",sans-serif' font-size="8.6" text-anchor="middle" fill="#262626">4.854e+10</text>
<text transform="translate(145.25 1088.3)" font-family='"DejaVu Sans","Liberation Sans",sans-serif' font-size="8.6" text-anchor="middle" fill="#262626">4.877e+10</text>
<text transform="translate(197.95 1088.3)" font-family='"DejaVu Sans","Liberation Sans",sans-serif' font-size="8.6" text-anchor="middle" fill="#fff">4.821e+10</text>
<text transform="translate(250.65 1088.3)" font-family='"DejaVu Sans","Liberation Sans",sans-serif' font-size="8.6" text-anchor="middle" fill="#262626">4.862e+10</text>
<text transform="translate(303.35 1088.3)" font-family='"DejaVu Sans","Liberation Sans",sans-serif' font-size="8.6" text-anchor="middle" fill="#262626">4.868e+10</text>
<text transform="translate(356.05 1088.3)" font-family='"DejaVu Sans","Liberation Sans",sans-serif' font-size="8.6" text-anchor="middle" fill="#fff">4.821e+10</text>
<text transform="translate(408.75 1088.3)" font-family='"DejaVu Sans","Liberation Sans",sans-serif' font-size="8.6" text-anchor="middle" fill="#262626">4.853e+10</text>
<text transform="translate(461.45 1088.3)" font-family='"DejaVu Sans","Liberation Sans",sans-serif' font-size="8.6" text-anchor="middle" fill="#262626">4.850e+10</text>
<text transform="translate(514.15 1088.3)" font-family='"DejaVu Sans","Liberation Sans",sans-serif' font-size="8.6" text-anchor="middle" fill="#fff">4.810e+10</text>
<text transform="translate(92.55 1159.7)" font-family='"DejaVu Sans","Liberation Sans",sans-serif' font-size="8.6" text-anchor="middle" fill="#262626">4.861e+10</text>
<text transform="translate(145.25 1159.7)" font-family='"DejaVu Sans","Liberation Sans",sans-serif' font-size="8.6" text-anchor="middle" fill="#262626">4.858e+10</text>
<text transform="translate(197.95 1159.7)" font-family='"DejaVu Sans","Liberation Sans",sans-serif' font-size="8.6" text-anchor="middle" fill="#fff">4.796e+10</text>
<text transform="translate(250.65 1159.7)" font-family='"DejaVu Sans","Liberation Sans",sans-serif' font-size="8.6" text-anchor="middle" fill="#fff">4.836e+10</text>
<text transform="translate(303.35 1159.7)" font-family='"DejaVu Sans","Liberation Sans",sans-serif' font-size="8.6" text-anchor="middle" fill="#fff">4.840e+10</text>
<text transform="translate(356.05 1159.7)" font-family='"DejaVu Sans","Liberation Sans",sans-serif' font-size="8.6" text-anchor="middle" fill="#fff">4.796e+10</text>
<text transform="translate(408.75 1159.7)" font-family='"DejaVu Sans","Liberation Sans",sans-serif' font-size="8.6" text-anchor="middle" fill="#fff">4.824e+10</text>
<text transform="translate(461.45 1159.7)" font-family='"DejaVu Sans","Liberation Sans",sans-serif' font-size="8.6" text-anchor="middle" fill="#fff">4.820e+10</text>
<text transform="translate(514.15 1159.7)" font-family='"DejaVu Sans","Liberation Sans",sans-serif' font-size="8.6" text-anchor="middle" fill="#fff">4.785e+10</text>
<line x1="63.6" y1="871" x2="66.2" y2="871" stroke="#333" stroke-width="0.8"/>
<text transform="translate(58.8 871) rotate(-90)" font-family='"DejaVu Sans","Liberation Sans",sans-serif' font-size="16.5" text-anchor="middle">4</text>
<line x1="63.6" y1="942.4" x2="66.2" y2="942.4" stroke="#333" stroke-width="0.8"/>
<text transform="translate(58.8 942.4) rotate(-90)" font-family='"DejaVu Sans","Liberation Sans",sans-serif' font-size="16.5" text-anchor="middle">5</text>
<line x1="63.6" y1="1013.8" x2="66.2" y2="1013.8" stroke="#333" stroke-width="0.8"/>
<text transform="translate(58.8 1013.8) rotate(-90)" font-family='"DejaVu Sans","Liberation Sans",sans-serif' font-size="16.5" text-anchor="middle">6</text>
<line x1="63.6" y1="1085.2" x2="66.2" y2="1085.2" stroke="#333" stroke-width="0.8"/>
<text transform="translate(58.8 1085.2) rotate(-90)" font-family='"DejaVu Sans","Liberation Sans",sans-serif' font-size="16.5" text-anchor="middle">7</text>
<line x1="63.6" y1="1156.6" x2="66.2" y2="1156.6" stroke="#333" stroke-width="0.8"/>
<text transform="translate(58.8 1156.6) rotate(-90)" font-family='"DejaVu Sans","Liberation Sans",sans-serif' font-size="16.5" text-anchor="middle">8</text>
<line x1="92.55" y1="1192.3" x2="92.55" y2="1195.8" stroke="#333" stroke-width="0.9"/>
<text transform="translate(92.55 1211)" font-family='"DejaVu Sans","Liberation Sans",sans-serif' font-size="16.6" text-anchor="middle">2-1</text>
<line x1="145.25" y1="1192.3" x2="145.25" y2="1195.8" stroke="#333" stroke-width="0.9"/>
<text transform="translate(145.25 1211)" font-family='"DejaVu Sans","Liberation Sans",sans-serif' font-size="16.6" text-anchor="middle">2-2</text>
<line x1="197.95" y1="1192.3" x2="197.95" y2="1195.8" stroke="#333" stroke-width="0.9"/>
<text transform="translate(197.95 1211)" font-family='"DejaVu Sans","Liberation Sans",sans-serif' font-size="16.6" text-anchor="middle">2-4</text>
<line x1="250.65" y1="1192.3" x2="250.65" y2="1195.8" stroke="#333" stroke-width="0.9"/>
<text transform="translate(250.65 1211)" font-family='"DejaVu Sans","Liberation Sans",sans-serif' font-size="16.6" text-anchor="middle">5-1</text>
<line x1="303.35" y1="1192.3" x2="303.35" y2="1195.8" stroke="#333" stroke-width="0.9"/>
<text transform="translate(303.35 1211)" font-family='"DejaVu Sans","Liberation Sans",sans-serif' font-size="16.6" text-anchor="middle">5-2</text>
<line x1="356.05" y1="1192.3" x2="356.05" y2="1195.8" stroke="#333" stroke-width="0.9"/>
<text transform="translate(356.05 1211)" font-family='"DejaVu Sans","Liberation Sans",sans-serif' font-size="16.6" text-anchor="middle">5-4</text>
<line x1="408.75" y1="1192.3" x2="408.75" y2="1195.8" stroke="#333" stroke-width="0.9"/>
<text transform="translate(408.75 1211)" font-family='"DejaVu Sans","Liberation Sans",sans-serif' font-size="16.6" text-anchor="middle">10-1</text>
<line x1="461.45" y1="1192.3" x2="461.45" y2="1195.8" stroke="#333" stroke-width="0.9"/>
<text transform="translate(461.45 1211)" font-family='"DejaVu Sans","Liberation Sans",sans-serif' font-size="16.6" text-anchor="middle">10-2</text>
<line x1="514.15" y1="1192.3" x2="514.15" y2="1195.8" stroke="#333" stroke-width="0.9"/>
<text transform="translate(514.15 1211)" font-family='"DejaVu Sans","Liberation Sans",sans-serif' font-size="16.6" text-anchor="middle">10-4</text>
<text transform="translate(70 830.6)" font-family='"DejaVu Sans","Liberation Sans",sans-serif' font-size="18.18">Grid Search Results (Negative Mean Squared Error)</text>
<text transform="translate(546.5 831.8)" font-family='"DejaVu Sans","Liberation Sans",sans-serif' font-size="16.4">1e10</text>
<text transform="translate(303.5 1231)" font-family='"DejaVu Sans","Liberation Sans",sans-serif' font-size="18.2" text-anchor="middle">Min Samples Split and Min Samples Leaf</text>
<text transform="translate(38 1013) rotate(-90)" font-family='"DejaVu Sans","Liberation Sans",sans-serif' font-size="17.86" text-anchor="middle">Max Depth</text>
<linearGradient id="gv" x1="0" y1="1" x2="0" y2="0"><stop offset="0" stop-color="#440154"/><stop offset="0.1" stop-color="#482374"/><stop offset="0.2" stop-color="#404387"/><stop offset="0.3" stop-color="#345e8d"/><stop offset="0.4" stop-color="#29788e"/><stop offset="0.5" stop-color="#20908c"/><stop offset="0.6" stop-color="#22a784"/><stop offset="0.7" stop-color="#44be70"/><stop offset="0.8" stop-color="#79d151"/><stop offset="0.9" stop-color="#bdde26"/><stop offset="1" stop-color="#fde724"/></linearGradient>
<rect x="570.2" y="835.3" width="18.2" height="357" fill="url(#gv)"/>
<line x1="588.4" y1="1126.7" x2="591.9" y2="1126.7" stroke="#333" stroke-width="0.9"/>
<text transform="translate(593.7 1132.8)" font-family='"DejaVu Sans","Liberation Sans",sans-serif' font-size="16.4">4.80</text>
<line x1="588.4" y1="1050.4" x2="591.9" y2="1050.4" stroke="#333" stroke-width="0.9"/>
<text transform="translate(593.7 1056.5)" font-family='"DejaVu Sans","Liberation Sans",sans-serif' font-size="16.4">4.82</text>
<line x1="588.4" y1="974.1" x2="591.9" y2="974.1" stroke="#333" stroke-width="0.9"/>
<text transform="translate(593.7 980.2)" font-family='"DejaVu Sans","Liberation Sans",sans-serif' font-size="16.4">4.84</text>
<line x1="588.4" y1="897.8" x2="591.9" y2="897.8" stroke="#333" stroke-width="0.9"/>
<text transform="translate(593.7 903.9)" font-family='"DejaVu Sans","Liberation Sans",sans-serif' font-size="16.4">4.86</text>
<text transform="translate(648 1013.7) rotate(-90)" font-family='"DejaVu Sans","Liberation Sans",sans-serif' font-size="18.02" text-anchor="middle">Negative Mean Squared Error</text>
<text transform="translate(13.5 823.3)" font-family='"Liberation Serif",serif' font-size="29">E</text>
<line x1="773.23" y1="783.5" x2="860.55" y2="723.28" stroke="#000" stroke-width="1.15"/>
<polygon points="868.8,717.6 862.5,726.2 858.6,720.4" fill="#000" stroke="#000" stroke-width="0.8"/>
<line x1="779.7" y1="840.1" x2="853.85" y2="884.28" stroke="#000" stroke-width="1.15"/>
<polygon points="862.4,889.4 852.1,887.3 855.6,881.3" fill="#000" stroke="#000" stroke-width="0.8"/>
<line x1="940.14" y1="661.3" x2="1049.08" y2="560.88" stroke="#000" stroke-width="1.15"/>
<polygon points="1056.4,554.1 1051.5,563.5 1046.7,558.3" fill="#000" stroke="#000" stroke-width="0.8"/>
<line x1="980.7" y1="689.51" x2="1005.7" y2="689.53" stroke="#000" stroke-width="1.15"/>
<polygon points="1015.7,689.5 1005.7,693.0 1005.7,686.0" fill="#000" stroke="#000" stroke-width="0.8"/>
<line x1="980.7" y1="917.42" x2="1005.7" y2="917.39" stroke="#000" stroke-width="1.15"/>
<polygon points="1015.7,917.4 1005.7,920.9 1005.7,913.9" fill="#000" stroke="#000" stroke-width="0.8"/>
<line x1="939.96" y1="945.6" x2="1049.33" y2="1046.81" stroke="#000" stroke-width="1.15"/>
<polygon points="1056.7,1053.6 1047.0,1049.4 1051.7,1044.2" fill="#000" stroke="#000" stroke-width="0.8"/>
<line x1="1140.16" y1="498.4" x2="1205.08" y2="464.62" stroke="#000" stroke-width="1.15"/>
<polygon points="1214.0,460.0 1206.7,467.7 1203.5,461.5" fill="#000" stroke="#000" stroke-width="0.8"/>
<line x1="1153.4" y1="526.25" x2="1186.9" y2="526.25" stroke="#000" stroke-width="1.15"/>
<polygon points="1196.9,526.2 1186.9,529.8 1186.9,522.8" fill="#000" stroke="#000" stroke-width="0.8"/>
<line x1="1157.5" y1="675.32" x2="1191.3" y2="668.52" stroke="#000" stroke-width="1.15"/>
<polygon points="1201.1,666.5 1192.0,671.9 1190.6,665.1" fill="#000" stroke="#000" stroke-width="0.8"/>
<line x1="1157.5" y1="704.09" x2="1187.1" y2="710.14" stroke="#000" stroke-width="1.15"/>
<polygon points="1196.9,712.1 1186.4,713.6 1187.8,706.7" fill="#000" stroke="#000" stroke-width="0.8"/>
<line x1="1157.5" y1="902.94" x2="1187.1" y2="896.95" stroke="#000" stroke-width="1.15"/>
<polygon points="1196.9,895.0 1187.8,900.4 1186.4,893.5" fill="#000" stroke="#000" stroke-width="0.8"/>
<line x1="1157.5" y1="931.71" x2="1191.3" y2="938.59" stroke="#000" stroke-width="1.15"/>
<polygon points="1201.1,940.6 1190.6,942.0 1192.0,935.2" fill="#000" stroke="#000" stroke-width="0.8"/>
<line x1="1157.5" y1="1081.3" x2="1186.9" y2="1081.3" stroke="#000" stroke-width="1.15"/>
<polygon points="1196.9,1081.3 1186.9,1084.8 1186.9,1077.8" fill="#000" stroke="#000" stroke-width="0.8"/>
<line x1="1140.24" y1="1109" x2="1205.53" y2="1142.71" stroke="#000" stroke-width="1.15"/>
<polygon points="1214.4,1147.3 1203.9,1145.8 1207.1,1139.6" fill="#000" stroke="#000" stroke-width="0.8"/>
<line x1="1334.6" y1="411.29" x2="1380.85" y2="396.98" stroke="#000" stroke-width="1.15"/>
<polygon points="1390.4,394.0 1381.9,400.3 1379.8,393.6" fill="#000" stroke="#000" stroke-width="0.8"/>
<line x1="1334.6" y1="431.9" x2="1376.2" y2="431.86" stroke="#000" stroke-width="1.15"/>
<polygon points="1386.2,431.9 1376.2,435.4 1376.2,428.4" fill="#000" stroke="#000" stroke-width="0.8"/>
<line x1="1338.8" y1="512" x2="1376.4" y2="504.45" stroke="#000" stroke-width="1.15"/>
<polygon points="1386.2,502.5 1377.1,507.9 1375.7,501.0" fill="#000" stroke="#000" stroke-width="0.8"/>
<line x1="1338.8" y1="533.87" x2="1372.46" y2="537.49" stroke="#000" stroke-width="1.15"/>
<polygon points="1382.4,538.6 1372.1,541.0 1372.8,534.0" fill="#000" stroke="#000" stroke-width="0.8"/>
<line x1="1334.6" y1="635.23" x2="1372.74" y2="625.02" stroke="#000" stroke-width="1.15"/>
<polygon points="1382.4,622.4 1373.6,628.4 1371.8,621.6" fill="#000" stroke="#000" stroke-width="0.8"/>
<line x1="1334.6" y1="655.8" x2="1372.41" y2="657.32" stroke="#000" stroke-width="1.15"/>
<polygon points="1382.4,657.7 1372.3,660.8 1372.5,653.8" fill="#000" stroke="#000" stroke-width="0.8"/>
<line x1="1338.8" y1="723.27" x2="1372.41" y2="721.67" stroke="#000" stroke-width="1.15"/>
<polygon points="1382.4,721.2 1372.6,725.2 1372.2,718.2" fill="#000" stroke="#000" stroke-width="0.8"/>
<line x1="1338.8" y1="745.13" x2="1372.72" y2="753.96" stroke="#000" stroke-width="1.15"/>
<polygon points="1382.4,756.5 1371.8,757.3 1373.6,750.6" fill="#000" stroke="#000" stroke-width="0.8"/>
<line x1="1338.8" y1="862.1" x2="1372.72" y2="853.26" stroke="#000" stroke-width="1.15"/>
<polygon points="1382.4,850.7 1373.6,856.6 1371.8,849.9" fill="#000" stroke="#000" stroke-width="0.8"/>
<line x1="1338.8" y1="883.96" x2="1372.41" y2="885.56" stroke="#000" stroke-width="1.15"/>
<polygon points="1382.4,886.0 1372.2,889.1 1372.6,882.1" fill="#000" stroke="#000" stroke-width="0.8"/>
<line x1="1334.6" y1="951.44" x2="1372.41" y2="949.9" stroke="#000" stroke-width="1.15"/>
<polygon points="1382.4,949.5 1372.6,953.4 1372.3,946.4" fill="#000" stroke="#000" stroke-width="0.8"/>
<line x1="1334.6" y1="972" x2="1372.74" y2="982.2" stroke="#000" stroke-width="1.15"/>
<polygon points="1382.4,984.8 1371.8,985.6 1373.6,978.8" fill="#000" stroke="#000" stroke-width="0.8"/>
<line x1="1338.8" y1="1073.54" x2="1372.46" y2="1069.86" stroke="#000" stroke-width="1.15"/>
<polygon points="1382.4,1068.8 1372.8,1073.3 1372.1,1066.4" fill="#000" stroke="#000" stroke-width="0.8"/>
<line x1="1338.8" y1="1095.4" x2="1372.59" y2="1102.12" stroke="#000" stroke-width="1.15"/>
<polygon points="1382.4,1104.1 1371.9,1105.6 1373.3,1098.7" fill="#000" stroke="#000" stroke-width="0.8"/>
<line x1="1343.3" y1="1175.25" x2="1368.2" y2="1175.28" stroke="#000" stroke-width="1.15"/>
<polygon points="1378.2,1175.3 1368.2,1178.8 1368.2,1171.8" fill="#000" stroke="#000" stroke-width="0.8"/>
<line x1="1343.3" y1="1198.41" x2="1378.85" y2="1209.44" stroke="#000" stroke-width="1.15"/>
<polygon points="1388.4,1212.4 1377.8,1212.8 1379.9,1206.1" fill="#000" stroke="#000" stroke-width="0.8"/>
<rect x="661.1" y="783.5" width="142.2" height="56.6" rx="11" ry="11" fill="#fcf1e9" stroke="#222" stroke-width="1.15"/>
<text transform="translate(732.2 800.1)" font-family='"Liberation Sans",sans-serif' font-size="14.14" text-anchor="middle" fill="#111">LOS ≤ 17.5</text>
<text transform="translate(732.2 816.1)" font-family='"Liberation Sans",sans-serif' font-size="14.14" text-anchor="middle" fill="#111">samples = 15054</text>
<text transform="translate(732.2 832)" font-family='"Liberation Sans",sans-serif' font-size="14.14" text-anchor="middle" fill="#111">value = 269165.823</text>
<rect x="838.5" y="661.3" width="142.2" height="56.3" rx="11" ry="11" fill="#fdf7f3" stroke="#222" stroke-width="1.15"/>
<text transform="translate(909.6 677.9)" font-family='"Liberation Sans",sans-serif' font-size="14.14" text-anchor="middle" fill="#111">LOS ≤ 6.5</text>
<text transform="translate(909.6 693.9)" font-family='"Liberation Sans",sans-serif' font-size="14.14" text-anchor="middle" fill="#111">samples = 11481</text>
<text transform="translate(909.6 709.8)" font-family='"Liberation Sans",sans-serif' font-size="14.14" text-anchor="middle" fill="#111">value = 167216.876</text>
<rect x="838.5" y="889.4" width="142.2" height="56.2" rx="11" ry="11" fill="#f8ddca" stroke="#222" stroke-width="1.15"/>
<text transform="translate(909.6 906)" font-family='"Liberation Sans",sans-serif' font-size="14.14" text-anchor="middle" fill="#111">LOS ≤ 32.5</text>
<text transform="translate(909.6 922)" font-family='"Liberation Sans",sans-serif' font-size="14.14" text-anchor="middle" fill="#111">samples = 3573</text>
<text transform="translate(909.6 937.9)" font-family='"Liberation Sans",sans-serif' font-size="14.14" text-anchor="middle" fill="#111">value = 596754.923</text>
<rect x="1019.9" y="498.4" width="133.5" height="55.7" rx="11" ry="11" fill="#fffdfb" stroke="#222" stroke-width="1.15"/>
<text transform="translate(1086.65 515)" font-family='"Liberation Sans",sans-serif' font-size="14.14" text-anchor="middle" fill="#111">LOS ≤ 2.5</text>
<text transform="translate(1086.65 531)" font-family='"Liberation Sans",sans-serif' font-size="14.14" text-anchor="middle" fill="#111">samples = 6031</text>
<text transform="translate(1086.65 546.9)" font-family='"Liberation Sans",sans-serif' font-size="14.14" text-anchor="middle" fill="#111">value = 79324.625</text>
<rect x="1015.7" y="661.6" width="141.8" height="56.0" rx="11" ry="11" fill="#fcf1ea" stroke="#222" stroke-width="1.15"/>
<text transform="translate(1086.6 678.2)" font-family='"Liberation Sans",sans-serif' font-size="14.14" text-anchor="middle" fill="#111">LOS ≤ 11.5</text>
<text transform="translate(1086.6 694.2)" font-family='"Liberation Sans",sans-serif' font-size="14.14" text-anchor="middle" fill="#111">samples = 5450</text>
<text transform="translate(1086.6 710.1)" font-family='"Liberation Sans",sans-serif' font-size="14.14" text-anchor="middle" fill="#111">value = 264478.925</text>
<rect x="1015.7" y="889.3" width="141.8" height="56.0" rx="11" ry="11" fill="#f9e2d2" stroke="#222" stroke-width="1.15"/>
<text transform="translate(1086.6 905.9)" font-family='"Liberation Sans",sans-serif' font-size="14.14" text-anchor="middle" fill="#111">LOS ≤ 21.5</text>
<text transform="translate(1086.6 921.9)" font-family='"Liberation Sans",sans-serif' font-size="14.14" text-anchor="middle" fill="#111">samples = 2782</text>
<text transform="translate(1086.6 937.8)" font-family='"Liberation Sans",sans-serif' font-size="14.14" text-anchor="middle" fill="#111">value = 511770.699</text>
<rect x="1015.7" y="1053.6" width="141.8" height="55.4" rx="11" ry="11" fill="#f4cbad" stroke="#222" stroke-width="1.15"/>
<text transform="translate(1086.6 1070.2)" font-family='"Liberation Sans",sans-serif' font-size="14.14" text-anchor="middle" fill="#111">LOS ≤ 51.5</text>
<text transform="translate(1086.6 1086.2)" font-family='"Liberation Sans",sans-serif' font-size="14.14" text-anchor="middle" fill="#111">samples = 791</text>
<text transform="translate(1086.6 1102.1)" font-family='"Liberation Sans",sans-serif' font-size="14.14" text-anchor="middle" fill="#111">value = 895650.134</text>
<rect x="1201.1" y="403.9" width="133.5" height="56.1" rx="11" ry="11" fill="#fffffe" stroke="#222" stroke-width="1.15"/>
<text transform="translate(1267.85 420.5)" font-family='"Liberation Sans",sans-serif' font-size="14.14" text-anchor="middle" fill="#111">LOS ≤ 1.5</text>
<text transform="translate(1267.85 436.5)" font-family='"Liberation Sans",sans-serif' font-size="14.14" text-anchor="middle" fill="#111">samples = 3146</text>
<text transform="translate(1267.85 452.4)" font-family='"Liberation Sans",sans-serif' font-size="14.14" text-anchor="middle" fill="#111">value = 50463.073</text>
<rect x="1196.9" y="498.4" width="141.9" height="55.7" rx="11" ry="11" fill="#fefbf8" stroke="#222" stroke-width="1.15"/>
<text transform="translate(1267.85 515)" font-family='"Liberation Sans",sans-serif' font-size="14.14" text-anchor="middle" fill="#111">LOS ≤ 4.5</text>
<text transform="translate(1267.85 531)" font-family='"Liberation Sans",sans-serif' font-size="14.14" text-anchor="middle" fill="#111">samples = 2885</text>
<text transform="translate(1267.85 546.9)" font-family='"Liberation Sans",sans-serif' font-size="14.14" text-anchor="middle" fill="#111">value = 110797.223</text>
<rect x="1201.1" y="625.2" width="133.5" height="55.8" rx="11" ry="11" fill="#fdf5ef" stroke="#222" stroke-width="1.15"/>
<text transform="translate(1267.85 641.8)" font-family='"Liberation Sans",sans-serif' font-size="14.14" text-anchor="middle" fill="#111">LOS ≤ 8.5</text>
<text transform="translate(1267.85 657.8)" font-family='"Liberation Sans",sans-serif' font-size="14.14" text-anchor="middle" fill="#111">samples = 2736</text>
<text transform="translate(1267.85 673.7)" font-family='"Liberation Sans",sans-serif' font-size="14.14" text-anchor="middle" fill="#111">value = 211085.31</text>
<rect x="1196.9" y="698.8" width="141.9" height="55.7" rx="11" ry="11" fill="#fceee5" stroke="#222" stroke-width="1.15"/>
<text transform="translate(1267.85 715.4)" font-family='"Liberation Sans",sans-serif' font-size="14.14" text-anchor="middle" fill="#111">LOS ≤ 14.5</text>
<text transform="translate(1267.85 731.4)" font-family='"Liberation Sans",sans-serif' font-size="14.14" text-anchor="middle" fill="#111">samples = 2714</text>
<text transform="translate(1267.85 747.3)" font-family='"Liberation Sans",sans-serif' font-size="14.14" text-anchor="middle" fill="#111">value = 318305.355</text>
<rect x="1196.9" y="852.7" width="141.9" height="55.8" rx="11" ry="11" fill="#fae6d8" stroke="#222" stroke-width="1.15"/>
<text transform="translate(1267.85 869.3)" font-family='"Liberation Sans",sans-serif' font-size="14.14" text-anchor="middle" fill="#111">LOS ≤ 19.5</text>
<text transform="translate(1267.85 885.3)" font-family='"Liberation Sans",sans-serif' font-size="14.14" text-anchor="middle" fill="#111">samples = 1240</text>
<text transform="translate(1267.85 901.2)" font-family='"Liberation Sans",sans-serif' font-size="14.14" text-anchor="middle" fill="#111">value = 443642.738</text>
<rect x="1201.1" y="926.4" width="133.5" height="55.5" rx="11" ry="11" fill="#f8dfcd" stroke="#222" stroke-width="1.15"/>
<text transform="translate(1267.85 943)" font-family='"Liberation Sans",sans-serif' font-size="14.14" text-anchor="middle" fill="#111">LOS ≤ 27.5</text>
<text transform="translate(1267.85 959)" font-family='"Liberation Sans",sans-serif' font-size="14.14" text-anchor="middle" fill="#111">samples = 1542</text>
<text transform="translate(1267.85 974.9)" font-family='"Liberation Sans",sans-serif' font-size="14.14" text-anchor="middle" fill="#111">value = 566555.83</text>
<rect x="1196.9" y="1053.6" width="141.9" height="55.4" rx="11" ry="11" fill="#f6d1b7" stroke="#222" stroke-width="1.15"/>
<text transform="translate(1267.85 1070.2)" font-family='"Liberation Sans",sans-serif' font-size="14.14" text-anchor="middle" fill="#111">LOS ≤ 39.5</text>
<text transform="translate(1267.85 1086.2)" font-family='"Liberation Sans",sans-serif' font-size="14.14" text-anchor="middle" fill="#111">samples = 583</text>
<text transform="translate(1267.85 1102.1)" font-family='"Liberation Sans",sans-serif' font-size="14.14" text-anchor="middle" fill="#111">value = 794986.954</text>
<rect x="1193.4" y="1147.3" width="149.9" height="55.7" rx="11" ry="11" fill="#f1ba92" stroke="#222" stroke-width="1.15"/>
<text transform="translate(1268.35 1163.9)" font-family='"Liberation Sans",sans-serif' font-size="14.14" text-anchor="middle" fill="#111">LOS ≤ 179.5</text>
<text transform="translate(1268.35 1179.9)" font-family='"Liberation Sans",sans-serif' font-size="14.14" text-anchor="middle" fill="#111">samples = 208</text>
<text transform="translate(1268.35 1195.8)" font-family='"Liberation Sans",sans-serif' font-size="14.14" text-anchor="middle" fill="#111">value = 1177797.413</text>
<rect x="1390.4" y="354.4" width="125.5" height="40.4" rx="11" ry="11" fill="#ffffff" stroke="#222" stroke-width="1.15"/>
<text transform="translate(1453.15 371.8)" font-family='"Liberation Sans",sans-serif' font-size="14.14" text-anchor="middle" fill="#111">samples = 1972</text>
<text transform="translate(1453.15 387.8)" font-family='"Liberation Sans",sans-serif' font-size="14.14" text-anchor="middle" fill="#111">value = 42790.81</text>
<rect x="1386.2" y="411.6" width="134.2" height="40.4" rx="11" ry="11" fill="#fffefd" stroke="#222" stroke-width="1.15"/>
<text transform="translate(1453.3 429)" font-family='"Liberation Sans",sans-serif' font-size="14.14" text-anchor="middle" fill="#111">samples = 1174</text>
<text transform="translate(1453.3 445)" font-family='"Liberation Sans",sans-serif' font-size="14.14" text-anchor="middle" fill="#111">value = 63350.384</text>
<rect x="1386.2" y="468.8" width="134.2" height="40.4" rx="11" ry="11" fill="#fefcfa" stroke="#222" stroke-width="1.15"/>
<text transform="translate(1453.3 486.2)" font-family='"Liberation Sans",sans-serif' font-size="14.14" text-anchor="middle" fill="#111">samples = 1683</text>
<text transform="translate(1453.3 502.2)" font-family='"Liberation Sans",sans-serif' font-size="14.14" text-anchor="middle" fill="#111">value = 92791.955</text>
<rect x="1382.4" y="526.0" width="142.2" height="40.4" rx="11" ry="11" fill="#fef9f6" stroke="#222" stroke-width="1.15"/>
<text transform="translate(1453.5 543.4)" font-family='"Liberation Sans",sans-serif' font-size="14.14" text-anchor="middle" fill="#111">samples = 1202</text>
<text transform="translate(1453.5 559.4)" font-family='"Liberation Sans",sans-serif' font-size="14.14" text-anchor="middle" fill="#111">value = 136007.592</text>
<rect x="1382.4" y="583.2" width="142.2" height="40.4" rx="11" ry="11" fill="#fdf6f1" stroke="#222" stroke-width="1.15"/>
<text transform="translate(1453.5 600.6)" font-family='"Liberation Sans",sans-serif' font-size="14.14" text-anchor="middle" fill="#111">samples = 1142</text>
<text transform="translate(1453.5 616.6)" font-family='"Liberation Sans",sans-serif' font-size="14.14" text-anchor="middle" fill="#111">value = 184689.001</text>
<rect x="1382.4" y="640.4" width="142.2" height="40.4" rx="11" ry="11" fill="#fdf4ed" stroke="#222" stroke-width="1.15"/>
<text transform="translate(1453.5 657.8)" font-family='"Liberation Sans",sans-serif' font-size="14.14" text-anchor="middle" fill="#111">samples = 1594</text>
<text transform="translate(1453.5 673.8)" font-family='"Liberation Sans",sans-serif' font-size="14.14" text-anchor="middle" fill="#111">value = 229996.593</text>
<rect x="1382.4" y="697.6" width="142.2" height="40.4" rx="11" ry="11" fill="#fcf0e7" stroke="#222" stroke-width="1.15"/>
<text transform="translate(1453.5 715)" font-family='"Liberation Sans",sans-serif' font-size="14.14" text-anchor="middle" fill="#111">samples = 1509</text>
<text transform="translate(1453.5 731)" font-family='"Liberation Sans",sans-serif' font-size="14.14" text-anchor="middle" fill="#111">value = 292265.144</text>
<rect x="1382.4" y="754.8" width="142.2" height="40.4" rx="11" ry="11" fill="#fbece1" stroke="#222" stroke-width="1.15"/>
<text transform="translate(1453.5 772.2)" font-family='"Liberation Sans",sans-serif' font-size="14.14" text-anchor="middle" fill="#111">samples = 1205</text>
<text transform="translate(1453.5 788.2)" font-family='"Liberation Sans",sans-serif' font-size="14.14" text-anchor="middle" fill="#111">value = 350915.046</text>
<rect x="1382.4" y="812.0" width="142.2" height="40.4" rx="11" ry="11" fill="#fae8db" stroke="#222" stroke-width="1.15"/>
<text transform="translate(1453.5 829.4)" font-family='"Liberation Sans",sans-serif' font-size="14.14" text-anchor="middle" fill="#111">samples = 663</text>
<text transform="translate(1453.5 845.4)" font-family='"Liberation Sans",sans-serif' font-size="14.14" text-anchor="middle" fill="#111">value = 421462.683</text>
<rect x="1382.4" y="869.2" width="142.2" height="40.4" rx="11" ry="11" fill="#fae5d6" stroke="#222" stroke-width="1.15"/>
<text transform="translate(1453.5 886.6)" font-family='"Liberation Sans",sans-serif' font-size="14.14" text-anchor="middle" fill="#111">samples = 577</text>
<text transform="translate(1453.5 902.6)" font-family='"Liberation Sans",sans-serif' font-size="14.14" text-anchor="middle" fill="#111">value = 469128.659</text>
<rect x="1382.4" y="926.4" width="142.2" height="40.4" rx="11" ry="11" fill="#f9e1cf" stroke="#222" stroke-width="1.15"/>
<text transform="translate(1453.5 943.8)" font-family='"Liberation Sans",sans-serif' font-size="14.14" text-anchor="middle" fill="#111">samples = 1068</text>
<text transform="translate(1453.5 959.8)" font-family='"Liberation Sans",sans-serif' font-size="14.14" text-anchor="middle" fill="#111">value = 537246.749</text>
<rect x="1382.4" y="983.6" width="142.2" height="40.4" rx="11" ry="11" fill="#f8dbc6" stroke="#222" stroke-width="1.15"/>
<text transform="translate(1453.5 1001)" font-family='"Liberation Sans",sans-serif' font-size="14.14" text-anchor="middle" fill="#111">samples = 474</text>
<text transform="translate(1453.5 1017)" font-family='"Liberation Sans",sans-serif' font-size="14.14" text-anchor="middle" fill="#111">value = 632594.013</text>
<rect x="1382.4" y="1040.8" width="142.2" height="40.4" rx="11" ry="11" fill="#f6d3ba" stroke="#222" stroke-width="1.15"/>
<text transform="translate(1453.5 1058.2)" font-family='"Liberation Sans",sans-serif' font-size="14.14" text-anchor="middle" fill="#111">samples = 350</text>
<text transform="translate(1453.5 1074.2)" font-family='"Liberation Sans",sans-serif' font-size="14.14" text-anchor="middle" fill="#111">value = 756698.311</text>
<rect x="1382.4" y="1098.0" width="142.2" height="40.4" rx="11" ry="11" fill="#f5cdb1" stroke="#222" stroke-width="1.15"/>
<text transform="translate(1453.5 1115.4)" font-family='"Liberation Sans",sans-serif' font-size="14.14" text-anchor="middle" fill="#111">samples = 233</text>
<text transform="translate(1453.5 1131.4)" font-family='"Liberation Sans",sans-serif' font-size="14.14" text-anchor="middle" fill="#111">value = 852502.082</text>
<rect x="1378.2" y="1155.2" width="150.9" height="40.4" rx="11" ry="11" fill="#f1bd97" stroke="#222" stroke-width="1.15"/>
<text transform="translate(1453.65 1172.6)" font-family='"Liberation Sans",sans-serif' font-size="14.14" text-anchor="middle" fill="#111">samples = 196</text>
<text transform="translate(1453.65 1188.6)" font-family='"Liberation Sans",sans-serif' font-size="14.14" text-anchor="middle" fill="#111">value = 1121167.097</text>
<rect x="1382.4" y="1212.4" width="142.2" height="40.4" rx="11" ry="11" fill="#e58139" stroke="#222" stroke-width="1.15"/>
<text transform="translate(1453.5 1229.8)" font-family='"Liberation Sans",sans-serif' font-size="14.14" text-anchor="middle" fill="#111">samples = 12</text>
<text transform="translate(1453.5 1245.8)" font-family='"Liberation Sans",sans-serif' font-size="14.14" text-anchor="middle" fill="#111">value = 2102759.25</text>
<text transform="translate(789.3 748.7)" font-family='"Liberation Sans",sans-serif' font-size="15.4" fill="#111">True</text>
<text transform="translate(783.4 877.3)" font-family='"Liberation Sans",sans-serif' font-size="15.4" fill="#111">False</text>
<text transform="translate(944.6 359.3)" font-family='"Liberation Serif",serif' font-size="23.58" fill="#111">Decision Tree for Total Charges</text>
<text transform="translate(696 367.5)" font-family='"Liberation Serif",serif' font-size="29">F</text>
<rect x="136.9" y="1314.2" width="596.5" height="316" fill="#fff"/>
<line x1="136.9" y1="1572.6" x2="733.4" y2="1572.6" stroke="#d9d9d9" stroke-width="0.9" stroke-dasharray="1.8 1.2"/>
<line x1="136.9" y1="1515" x2="733.4" y2="1515" stroke="#d9d9d9" stroke-width="0.9" stroke-dasharray="1.8 1.2"/>
<line x1="136.9" y1="1457.4" x2="733.4" y2="1457.4" stroke="#d9d9d9" stroke-width="0.9" stroke-dasharray="1.8 1.2"/>
<line x1="136.9" y1="1399.8" x2="733.4" y2="1399.8" stroke="#d9d9d9" stroke-width="0.9" stroke-dasharray="1.8 1.2"/>
<line x1="136.9" y1="1342.2" x2="733.4" y2="1342.2" stroke="#d9d9d9" stroke-width="0.9" stroke-dasharray="1.8 1.2"/>
<line x1="180.4" y1="1314.2" x2="180.4" y2="1630.2" stroke="#d9d9d9" stroke-width="0.9" stroke-dasharray="1.8 1.2"/>
<line x1="321.5" y1="1314.2" x2="321.5" y2="1630.2" stroke="#d9d9d9" stroke-width="0.9" stroke-dasharray="1.8 1.2"/>
<line x1="462.6" y1="1314.2" x2="462.6" y2="1630.2" stroke="#d9d9d9" stroke-width="0.9" stroke-dasharray="1.8 1.2"/>
<line x1="603.7" y1="1314.2" x2="603.7" y2="1630.2" stroke="#d9d9d9" stroke-width="0.9" stroke-dasharray="1.8 1.2"/>
<rect x="164.6" y="1629.97" width="16.86" height="0.23" fill="#bfe1f2"/>
<rect x="182.66" y="1629.85" width="16.86" height="0.35" fill="#bfe1f2"/>
<rect x="200.72" y="1629.62" width="16.86" height="0.58" fill="#bfe1f2"/>
<rect x="218.78" y="1629.05" width="16.86" height="1.15" fill="#bfe1f2"/>
<rect x="236.84" y="1627.67" width="16.86" height="2.53" fill="#bfe1f2"/>
<rect x="254.9" y="1624.44" width="16.86" height="5.76" fill="#bfe1f2"/>
<rect x="272.96" y="1602.55" width="16.86" height="27.65" fill="#bfe1f2"/>
<rect x="291.02" y="1537.92" width="16.86" height="92.28" fill="#bfe1f2"/>
<rect x="309.08" y="1337.94" width="16.86" height="292.26" fill="#bfe1f2"/>
<rect x="327.14" y="1545.99" width="16.86" height="84.21" fill="#bfe1f2"/>
<rect x="345.2" y="1601.05" width="16.86" height="29.15" fill="#bfe1f2"/>
<rect x="363.26" y="1615.68" width="16.86" height="14.52" fill="#bfe1f2"/>
<rect x="381.32" y="1623.86" width="16.86" height="6.34" fill="#bfe1f2"/>
<rect x="399.38" y="1625.02" width="16.86" height="5.18" fill="#bfe1f2"/>
<rect x="417.44" y="1626.74" width="16.86" height="3.46" fill="#bfe1f2"/>
<rect x="435.5" y="1628.47" width="16.86" height="1.73" fill="#bfe1f2"/>
<rect x="453.56" y="1629.28" width="16.86" height="0.92" fill="#bfe1f2"/>
<rect x="471.62" y="1629.51" width="16.86" height="0.69" fill="#bfe1f2"/>
<rect x="489.68" y="1629.62" width="16.86" height="0.58" fill="#bfe1f2"/>
<rect x="507.74" y="1629.51" width="16.86" height="0.69" fill="#bfe1f2"/>
<rect x="525.8" y="1629.74" width="16.86" height="0.46" fill="#bfe1f2"/>
<rect x="543.86" y="1629.85" width="16.86" height="0.35" fill="#bfe1f2"/>
<rect x="561.92" y="1629.74" width="16.86" height="0.46" fill="#bfe1f2"/>
<rect x="579.98" y="1629.85" width="16.86" height="0.35" fill="#bfe1f2"/>
<rect x="598.04" y="1629.97" width="16.86" height="0.23" fill="#bfe1f2"/>
<rect x="616.1" y="1629.97" width="16.86" height="0.23" fill="#bfe1f2"/>
<rect x="634.16" y="1629.97" width="16.86" height="0.23" fill="#bfe1f2"/>
<rect x="652.22" y="1629.97" width="16.86" height="0.23" fill="#bfe1f2"/>
<rect x="670.28" y="1630.08" width="16.86" height="0.12" fill="#bfe1f2"/>
<rect x="688.34" y="1629.97" width="16.86" height="0.23" fill="#bfe1f2"/>
<path d="M165.0 1629.8C170.0 1629.8 185.0 1629.6 195.0 1629.5C205.0 1629.4 214.5 1629.6 225.0 1629.0C235.5 1628.4 251.0 1627.4 257.8 1626.0C264.6 1624.6 263.3 1622.6 265.6 1620.5C267.9 1618.5 269.5 1616.6 271.5 1613.7C273.4 1610.8 275.4 1607.4 277.3 1603.0C279.3 1598.6 281.2 1593.2 283.2 1587.3C285.2 1581.5 287.3 1575.0 289.1 1567.8C290.9 1560.7 292.5 1552.2 293.9 1544.4C295.4 1536.6 296.6 1529.1 297.9 1520.9C299.1 1512.8 300.1 1504.7 301.2 1495.5C302.2 1486.4 303.3 1476.0 304.3 1466.2C305.3 1456.5 306.2 1446.7 307.0 1437.0C307.8 1427.2 308.5 1416.4 309.2 1407.7C309.9 1398.9 310.5 1391.7 311.1 1384.2C311.8 1376.7 312.3 1369.2 312.9 1362.7C313.4 1356.2 314.0 1350.0 314.5 1345.2C314.9 1340.3 315.5 1336.1 315.8 1333.4C316.2 1330.8 316.1 1330.0 316.6 1329.3C317.1 1328.7 318.2 1328.7 318.8 1329.3C319.3 1330.0 319.4 1330.8 319.7 1333.4C320.1 1336.1 320.3 1340.3 320.7 1345.2C321.1 1350.0 321.5 1356.2 321.9 1362.7C322.3 1369.2 322.8 1376.7 323.2 1384.2C323.7 1391.7 324.3 1398.9 324.8 1407.7C325.4 1416.4 325.9 1427.2 326.6 1437.0C327.2 1446.7 327.8 1456.5 328.5 1466.2C329.2 1476.0 329.9 1486.4 330.7 1495.5C331.5 1504.7 332.4 1512.8 333.4 1520.9C334.4 1529.1 335.7 1537.2 336.9 1544.4C338.2 1551.5 339.4 1557.9 340.8 1563.9C342.3 1569.9 343.9 1575.6 345.7 1580.5C347.5 1585.4 349.6 1589.5 351.6 1593.2C353.5 1596.9 355.5 1600.2 357.4 1603.0C359.4 1605.7 361.7 1608.2 363.3 1609.8C364.9 1611.4 365.6 1612.0 367.2 1612.7C368.8 1613.5 371.3 1613.7 373.0 1614.3C374.8 1614.9 376.3 1615.2 377.9 1616.2C379.6 1617.3 381.0 1619.2 382.8 1620.5C384.6 1621.8 386.7 1623.3 388.7 1624.1C390.6 1624.8 392.6 1624.9 394.5 1625.2C396.4 1625.6 397.4 1625.9 400.0 1626.0C402.6 1626.1 406.7 1625.8 410.0 1625.8C413.3 1625.8 417.0 1625.8 420.0 1626.1C423.0 1626.4 425.3 1627.0 428.0 1627.4C430.7 1627.8 432.7 1628.4 436.0 1628.7C439.3 1629.0 442.3 1629.2 448.0 1629.4C453.7 1629.6 461.3 1629.6 470.0 1629.6C478.7 1629.5 491.7 1629.2 500.0 1629.1C508.3 1629.0 513.3 1628.7 520.0 1628.8C526.7 1628.9 532.5 1629.5 540.0 1629.5C547.5 1629.5 556.7 1629.0 565.0 1629.0C573.3 1629.0 577.5 1629.5 590.0 1629.6C602.5 1629.7 620.5 1629.8 640.0 1629.8C659.5 1629.8 695.7 1629.9 706.8 1629.9" fill="none" stroke="#82c6e6" stroke-width="1.6" stroke-linejoin="round"/>
<rect x="136.9" y="1314.2" width="596.5" height="316" fill="none" stroke="#cccccc" stroke-width="1.3"/>
<text transform="translate(126.9 1638.3)" font-family='"Liberation Sans",sans-serif' font-size="21.6" text-anchor="end" fill="#222">0</text>
<text transform="translate(126.9 1580.7)" font-family='"Liberation Sans",sans-serif' font-size="21.6" text-anchor="end" fill="#222">500</text>
<text transform="translate(126.9 1523.1)" font-family='"Liberation Sans",sans-serif' font-size="21.6" text-anchor="end" fill="#222">1000</text>
<text transform="translate(126.9 1465.5)" font-family='"Liberation Sans",sans-serif' font-size="21.6" text-anchor="end" fill="#222">1500</text>
<text transform="translate(126.9 1407.9)" font-family='"Liberation Sans",sans-serif' font-size="21.6" text-anchor="end" fill="#222">2000</text>
<text transform="translate(126.9 1350.3)" font-family='"Liberation Sans",sans-serif' font-size="21.6" text-anchor="end" fill="#222">2500</text>
<text transform="translate(180.4 1656.1)" font-family='"Liberation Sans",sans-serif' font-size="21.6" text-anchor="middle" fill="#222">−1</text>
<text transform="translate(321.5 1656.1)" font-family='"Liberation Sans",sans-serif' font-size="21.6" text-anchor="middle" fill="#222">0</text>
<text transform="translate(462.6 1656.1)" font-family='"Liberation Sans",sans-serif' font-size="21.6" text-anchor="middle" fill="#222">1</text>
<text transform="translate(603.7 1656.1)" font-family='"Liberation Sans",sans-serif' font-size="21.6" text-anchor="middle" fill="#222">2</text>
<text transform="translate(169.6 1308)" font-family='"Liberation Sans",sans-serif' font-size="25.58" fill="#222">Prediction Error Distribution (Validation Cohort)</text>
<text transform="translate(341.1 1683.5)" font-family='"Liberation Sans",sans-serif' font-size="27.08" fill="#222">Prediction Error</text>
<text transform="translate(732.4 1679.8)" font-family='"Liberation Sans",sans-serif' font-size="24" text-anchor="end" fill="#222">1e6</text>
<text transform="translate(73 1474) rotate(-90)" font-family='"Liberation Sans",sans-serif' font-size="26.88" text-anchor="middle" fill="#222">Frequency</text>
<text transform="translate(70.2 1300.1)" font-family='"Liberation Serif",serif' font-size="29">G</text>
<rect x="892.9" y="1314.2" width="591.9" height="316" fill="#fff"/>
<line x1="892.9" y1="1549.45" x2="1484.8" y2="1549.45" stroke="#d9d9d9" stroke-width="0.9" stroke-dasharray="1.8 1.2"/>
<line x1="892.9" y1="1468.7" x2="1484.8" y2="1468.7" stroke="#d9d9d9" stroke-width="0.9" stroke-dasharray="1.8 1.2"/>
<line x1="892.9" y1="1387.95" x2="1484.8" y2="1387.95" stroke="#d9d9d9" stroke-width="0.9" stroke-dasharray="1.8 1.2"/>
<line x1="924.5" y1="1314.2" x2="924.5" y2="1630.2" stroke="#d9d9d9" stroke-width="0.9" stroke-dasharray="1.8 1.2"/>
<line x1="1020.8" y1="1314.2" x2="1020.8" y2="1630.2" stroke="#d9d9d9" stroke-width="0.9" stroke-dasharray="1.8 1.2"/>
<line x1="1117.1" y1="1314.2" x2="1117.1" y2="1630.2" stroke="#d9d9d9" stroke-width="0.9" stroke-dasharray="1.8 1.2"/>
<line x1="1213.4" y1="1314.2" x2="1213.4" y2="1630.2" stroke="#d9d9d9" stroke-width="0.9" stroke-dasharray="1.8 1.2"/>
<line x1="1309.7" y1="1314.2" x2="1309.7" y2="1630.2" stroke="#d9d9d9" stroke-width="0.9" stroke-dasharray="1.8 1.2"/>
<line x1="1406" y1="1314.2" x2="1406" y2="1630.2" stroke="#d9d9d9" stroke-width="0.9" stroke-dasharray="1.8 1.2"/>
<rect x="920.6" y="1630.04" width="16.72" height="0.16" fill="#f9bfa8"/>
<rect x="938.52" y="1629.88" width="16.72" height="0.32" fill="#f9bfa8"/>
<rect x="956.44" y="1628.59" width="16.72" height="1.61" fill="#f9bfa8"/>
<rect x="974.36" y="1620.51" width="16.72" height="9.69" fill="#f9bfa8"/>
<rect x="992.28" y="1570.04" width="16.72" height="60.16" fill="#f9bfa8"/>
<rect x="1010.2" y="1384.72" width="16.72" height="245.48" fill="#f9bfa8"/>
<rect x="1028.12" y="1577.87" width="16.72" height="52.33" fill="#f9bfa8"/>
<rect x="1046.04" y="1614.05" width="16.72" height="16.15" fill="#f9bfa8"/>
<rect x="1063.96" y="1625.03" width="16.72" height="5.17" fill="#f9bfa8"/>
<rect x="1081.88" y="1627.37" width="16.72" height="2.83" fill="#f9bfa8"/>
<rect x="1099.8" y="1628.99" width="16.72" height="1.21" fill="#f9bfa8"/>
<rect x="1117.72" y="1629.55" width="16.72" height="0.65" fill="#f9bfa8"/>
<rect x="1135.64" y="1629.8" width="16.72" height="0.4" fill="#f9bfa8"/>
<rect x="1153.56" y="1629.88" width="16.72" height="0.32" fill="#f9bfa8"/>
<rect x="1171.48" y="1629.96" width="16.72" height="0.24" fill="#f9bfa8"/>
<rect x="1189.4" y="1629.96" width="16.72" height="0.24" fill="#f9bfa8"/>
<rect x="1207.32" y="1630.04" width="16.72" height="0.16" fill="#f9bfa8"/>
<rect x="1225.24" y="1630.04" width="16.72" height="0.16" fill="#f9bfa8"/>
<rect x="1243.16" y="1630.04" width="16.72" height="0.16" fill="#f9bfa8"/>
<rect x="1261.08" y="1630.04" width="16.72" height="0.16" fill="#f9bfa8"/>
<rect x="1279" y="1630.12" width="16.72" height="0.08" fill="#f9bfa8"/>
<rect x="1296.92" y="1630.12" width="16.72" height="0.08" fill="#f9bfa8"/>
<rect x="1314.84" y="1630.12" width="16.72" height="0.08" fill="#f9bfa8"/>
<rect x="1332.76" y="1630.12" width="16.72" height="0.08" fill="#f9bfa8"/>
<rect x="1350.68" y="1630.12" width="16.72" height="0.08" fill="#f9bfa8"/>
<rect x="1368.6" y="1630.12" width="16.72" height="0.08" fill="#f9bfa8"/>
<rect x="1386.52" y="1630.12" width="16.72" height="0.08" fill="#f9bfa8"/>
<rect x="1404.44" y="1630.12" width="16.72" height="0.08" fill="#f9bfa8"/>
<rect x="1422.36" y="1630.12" width="16.72" height="0.08" fill="#f9bfa8"/>
<rect x="1440.28" y="1630.12" width="16.72" height="0.08" fill="#f9bfa8"/>
<path d="M919.5 1629.9C922.1 1629.9 929.9 1629.8 935.0 1629.6C940.1 1629.4 945.5 1629.0 950.0 1628.8C954.5 1628.5 958.5 1628.4 961.7 1628.0C965.0 1627.6 967.3 1627.2 969.5 1626.4C971.8 1625.7 973.4 1624.6 975.4 1623.5C977.3 1622.3 979.5 1621.0 981.2 1619.6C983.0 1618.1 984.7 1616.5 986.1 1614.7C987.6 1612.9 988.8 1611.4 990.0 1608.8C991.2 1606.2 992.3 1603.3 993.4 1599.1C994.4 1594.8 995.5 1589.3 996.5 1583.4C997.5 1577.6 998.3 1571.1 999.2 1563.9C1000.1 1556.7 1000.9 1548.6 1001.8 1540.5C1002.6 1532.3 1003.4 1524.2 1004.1 1515.1C1004.9 1506.0 1005.6 1495.5 1006.2 1485.8C1006.9 1476.0 1007.6 1466.2 1008.2 1456.5C1008.8 1446.7 1009.4 1437.0 1010.0 1427.2C1010.5 1417.4 1011.0 1407.0 1011.5 1397.9C1012.0 1388.8 1012.4 1380.6 1012.9 1372.5C1013.4 1364.4 1013.9 1355.2 1014.5 1349.1C1015.0 1342.9 1015.6 1338.7 1016.0 1335.4C1016.5 1332.0 1016.8 1329.1 1017.2 1328.9C1017.6 1328.8 1017.9 1332.7 1018.4 1334.4C1018.8 1336.1 1019.5 1335.2 1019.9 1339.3C1020.4 1343.4 1020.7 1352.0 1021.1 1358.8C1021.5 1365.7 1021.9 1372.8 1022.3 1380.3C1022.7 1387.8 1023.0 1395.3 1023.4 1403.8C1023.9 1412.2 1024.3 1422.0 1024.8 1431.1C1025.3 1440.2 1025.7 1449.3 1026.2 1458.4C1026.7 1467.6 1027.2 1477.0 1027.7 1485.8C1028.3 1494.6 1028.7 1503.0 1029.3 1511.2C1029.9 1519.3 1030.5 1527.1 1031.2 1534.6C1032.0 1542.1 1032.7 1549.6 1033.6 1556.1C1034.4 1562.6 1035.4 1568.5 1036.3 1573.7C1037.3 1578.9 1038.3 1583.1 1039.5 1587.3C1040.6 1591.6 1042.0 1595.8 1043.4 1599.1C1044.7 1602.3 1046.0 1604.6 1047.7 1606.9C1049.3 1609.2 1051.6 1610.8 1053.5 1612.7C1055.5 1614.7 1057.4 1616.9 1059.4 1618.6C1061.3 1620.3 1063.3 1622.0 1065.2 1623.1C1067.2 1624.1 1069.1 1624.6 1071.1 1624.8C1073.0 1625.1 1075.0 1624.8 1077.0 1624.8C1078.9 1624.8 1081.2 1624.4 1082.8 1624.8C1084.4 1625.3 1084.8 1626.8 1086.7 1627.4C1088.7 1628.0 1092.3 1628.2 1094.5 1628.4C1096.7 1628.5 1097.4 1628.2 1100.0 1628.4C1102.6 1628.5 1105.0 1629.1 1110.0 1629.2C1115.0 1629.3 1123.3 1628.8 1130.0 1628.8C1136.7 1628.8 1138.3 1629.3 1150.0 1629.5C1161.7 1629.7 1175.0 1629.6 1200.0 1629.7C1225.0 1629.8 1257.1 1629.9 1300.0 1629.9C1342.9 1629.9 1431.0 1629.9 1457.2 1629.9" fill="none" stroke="#ef7f52" stroke-width="1.6" stroke-linejoin="round"/>
<rect x="892.9" y="1314.2" width="591.9" height="316" fill="none" stroke="#cccccc" stroke-width="1.3"/>
<text transform="translate(882.9 1638.3)" font-family='"Liberation Sans",sans-serif' font-size="21.6" text-anchor="end" fill="#222">0</text>
<text transform="translate(882.9 1557.55)" font-family='"Liberation Sans",sans-serif' font-size="21.6" text-anchor="end" fill="#222">1000</text>
<text transform="translate(882.9 1476.8)" font-family='"Liberation Sans",sans-serif' font-size="21.6" text-anchor="end" fill="#222">2000</text>
<text transform="translate(882.9 1396.05)" font-family='"Liberation Sans",sans-serif' font-size="21.6" text-anchor="end" fill="#222">3000</text>
<text transform="translate(924.5 1656.1)" font-family='"Liberation Sans",sans-serif' font-size="21.6" text-anchor="middle" fill="#222">−1</text>
<text transform="translate(1020.8 1656.1)" font-family='"Liberation Sans",sans-serif' font-size="21.6" text-anchor="middle" fill="#222">0</text>
<text transform="translate(1117.1 1656.1)" font-family='"Liberation Sans",sans-serif' font-size="21.6" text-anchor="middle" fill="#222">1</text>
<text transform="translate(1213.4 1656.1)" font-family='"Liberation Sans",sans-serif' font-size="21.6" text-anchor="middle" fill="#222">2</text>
<text transform="translate(1309.7 1656.1)" font-family='"Liberation Sans",sans-serif' font-size="21.6" text-anchor="middle" fill="#222">3</text>
<text transform="translate(1406 1656.1)" font-family='"Liberation Sans",sans-serif' font-size="21.6" text-anchor="middle" fill="#222">4</text>
<text transform="translate(883.9 1308)" font-family='"Liberation Sans",sans-serif' font-size="25.35" fill="#222">Prediction Error Distribution (Independent Test Cohort)</text>
<text transform="translate(1095.1 1683.5)" font-family='"Liberation Sans",sans-serif' font-size="27.08" fill="#222">Prediction Error</text>
<text transform="translate(1484.3 1679.8)" font-family='"Liberation Sans",sans-serif' font-size="24" text-anchor="end" fill="#222">1e6</text>
<text transform="translate(828 1474) rotate(-90)" font-family='"Liberation Sans",sans-serif' font-size="26.88" text-anchor="middle" fill="#222">Frequency</text>
<text transform="translate(827.7 1300.1)" font-family='"Liberation Serif",serif' font-size="29">H</text>
</svg></body></html>
